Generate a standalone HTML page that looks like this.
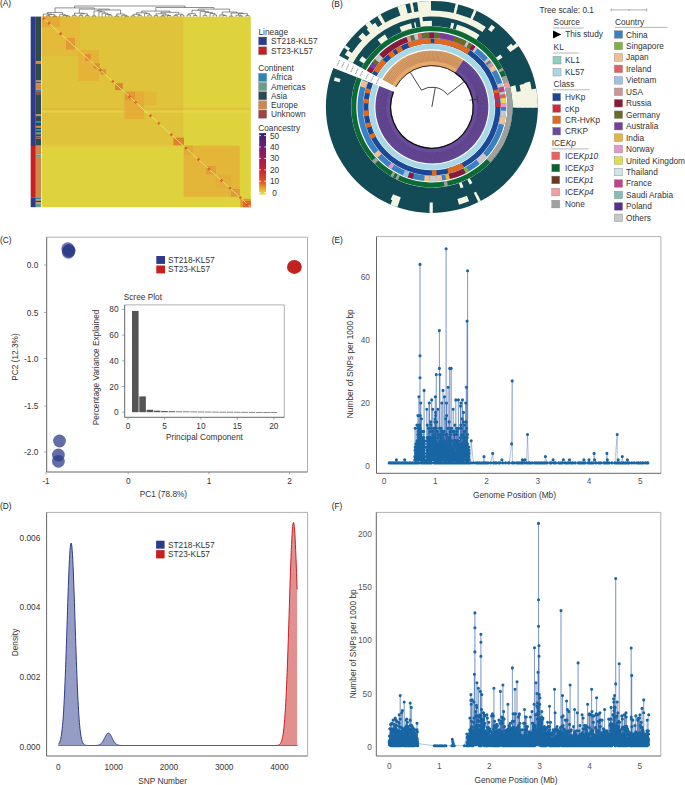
<!DOCTYPE html>
<html><head><meta charset="utf-8"><style>
html,body{margin:0;padding:0;background:#fff;width:685px;height:785px;overflow:hidden}
svg{display:block}
text{font-family:"Liberation Sans", sans-serif}
</style></head><body>
<svg width="685" height="785" viewBox="0 0 685 785" font-family="Liberation Sans, sans-serif">
<text x="0.00" y="6.20" font-size="8.3" fill="#222" text-anchor="start" >(A)</text>
<rect x="30.70" y="16.60" width="5.10" height="129.40" fill="#2e3b8a" />
<rect x="30.70" y="146.00" width="5.10" height="51.30" fill="#c82020" />
<rect x="30.70" y="197.30" width="5.10" height="9.90" fill="#2e3b8a" />
<rect x="35.80" y="16.60" width="5.20" height="44.90" fill="#2e4a50" />
<rect x="35.80" y="61.50" width="5.20" height="2.20" fill="#d0884a" />
<rect x="35.80" y="63.70" width="5.20" height="16.90" fill="#2e4a50" />
<rect x="35.80" y="80.60" width="5.20" height="1.50" fill="#d0884a" />
<rect x="35.80" y="82.10" width="5.20" height="1.10" fill="#2e4a50" />
<rect x="35.80" y="83.20" width="5.20" height="6.30" fill="#d0884a" />
<rect x="35.80" y="89.50" width="5.20" height="2.50" fill="#2b86b8" />
<rect x="35.80" y="92.00" width="5.20" height="2.20" fill="#a0443f" />
<rect x="35.80" y="94.20" width="5.20" height="20.30" fill="#2e4a50" />
<rect x="35.80" y="114.50" width="5.20" height="1.60" fill="#d0884a" />
<rect x="35.80" y="116.10" width="5.20" height="5.60" fill="#2e4a50" />
<rect x="35.80" y="121.70" width="5.20" height="1.30" fill="#2b86b8" />
<rect x="35.80" y="123.00" width="5.20" height="2.90" fill="#2e4a50" />
<rect x="35.80" y="125.90" width="5.20" height="1.70" fill="#d0884a" />
<rect x="35.80" y="127.60" width="5.20" height="2.10" fill="#2e4a50" />
<rect x="35.80" y="129.70" width="5.20" height="1.30" fill="#2b86b8" />
<rect x="35.80" y="131.00" width="5.20" height="1.70" fill="#2e4a50" />
<rect x="35.80" y="132.70" width="5.20" height="1.50" fill="#6a9e8a" />
<rect x="35.80" y="134.20" width="5.20" height="2.30" fill="#2e4a50" />
<rect x="35.80" y="136.50" width="5.20" height="2.20" fill="#a0443f" />
<rect x="35.80" y="138.70" width="5.20" height="7.00" fill="#2e4a50" />
<rect x="35.80" y="145.70" width="5.20" height="8.90" fill="#d0884a" />
<rect x="35.80" y="154.60" width="5.20" height="2.30" fill="#6a9e8a" />
<rect x="35.80" y="156.90" width="5.20" height="40.40" fill="#d0884a" />
<rect x="35.80" y="197.30" width="5.20" height="1.90" fill="#2b86b8" />
<rect x="35.80" y="199.20" width="5.20" height="1.50" fill="#d0884a" />
<rect x="35.80" y="200.70" width="5.20" height="1.70" fill="#2e4a50" />
<rect x="35.80" y="202.40" width="5.20" height="1.20" fill="#d0884a" />
<rect x="35.80" y="203.60" width="5.20" height="3.60" fill="#6a9e8a" />
<rect x="41.70" y="16.60" width="209.10" height="190.60" fill="#dfd33d" />
<rect x="41.70" y="16.60" width="141.60" height="128.90" fill="#dfc43b" fill-opacity="1.0"/>
<rect x="183.60" y="145.60" width="56.20" height="51.20" fill="#e3b63a" fill-opacity="1.0"/>
<rect x="240.30" y="198.80" width="10.50" height="8.40" fill="#e39a32" fill-opacity="1.0"/>
<rect x="41.70" y="108.30" width="209.10" height="1.30" fill="#e4ac38" fill-opacity="0.6"/>
<rect x="41.70" y="110.60" width="209.10" height="2.00" fill="#e6dc58" fill-opacity="0.5"/>
<rect x="41.70" y="145.50" width="140.90" height="1.50" fill="#e0c440" fill-opacity="0.5"/>
<rect x="41.70" y="16.60" width="38.30" height="39.40" fill="#e8b038" fill-opacity="0.45"/>
<rect x="41.70" y="16.60" width="18.30" height="10.40" fill="#e6a034" fill-opacity="0.6"/>
<rect x="66.00" y="38.00" width="9.00" height="11.50" fill="#e39436" fill-opacity="0.9"/>
<rect x="78.00" y="50.00" width="21.00" height="31.00" fill="#e6ac36" fill-opacity="0.7"/>
<rect x="85.00" y="54.00" width="5.60" height="7.00" fill="#e08a34" fill-opacity="0.9"/>
<rect x="93.60" y="63.30" width="6.20" height="5.30" fill="#e08a34" fill-opacity="0.9"/>
<rect x="100.50" y="69.40" width="5.50" height="5.40" fill="#e08a34" fill-opacity="0.9"/>
<rect x="115.00" y="83.20" width="7.80" height="6.90" fill="#e07a30" fill-opacity="0.9"/>
<rect x="124.30" y="91.60" width="19.90" height="27.60" fill="#e6a636" fill-opacity="0.8"/>
<rect x="144.20" y="91.60" width="12.30" height="13.40" fill="#e6b038" fill-opacity="0.6"/>
<rect x="125.00" y="91.60" width="10.00" height="8.40" fill="#e39036" fill-opacity="0.7"/>
<rect x="173.40" y="137.60" width="10.60" height="7.70" fill="#e07a30" fill-opacity="0.9"/>
<rect x="206.00" y="166.00" width="9.80" height="8.70" fill="#e29a36" fill-opacity="0.8"/>
<rect x="231.00" y="189.00" width="8.80" height="7.70" fill="#e0903a" fill-opacity="0.8"/>
<rect x="184.10" y="145.60" width="9.20" height="9.70" fill="#e2a036" fill-opacity="0.6"/>
<rect x="215.80" y="174.70" width="15.20" height="13.30" fill="#e2aa38" fill-opacity="0.5"/>
<rect x="243.00" y="201.00" width="7.80" height="6.20" fill="#dc5a2a" fill-opacity="0.8"/>
<line x1="41.7" y1="16.6" x2="250.8" y2="207.2" stroke="#ebe066" stroke-width="1.0"/>
<rect x="42.59" y="17.31" width="2.4" height="2.4" fill="#d8482c" fill-opacity="0.8" transform="rotate(45 43.79 18.51)"/>
<rect x="47.82" y="22.07" width="2.4" height="2.4" fill="#d8482c" fill-opacity="0.8" transform="rotate(45 49.02 23.27)"/>
<rect x="59.32" y="32.55" width="2.4" height="2.4" fill="#d8482c" fill-opacity="0.8" transform="rotate(45 60.52 33.75)"/>
<rect x="99.05" y="68.77" width="2.4" height="2.4" fill="#d8482c" fill-opacity="0.8" transform="rotate(45 100.25 69.97)"/>
<rect x="111.59" y="80.20" width="2.4" height="2.4" fill="#d8482c" fill-opacity="0.8" transform="rotate(45 112.79 81.40)"/>
<rect x="128.32" y="95.45" width="2.4" height="2.4" fill="#d8482c" fill-opacity="0.8" transform="rotate(45 129.52 96.65)"/>
<rect x="134.60" y="101.17" width="2.4" height="2.4" fill="#d8482c" fill-opacity="0.8" transform="rotate(45 135.80 102.37)"/>
<rect x="149.23" y="114.51" width="2.4" height="2.4" fill="#d8482c" fill-opacity="0.8" transform="rotate(45 150.43 115.71)"/>
<rect x="157.60" y="122.14" width="2.4" height="2.4" fill="#d8482c" fill-opacity="0.8" transform="rotate(45 158.80 123.34)"/>
<rect x="170.14" y="133.57" width="2.4" height="2.4" fill="#d8482c" fill-opacity="0.8" transform="rotate(45 171.34 134.77)"/>
<rect x="184.78" y="146.91" width="2.4" height="2.4" fill="#d8482c" fill-opacity="0.8" transform="rotate(45 185.98 148.11)"/>
<rect x="197.33" y="158.35" width="2.4" height="2.4" fill="#d8482c" fill-opacity="0.8" transform="rotate(45 198.53 159.55)"/>
<rect x="207.78" y="167.88" width="2.4" height="2.4" fill="#d8482c" fill-opacity="0.8" transform="rotate(45 208.98 169.08)"/>
<rect x="220.33" y="179.32" width="2.4" height="2.4" fill="#d8482c" fill-opacity="0.8" transform="rotate(45 221.53 180.52)"/>
<rect x="228.69" y="186.94" width="2.4" height="2.4" fill="#d8482c" fill-opacity="0.8" transform="rotate(45 229.89 188.14)"/>
<rect x="239.15" y="196.47" width="2.4" height="2.4" fill="#d8482c" fill-opacity="0.8" transform="rotate(45 240.35 197.67)"/>
<rect x="246.46" y="203.14" width="2.4" height="2.4" fill="#d8482c" fill-opacity="0.8" transform="rotate(45 247.66 204.34)"/>
<path d="M46.6 16.6L46.6 15.7M49.9 16.6L49.9 15.7M46.6 15.7L49.9 15.7M53.1 16.6L53.1 16.1M56.4 16.6L56.4 16.1M53.1 16.1L56.4 16.1M48.2 15.7L48.2 14.6M54.8 16.1L54.8 14.6M48.2 14.6L54.8 14.6M43.3 16.6L43.3 14.0M51.5 14.6L51.5 14.0M43.3 14.0L51.5 14.0M66.2 16.6L66.2 16.0M69.5 16.6L69.5 16.0M66.2 16.0L69.5 16.0M62.9 16.6L62.9 15.5M67.8 16.0L67.8 15.5M62.9 15.5L67.8 15.5M59.7 16.6L59.7 14.4M65.4 15.5L65.4 14.4M59.7 14.4L65.4 14.4M47.4 14.0L47.4 12.5M62.5 14.4L62.5 12.5M47.4 12.5L62.5 12.5M72.7 16.6L72.7 15.3M76.0 16.6L76.0 15.3M72.7 15.3L76.0 15.3M79.3 16.6L79.3 15.4M82.5 16.6L82.5 15.4M79.3 15.4L82.5 15.4M85.8 16.6L85.8 15.6M89.1 16.6L89.1 15.6M85.8 15.6L89.1 15.6M80.9 15.4L80.9 13.7M87.4 15.6L87.4 13.7M80.9 13.7L87.4 13.7M74.4 15.3L74.4 13.2M84.2 13.7L84.2 13.2M74.4 13.2L84.2 13.2M92.3 16.6L92.3 15.9M95.6 16.6L95.6 15.9M92.3 15.9L95.6 15.9M108.7 16.6L108.7 15.1M111.9 16.6L111.9 15.1M108.7 15.1L111.9 15.1M105.4 16.6L105.4 14.4M110.3 15.1L110.3 14.4M105.4 14.4L110.3 14.4M102.1 16.6L102.1 13.2M107.9 14.4L107.9 13.2M102.1 13.2L107.9 13.2M98.9 16.6L98.9 11.9M105.0 13.2L105.0 11.9M98.9 11.9L105.0 11.9M94.0 15.9L94.0 11.0M101.9 11.9L101.9 11.0M94.0 11.0L101.9 11.0M115.2 16.6L115.2 16.0M118.5 16.6L118.5 16.0M115.2 16.0L118.5 16.0M125.0 16.6L125.0 16.1M128.3 16.6L128.3 16.1M125.0 16.1L128.3 16.1M121.7 16.6L121.7 15.3M126.6 16.1L126.6 15.3M121.7 15.3L126.6 15.3M116.8 16.0L116.8 14.0M124.2 15.3L124.2 14.0M116.8 14.0L124.2 14.0M98.0 11.0L98.0 10.0M120.5 14.0L120.5 10.0M98.0 10.0L120.5 10.0M79.3 13.2L79.3 9.1M109.2 10.0L109.2 9.1M79.3 9.1L109.2 9.1M55.0 12.5L55.0 7.9M94.3 9.1L94.3 7.9M55.0 7.9L94.3 7.9M131.5 16.6L131.5 15.8M134.8 16.6L134.8 15.8M131.5 15.8L134.8 15.8M138.1 16.6L138.1 15.4M141.3 16.6L141.3 15.4M138.1 15.4L141.3 15.4M133.2 15.8L133.2 14.3M139.7 15.4L139.7 14.3M133.2 14.3L139.7 14.3M147.9 16.6L147.9 15.0M151.2 16.6L151.2 15.0M147.9 15.0L151.2 15.0M144.6 16.6L144.6 13.6M149.5 15.0L149.5 13.6M144.6 13.6L149.5 13.6M136.4 14.3L136.4 12.8M147.1 13.6L147.1 12.8M136.4 12.8L147.1 12.8M154.4 16.6L154.4 15.6M157.7 16.6L157.7 15.6M154.4 15.6L157.7 15.6M161.0 16.6L161.0 15.9M164.2 16.6L164.2 15.9M161.0 15.9L164.2 15.9M167.5 16.6L167.5 15.5M170.8 16.6L170.8 15.5M167.5 15.5L170.8 15.5M162.6 15.9L162.6 15.0M169.1 15.5L169.1 15.0M162.6 15.0L169.1 15.0M156.1 15.6L156.1 13.7M165.9 15.0L165.9 13.7M156.1 13.7L165.9 13.7M174.0 16.6L174.0 15.4M177.3 16.6L177.3 15.4M174.0 15.4L177.3 15.4M180.6 16.6L180.6 15.0M183.8 16.6L183.8 15.0M180.6 15.0L183.8 15.0M175.7 15.4L175.7 14.2M182.2 15.0L182.2 14.2M175.7 14.2L182.2 14.2M161.0 13.7L161.0 12.3M178.9 14.2L178.9 12.3M161.0 12.3L178.9 12.3M141.8 12.8L141.8 11.1M169.9 12.3L169.9 11.1M141.8 11.1L169.9 11.1M187.1 16.6L187.1 14.9M190.4 16.6L190.4 14.9M187.1 14.9L190.4 14.9M193.6 16.6L193.6 15.5M196.9 16.6L196.9 15.5M193.6 15.5L196.9 15.5M188.7 14.9L188.7 13.6M195.3 15.5L195.3 13.6M188.7 13.6L195.3 13.6M203.4 16.6L203.4 15.3M206.7 16.6L206.7 15.3M203.4 15.3L206.7 15.3M213.2 16.6L213.2 14.9M216.5 16.6L216.5 14.9M213.2 14.9L216.5 14.9M210.0 16.6L210.0 13.4M214.9 14.9L214.9 13.4M210.0 13.4L214.9 13.4M205.1 15.3L205.1 12.5M212.4 13.4L212.4 12.5M205.1 12.5L212.4 12.5M200.2 16.6L200.2 11.6M208.7 12.5L208.7 11.6M200.2 11.6L208.7 11.6M192.0 13.6L192.0 10.3M204.4 11.6L204.4 10.3M192.0 10.3L204.4 10.3M223.0 16.6L223.0 15.5M226.3 16.6L226.3 15.5M223.0 15.5L226.3 15.5M219.8 16.6L219.8 14.9M224.7 15.5L224.7 14.9M219.8 14.9L224.7 14.9M229.6 16.6L229.6 16.1M232.8 16.6L232.8 16.1M229.6 16.1L232.8 16.1M239.4 16.6L239.4 16.0M242.6 16.6L242.6 16.0M239.4 16.0L242.6 16.0M236.1 16.6L236.1 15.2M241.0 16.0L241.0 15.2M236.1 15.2L241.0 15.2M245.9 16.6L245.9 15.6M249.2 16.6L249.2 15.6M245.9 15.6L249.2 15.6M238.5 15.2L238.5 13.6M247.5 15.6L247.5 13.6M238.5 13.6L247.5 13.6M231.2 16.1L231.2 13.0M243.0 13.6L243.0 13.0M231.2 13.0L243.0 13.0M222.2 14.9L222.2 12.0M237.1 13.0L237.1 12.0M222.2 12.0L237.1 12.0M198.2 10.3L198.2 9.1M229.7 12.0L229.7 9.1M198.2 9.1L229.7 9.1M155.8 11.1L155.8 7.5M213.9 9.1L213.9 7.5M155.8 7.5L213.9 7.5M74.6 7.9L74.6 6.0M184.9 7.5L184.9 6.0M74.6 6.0L184.9 6.0" stroke="#444" stroke-width="0.6" fill="none"/>
<text x="258.50" y="34.80" font-size="8.3" fill="#333" text-anchor="start" >Lineage</text>
<rect x="258.50" y="37.00" width="8.30" height="8.00" fill="#2e3b8a" stroke="#999" stroke-width="0.4"/>
<text x="271.00" y="44.20" font-size="8.3" fill="#333" text-anchor="start" >ST218-KL57</text>
<rect x="258.50" y="46.80" width="8.30" height="8.00" fill="#c82020" stroke="#999" stroke-width="0.4"/>
<text x="271.00" y="54.00" font-size="8.3" fill="#333" text-anchor="start" >ST23-KL57</text>
<text x="258.20" y="70.80" font-size="8.3" fill="#333" text-anchor="start" >Continent</text>
<rect x="258.50" y="73.20" width="8.30" height="8.30" fill="#2b86b8" stroke="#999" stroke-width="0.4"/>
<text x="271.00" y="80.30" font-size="8.3" fill="#333" text-anchor="start" >Africa</text>
<rect x="258.50" y="82.40" width="8.30" height="8.30" fill="#6a9e8a" stroke="#999" stroke-width="0.4"/>
<text x="271.00" y="89.50" font-size="8.3" fill="#333" text-anchor="start" >Americas</text>
<rect x="258.50" y="91.60" width="8.30" height="8.30" fill="#2e4a50" stroke="#999" stroke-width="0.4"/>
<text x="271.00" y="98.70" font-size="8.3" fill="#333" text-anchor="start" >Asia</text>
<rect x="258.50" y="100.80" width="8.30" height="8.30" fill="#d0884a" stroke="#999" stroke-width="0.4"/>
<text x="271.00" y="107.90" font-size="8.3" fill="#333" text-anchor="start" >Europe</text>
<rect x="258.50" y="110.00" width="8.30" height="8.30" fill="#a0443f" stroke="#999" stroke-width="0.4"/>
<text x="271.00" y="117.10" font-size="8.3" fill="#333" text-anchor="start" >Unknown</text>
<text x="258.20" y="130.50" font-size="8.3" fill="#333" text-anchor="start" >Coancestry</text>
<defs><linearGradient id="cb" x1="0" y1="1" x2="0" y2="0"><stop offset="0" stop-color="#e6e43c"/><stop offset="0.1" stop-color="#e8a828"/><stop offset="0.2" stop-color="#e05a22"/><stop offset="0.4" stop-color="#cc2030"/><stop offset="0.6" stop-color="#a01a58"/><stop offset="0.8" stop-color="#6a1e78"/><stop offset="1" stop-color="#342070"/></linearGradient></defs>
<rect x="259.20" y="133.10" width="6.80" height="61.60" fill="url(#cb)" />
<line x1="259.2" y1="192.6" x2="261.0" y2="192.6" stroke="#fff" stroke-width="0.8"/>
<line x1="264.2" y1="192.6" x2="266" y2="192.6" stroke="#fff" stroke-width="0.8"/>
<text x="274.60" y="195.60" font-size="8.3" fill="#333" text-anchor="middle" >0</text>
<line x1="259.2" y1="181.2" x2="261.0" y2="181.2" stroke="#fff" stroke-width="0.8"/>
<line x1="264.2" y1="181.2" x2="266" y2="181.2" stroke="#fff" stroke-width="0.8"/>
<text x="274.60" y="184.20" font-size="8.3" fill="#333" text-anchor="middle" >10</text>
<line x1="259.2" y1="169.8" x2="261.0" y2="169.8" stroke="#fff" stroke-width="0.8"/>
<line x1="264.2" y1="169.8" x2="266" y2="169.8" stroke="#fff" stroke-width="0.8"/>
<text x="274.60" y="172.80" font-size="8.3" fill="#333" text-anchor="middle" >20</text>
<line x1="259.2" y1="158.4" x2="261.0" y2="158.4" stroke="#fff" stroke-width="0.8"/>
<line x1="264.2" y1="158.4" x2="266" y2="158.4" stroke="#fff" stroke-width="0.8"/>
<text x="274.60" y="161.40" font-size="8.3" fill="#333" text-anchor="middle" >30</text>
<line x1="259.2" y1="147.0" x2="261.0" y2="147.0" stroke="#fff" stroke-width="0.8"/>
<line x1="264.2" y1="147.0" x2="266" y2="147.0" stroke="#fff" stroke-width="0.8"/>
<text x="274.60" y="150.00" font-size="8.3" fill="#333" text-anchor="middle" >40</text>
<line x1="259.2" y1="135.6" x2="261.0" y2="135.6" stroke="#fff" stroke-width="0.8"/>
<line x1="264.2" y1="135.6" x2="266" y2="135.6" stroke="#fff" stroke-width="0.8"/>
<text x="274.60" y="138.60" font-size="8.3" fill="#333" text-anchor="middle" >50</text>
<text x="331.60" y="7.20" font-size="8.3" fill="#222" text-anchor="start" >(B)</text>
<path d="M339.19 55.51A106.00 106.00 0 1 1 333.34 67.88L356.87 77.19A80.70 80.70 0 1 0 361.32 67.78Z" fill="#124b56" />
<path d="M359.16 60.56A86.25 86.25 0 0 1 362.12 56.20L366.61 59.47A80.70 80.70 0 0 0 363.84 63.54Z" fill="#f3f5e2" />
<path d="M377.62 39.87A86.25 86.25 0 0 1 384.92 34.56L387.95 39.22A80.70 80.70 0 0 0 381.11 44.18Z" fill="#f3f5e2" />
<path d="M399.59 26.93A86.25 86.25 0 0 1 411.03 23.21L412.38 28.60A80.70 80.70 0 0 0 401.67 32.08Z" fill="#f3f5e2" />
<path d="M413.97 22.53A86.25 86.25 0 0 1 415.44 22.23L416.50 27.68A80.70 80.70 0 0 0 415.12 27.96Z" fill="#f3f5e2" />
<path d="M419.90 21.49A86.25 86.25 0 0 1 431.90 20.65L431.90 26.20A80.70 80.70 0 0 0 420.67 26.99Z" fill="#f3f5e2" />
<path d="M451.30 22.86A86.25 86.25 0 0 1 454.22 23.59L452.79 28.95A80.70 80.70 0 0 0 450.05 28.27Z" fill="#f3f5e2" />
<path d="M457.12 24.42A86.25 86.25 0 0 1 479.50 34.98L476.44 39.61A80.70 80.70 0 0 0 455.49 29.73Z" fill="#f3f5e2" />
<path d="M500.33 54.39A86.25 86.25 0 0 1 502.55 57.43L498.01 60.61A80.70 80.70 0 0 0 495.92 57.77Z" fill="#f3f5e2" />
<path d="M515.40 85.30A86.25 86.25 0 0 1 518.15 107.65L512.60 107.60A80.70 80.70 0 0 0 510.03 86.69Z" fill="#f3f5e2" />
<path d="M472.39 183.05A86.25 86.25 0 0 1 469.71 184.42L467.28 179.43A80.70 80.70 0 0 0 469.79 178.15Z" fill="#f3f5e2" />
<path d="M463.51 187.15A86.25 86.25 0 0 1 460.69 188.20L458.84 182.97A80.70 80.70 0 0 0 461.48 181.98Z" fill="#f3f5e2" />
<path d="M419.20 16.54A91.25 91.25 0 0 1 422.36 16.15L422.98 22.02A85.35 85.35 0 0 0 420.02 22.38Z" fill="#f3f5e2" />
<path d="M521.76 91.05A91.25 91.25 0 0 1 523.15 107.70L517.25 107.64A85.35 85.35 0 0 0 515.95 92.08Z" fill="#f3f5e2" />
<path d="M347.54 60.14A96.45 96.45 0 0 1 485.83 26.94L482.42 32.00A90.35 90.35 0 0 0 352.88 63.10Z" fill="#f3f5e2" />
<path d="M525.49 83.57A96.45 96.45 0 0 1 528.35 107.74L522.25 107.69A90.35 90.35 0 0 0 519.57 85.04Z" fill="#f3f5e2" />
<path d="M344.94 54.65A101.45 101.45 0 0 1 347.79 50.17L352.69 53.47A95.55 95.55 0 0 0 350.00 57.69Z" fill="#f3f5e2" />
<path d="M358.31 37.07A101.45 101.45 0 0 1 362.71 32.70L366.74 37.02A95.55 95.55 0 0 0 362.59 41.13Z" fill="#f3f5e2" />
<path d="M366.69 29.18A101.45 101.45 0 0 1 375.17 22.79L378.47 27.69A95.55 95.55 0 0 0 370.48 33.70Z" fill="#f3f5e2" />
<path d="M379.65 19.94A101.45 101.45 0 0 1 382.72 18.17L385.58 23.33A95.55 95.55 0 0 0 382.69 25.00Z" fill="#f3f5e2" />
<path d="M398.87 10.98A101.45 101.45 0 0 1 406.50 8.68L407.98 14.39A95.55 95.55 0 0 0 400.79 16.56Z" fill="#f3f5e2" />
<path d="M410.81 7.67A101.45 101.45 0 0 1 413.41 7.15L414.49 12.95A95.55 95.55 0 0 0 412.03 13.44Z" fill="#f3f5e2" />
<path d="M417.78 6.44A101.45 101.45 0 0 1 431.01 5.45L431.07 11.35A95.55 95.55 0 0 0 418.60 12.28Z" fill="#f3f5e2" />
<path d="M454.72 8.05A101.45 101.45 0 0 1 457.30 8.68L455.82 14.39A95.55 95.55 0 0 0 453.39 13.80Z" fill="#f3f5e2" />
<path d="M472.35 13.86A101.45 101.45 0 0 1 474.77 14.96L472.28 20.30A95.55 95.55 0 0 0 470.00 19.27Z" fill="#f3f5e2" />
<path d="M491.53 24.83A101.45 101.45 0 0 1 495.05 27.50L491.38 32.12A95.55 95.55 0 0 0 488.06 29.60Z" fill="#f3f5e2" />
<path d="M511.30 43.75A101.45 101.45 0 0 1 515.00 48.71L510.17 52.09A95.55 95.55 0 0 0 506.68 47.42Z" fill="#f3f5e2" />
<path d="M530.12 81.50A101.45 101.45 0 0 1 533.35 107.79L527.45 107.73A95.55 95.55 0 0 0 524.41 82.98Z" fill="#f3f5e2" />
<path d="M478.74 196.89A101.45 101.45 0 0 1 476.37 198.08L473.79 192.78A95.55 95.55 0 0 0 476.02 191.65Z" fill="#f3f5e2" />
<path d="M469.08 201.29A101.45 101.45 0 0 1 459.01 204.66L457.43 198.97A95.55 95.55 0 0 0 466.92 195.80Z" fill="#f3f5e2" />
<path d="M432.79 208.35A101.45 101.45 0 0 1 429.60 208.32L429.73 202.43A95.55 95.55 0 0 0 432.73 202.45Z" fill="#f3f5e2" />
<path d="M398.87 202.82A101.45 101.45 0 0 1 390.64 199.58L393.04 194.19A95.55 95.55 0 0 0 400.79 197.24Z" fill="#f3f5e2" />
<path d="M333.91 80.64A101.45 101.45 0 0 1 334.88 77.24L340.53 78.96A95.55 95.55 0 0 0 339.61 82.17Z" fill="#f3f5e2" />
<path d="M344.02 47.63A106.00 106.00 0 0 1 345.60 45.35L350.04 48.51A100.55 100.55 0 0 0 348.54 50.67Z" fill="#f3f5e2" />
<path d="M365.19 24.52A106.00 106.00 0 0 1 369.59 21.14L372.80 25.55A100.55 100.55 0 0 0 368.62 28.76Z" fill="#f3f5e2" />
<path d="M377.31 16.04A106.00 106.00 0 0 1 380.51 14.19L383.15 18.96A100.55 100.55 0 0 0 380.11 20.71Z" fill="#f3f5e2" />
<path d="M397.39 6.68A106.00 106.00 0 0 1 405.36 4.28L406.72 9.55A100.55 100.55 0 0 0 399.16 11.83Z" fill="#f3f5e2" />
<path d="M409.86 3.22A106.00 106.00 0 0 1 412.58 2.67L413.58 8.03A100.55 100.55 0 0 0 410.99 8.55Z" fill="#f3f5e2" />
<path d="M417.15 1.93A106.00 106.00 0 0 1 430.97 0.90L431.02 6.35A100.55 100.55 0 0 0 417.91 7.33Z" fill="#f3f5e2" />
<path d="M455.74 3.62A106.00 106.00 0 0 1 458.44 4.28L457.08 9.55A100.55 100.55 0 0 0 454.52 8.93Z" fill="#f3f5e2" />
<path d="M474.17 9.69A106.00 106.00 0 0 1 476.70 10.83L474.39 15.77A100.55 100.55 0 0 0 471.99 14.69Z" fill="#f3f5e2" />
<path d="M516.56 43.11A106.00 106.00 0 0 1 518.73 46.10L514.27 49.23A100.55 100.55 0 0 0 512.20 46.39Z" fill="#f3f5e2" />
<path d="M536.29 88.49A106.00 106.00 0 0 1 537.90 107.83L532.45 107.78A100.55 100.55 0 0 0 530.92 89.44Z" fill="#f3f5e2" />
<path d="M480.85 200.92A106.00 106.00 0 0 1 478.37 202.17L475.98 197.27A100.55 100.55 0 0 0 478.33 196.09Z" fill="#f3f5e2" />
<path d="M432.83 212.90A106.00 106.00 0 0 1 429.50 212.87L429.62 207.42A100.55 100.55 0 0 0 432.78 207.45Z" fill="#f3f5e2" />
<path d="M397.39 207.12A106.00 106.00 0 0 1 390.48 204.47L392.61 199.46A100.55 100.55 0 0 0 399.16 201.97Z" fill="#f3f5e2" />
<path d="M361.41 67.82A80.60 80.60 0 1 1 356.96 77.23L361.61 79.07A75.60 75.60 0 1 0 365.78 70.25Z" fill="#0c6b35" />
<path d="M502.39 67.82A80.60 80.60 0 0 1 503.72 70.31L499.26 72.58A75.60 75.60 0 0 0 498.02 70.25Z" fill="#a0a0a0" />
<path d="M506.09 75.41A80.60 80.60 0 0 1 490.37 162.38L486.74 158.94A75.60 75.60 0 0 0 501.49 77.36Z" fill="#a0a0a0" />
<path d="M508.56 81.99A80.60 80.60 0 0 1 510.11 87.40L505.25 88.61A75.60 75.60 0 0 0 503.80 83.54Z" fill="#f0a0a0" />
<path d="M447.97 185.88A80.60 80.60 0 0 1 444.51 186.51L443.73 181.57A75.60 75.60 0 0 0 446.97 180.98Z" fill="#a0a0a0" />
<path d="M397.84 179.95A80.60 80.60 0 0 1 395.31 178.72L397.58 174.26A75.60 75.60 0 0 0 399.95 175.42Z" fill="#a0a0a0" />
<path d="M392.82 177.39A80.60 80.60 0 0 1 390.39 175.99L392.96 171.70A75.60 75.60 0 0 0 395.25 173.02Z" fill="#a0a0a0" />
<path d="M374.91 163.89A80.60 80.60 0 0 1 372.00 160.83L375.72 157.49A75.60 75.60 0 0 0 378.44 160.36Z" fill="#a0a0a0" />
<path d="M366.83 70.83A74.40 74.40 0 1 1 362.72 79.51L367.75 81.50A69.00 69.00 0 1 0 371.55 73.45Z" fill="#3a80c2" />
<path d="M366.83 70.83A74.40 74.40 0 0 1 369.50 66.38L374.03 69.32A69.00 69.00 0 0 0 371.55 73.45Z" fill="#8a1a38" />
<path d="M369.50 66.38A74.40 74.40 0 0 1 372.48 62.12L376.79 65.37A69.00 69.00 0 0 0 374.03 69.32Z" fill="#7a3e9a" />
<path d="M372.48 62.12A74.40 74.40 0 0 1 374.91 59.08L379.04 62.55A69.00 69.00 0 0 0 376.79 65.37Z" fill="#6a6a2a" />
<path d="M374.91 59.08A74.40 74.40 0 0 1 379.29 54.29L383.11 58.11A69.00 69.00 0 0 0 379.04 62.55Z" fill="#c8c8c8" />
<path d="M379.29 54.29A74.40 74.40 0 0 1 406.45 36.99L408.30 42.06A69.00 69.00 0 0 0 383.11 58.11Z" fill="#8a1a38" />
<path d="M406.45 36.99A74.40 74.40 0 0 1 410.15 35.75L411.73 40.91A69.00 69.00 0 0 0 408.30 42.06Z" fill="#c89898" />
<path d="M410.15 35.75A74.40 74.40 0 0 1 413.90 34.71L415.21 39.95A69.00 69.00 0 0 0 411.73 40.91Z" fill="#6a6a2a" />
<path d="M413.90 34.71A74.40 74.40 0 0 1 417.70 33.87L418.73 39.17A69.00 69.00 0 0 0 415.21 39.95Z" fill="#c8c8c8" />
<path d="M417.70 33.87A74.40 74.40 0 0 1 421.55 33.22L422.30 38.57A69.00 69.00 0 0 0 418.73 39.17Z" fill="#e06060" />
<path d="M421.55 33.22A74.40 74.40 0 0 1 429.30 32.55L429.49 37.94A69.00 69.00 0 0 0 422.30 38.57Z" fill="#6a6a2a" />
<path d="M429.30 32.55A74.40 74.40 0 0 1 434.50 32.55L434.31 37.94A69.00 69.00 0 0 0 429.49 37.94Z" fill="#8a1a38" />
<path d="M434.50 32.55A74.40 74.40 0 0 1 439.68 32.91L439.11 38.28A69.00 69.00 0 0 0 434.31 37.94Z" fill="#6a6a2a" />
<path d="M439.68 32.91A74.40 74.40 0 0 1 454.89 36.14L453.22 41.28A69.00 69.00 0 0 0 439.11 38.28Z" fill="#7a3e9a" />
<path d="M454.89 36.14A74.40 74.40 0 0 1 466.83 41.21L464.29 45.98A69.00 69.00 0 0 0 453.22 41.28Z" fill="#6a6a2a" />
<path d="M466.83 41.21A74.40 74.40 0 0 1 469.10 42.47L466.40 47.14A69.00 69.00 0 0 0 464.29 45.98Z" fill="#c8c8c8" />
<path d="M469.10 42.47A74.40 74.40 0 0 1 472.42 44.50L469.48 49.03A69.00 69.00 0 0 0 466.40 47.14Z" fill="#6a6a2a" />
<path d="M472.42 44.50A74.40 74.40 0 0 1 475.63 46.71L472.46 51.08A69.00 69.00 0 0 0 469.48 49.03Z" fill="#8a1a38" />
<path d="M475.63 46.71A74.40 74.40 0 0 1 477.71 48.27L474.38 52.53A69.00 69.00 0 0 0 472.46 51.08Z" fill="#c8c8c8" />
<path d="M488.05 58.09A74.40 74.40 0 0 1 489.72 60.08L485.52 63.48A69.00 69.00 0 0 0 483.97 61.63Z" fill="#f2c08e" />
<path d="M491.32 62.12A74.40 74.40 0 0 1 493.58 65.30L489.10 68.32A69.00 69.00 0 0 0 487.01 65.37Z" fill="#c89898" />
<path d="M493.58 65.30A74.40 74.40 0 0 1 496.33 69.70L491.66 72.40A69.00 69.00 0 0 0 489.10 68.32Z" fill="#f2c08e" />
<path d="M502.25 82.68A74.40 74.40 0 0 1 503.42 86.39L498.23 87.88A69.00 69.00 0 0 0 497.14 84.44Z" fill="#c8c8c8" />
<path d="M503.42 86.39A74.40 74.40 0 0 1 504.67 91.43L499.39 92.55A69.00 69.00 0 0 0 498.23 87.88Z" fill="#c04488" />
<path d="M504.67 91.43A74.40 74.40 0 0 1 505.17 93.98L499.85 94.92A69.00 69.00 0 0 0 499.39 92.55Z" fill="#c8c8c8" />
<path d="M505.17 93.98A74.40 74.40 0 0 1 505.75 97.83L500.39 98.49A69.00 69.00 0 0 0 499.85 94.92Z" fill="#e06060" />
<path d="M505.75 97.83A74.40 74.40 0 0 1 506.20 103.01L500.81 103.29A69.00 69.00 0 0 0 500.39 98.49Z" fill="#e0de48" />
<path d="M506.20 103.01A74.40 74.40 0 0 1 506.30 106.90L500.90 106.90A69.00 69.00 0 0 0 500.81 103.29Z" fill="#e696c8" />
<path d="M506.20 110.79A74.40 74.40 0 0 1 505.58 117.25L500.23 116.50A69.00 69.00 0 0 0 500.81 110.51Z" fill="#c8c8c8" />
<path d="M505.58 117.25A74.40 74.40 0 0 1 504.09 124.90L498.85 123.59A69.00 69.00 0 0 0 500.23 116.50Z" fill="#f2c08e" />
<path d="M487.19 156.68A74.40 74.40 0 0 1 479.72 163.89L476.25 159.76A69.00 69.00 0 0 0 483.18 153.07Z" fill="#c8c8c8" />
<path d="M469.10 171.33A74.40 74.40 0 0 1 465.68 173.19L463.23 168.38A69.00 69.00 0 0 0 466.40 166.66Z" fill="#7cb342" />
<path d="M465.68 173.19A74.40 74.40 0 0 1 449.90 179.09L448.59 173.85A69.00 69.00 0 0 0 463.23 168.38Z" fill="#8a1a38" />
<path d="M449.90 179.09A74.40 74.40 0 0 1 446.10 179.93L445.07 174.63A69.00 69.00 0 0 0 448.59 173.85Z" fill="#e6b440" />
<path d="M442.25 180.58A74.40 74.40 0 0 1 437.09 181.12L436.71 175.73A69.00 69.00 0 0 0 441.50 175.23Z" fill="#f2c08e" />
<path d="M437.09 181.12A74.40 74.40 0 0 1 429.30 181.25L429.49 175.86A69.00 69.00 0 0 0 436.71 175.73Z" fill="#c8c8c8" />
<path d="M429.30 181.25A74.40 74.40 0 0 1 424.12 180.89L424.69 175.52A69.00 69.00 0 0 0 429.49 175.86Z" fill="#f2c08e" />
<path d="M412.64 178.76A74.40 74.40 0 0 1 407.68 177.25L409.44 172.14A69.00 69.00 0 0 0 414.04 173.55Z" fill="#8a1a38" />
<path d="M407.68 177.25A74.40 74.40 0 0 1 402.83 175.39L404.94 170.41A69.00 69.00 0 0 0 409.44 172.14Z" fill="#9cc2e8" />
<path d="M391.38 169.30A74.40 74.40 0 0 1 388.17 167.09L391.34 162.72A69.00 69.00 0 0 0 394.32 164.77Z" fill="#e696c8" />
<path d="M377.49 157.64A74.40 74.40 0 0 1 374.08 153.72L378.28 150.32A69.00 69.00 0 0 0 381.44 153.96Z" fill="#f2c08e" />
<path d="M360.38 86.39A74.40 74.40 0 0 1 362.44 80.24L367.48 82.17A69.00 69.00 0 0 0 365.57 87.88Z" fill="#f2c08e" />
<path d="M371.90 73.64A68.60 68.60 0 1 1 368.12 81.65L372.95 83.56A63.40 63.40 0 1 0 376.45 76.16Z" fill="#1a4796" />
<path d="M373.72 70.55A68.60 68.60 0 0 1 382.55 59.25L386.29 62.86A63.40 63.40 0 0 0 378.13 73.30Z" fill="#e06a20" />
<path d="M387.80 54.35A68.60 68.60 0 0 1 392.55 50.71L395.54 54.97A63.40 63.40 0 0 0 391.15 58.33Z" fill="#e06a20" />
<path d="M395.55 48.72A68.60 68.60 0 0 1 400.76 45.78L403.12 50.41A63.40 63.40 0 0 0 398.30 53.13Z" fill="#e06a20" />
<path d="M407.32 42.86A68.60 68.60 0 0 1 430.70 38.31L430.79 43.51A63.40 63.40 0 0 0 409.18 47.71Z" fill="#e06a20" />
<path d="M434.29 38.34A68.60 68.60 0 0 1 470.26 50.03L467.35 54.34A63.40 63.40 0 0 0 434.11 43.54Z" fill="#e06a20" />
<path d="M498.16 89.15A68.60 68.60 0 0 1 499.00 92.64L493.91 93.72A63.40 63.40 0 0 0 493.14 90.49Z" fill="#e06a20" />
<path d="M499.00 92.64A68.60 68.60 0 0 1 499.99 98.54L494.83 99.17A63.40 63.40 0 0 0 493.91 93.72Z" fill="#d4283a" />
<path d="M499.99 98.54A68.60 68.60 0 0 1 500.33 102.11L495.15 102.48A63.40 63.40 0 0 0 494.83 99.17Z" fill="#6a4a9a" />
<path d="M500.33 102.11A68.60 68.60 0 0 1 500.50 106.90L495.30 106.90A63.40 63.40 0 0 0 495.15 102.48Z" fill="#d4283a" />
<path d="M464.11 167.47A68.60 68.60 0 0 1 448.50 173.46L447.24 168.42A63.40 63.40 0 0 0 461.66 162.88Z" fill="#e06a20" />
<path d="M436.69 175.33A68.60 68.60 0 0 1 431.90 175.50L431.90 170.30A63.40 63.40 0 0 0 436.32 170.15Z" fill="#e06a20" />
<path d="M371.33 139.11A68.60 68.60 0 0 1 369.23 134.80L373.98 132.69A63.40 63.40 0 0 0 375.92 136.66Z" fill="#e06a20" />
<path d="M366.66 128.10A68.60 68.60 0 0 1 365.34 123.50L370.38 122.24A63.40 63.40 0 0 0 371.60 126.49Z" fill="#e06a20" />
<path d="M363.97 116.45A68.60 68.60 0 0 1 363.39 110.49L368.59 110.22A63.40 63.40 0 0 0 369.12 115.72Z" fill="#e06a20" />
<path d="M363.39 103.31A68.60 68.60 0 0 1 363.81 98.54L368.97 99.17A63.40 63.40 0 0 0 368.59 103.58Z" fill="#e06a20" />
<path d="M364.80 92.64A68.60 68.60 0 0 1 365.96 87.99L370.96 89.42A63.40 63.40 0 0 0 369.89 93.72Z" fill="#e06a20" />
<path d="M376.89 76.41A62.90 62.90 0 1 1 373.42 83.74L378.34 85.70A57.60 57.60 0 1 0 381.52 78.97Z" fill="#a8d8e6" />
<path d="M382.48 79.51A56.50 56.50 0 0 1 463.49 60.06L454.83 72.91A41.00 41.00 0 0 0 396.04 87.02Z" fill="#e9a868" />
<path d="M463.49 60.06A56.50 56.50 0 1 1 379.37 86.10L393.78 91.81A41.00 41.00 0 1 0 454.83 72.91Z" fill="#6a4c9c" />
<path d="M392.34 84.43L383.21 79.24M392.92 83.43L383.92 78.02M393.53 82.45L384.67 76.81M394.16 81.49L385.45 75.63M394.81 80.54L386.25 74.46M395.49 79.61L387.09 73.32M396.19 78.70L387.95 72.19M396.92 77.81L388.84 71.09M397.67 76.93L389.76 70.01M398.43 76.07L390.71 68.96M399.23 75.24L391.68 67.93M400.04 74.42L392.68 66.92M400.87 73.62L393.71 65.94M401.72 72.85L394.76 64.99M402.59 72.10L395.83 64.06M403.48 71.37L396.92 63.17M404.39 70.66L398.04 62.29M405.32 69.97L399.18 61.45M406.26 69.31L400.34 60.64M407.22 68.68L401.52 59.85M408.19 68.06L402.72 59.10M409.18 67.48L403.94 58.38M410.19 66.91L405.18 57.69M411.21 66.38L406.43 57.03M412.24 65.87L407.70 56.40M413.28 65.38L408.99 55.80M414.34 64.92L410.29 55.24M415.41 64.49L411.60 54.71M416.49 64.09L412.93 54.21M417.58 63.71L414.27 53.75M418.67 63.36L415.62 53.32M419.78 63.04L416.98 52.92M420.89 62.75L418.35 52.56M422.01 62.49L419.73 52.24M423.14 62.25L421.12 51.95M424.27 62.04L422.51 51.69M425.41 61.87L423.91 51.47M426.55 61.72L425.32 51.29M427.70 61.59L426.73 51.14M428.84 61.50L428.14 51.03M429.99 61.44L429.55 50.95M431.15 61.41L430.97 50.91M432.30 61.40L432.39 50.90M433.45 61.43L433.81 50.93M434.60 61.48L435.22 51.00M435.75 61.56L436.63 51.10M436.89 61.67L438.05 51.24M438.04 61.82L439.45 51.41M439.17 61.99L440.85 51.62M440.31 62.18L442.25 51.86M441.44 62.41L443.64 52.14M442.56 62.67L445.02 52.46M443.68 62.95L446.39 52.81M444.78 63.26L447.76 53.19M445.88 63.60L449.11 53.61M446.98 63.97L450.45 54.06M448.06 64.37L451.79 54.55M449.13 64.79L453.10 55.07M450.19 65.24L454.41 55.62M451.24 65.71L455.70 56.21M452.27 66.22L456.97 56.83M453.30 66.74L458.23 57.48M454.31 67.30L459.48 58.16M455.30 67.88L460.70 58.87M456.28 68.48L461.91 59.62M457.24 69.11L463.09 60.39M458.19 69.77L464.26 61.20M459.12 70.44L465.41 62.03M460.04 71.14L466.53 62.89M460.93 71.87L467.63 63.78M461.81 72.61L468.71 64.70M462.67 73.38L469.77 65.65M463.51 74.17L470.80 66.62M464.33 74.98L471.81 67.61M465.12 75.81L472.79 68.64M465.90 76.66L473.74 69.68M466.65 77.53L474.67 70.75M467.38 78.42L475.57 71.85M468.09 79.33L476.45 72.96M468.78 80.25L477.29 74.10M469.44 81.19L478.11 75.26M470.08 82.15L478.89 76.44M470.70 83.13L479.65 77.64M471.28 84.12L480.37 78.86M471.85 85.12L481.07 80.09M472.39 86.14L481.73 81.35M472.90 87.17L482.36 82.62M473.39 88.21L482.96 83.90M473.84 89.27L483.52 85.20M474.28 90.34L484.06 86.51M474.68 91.41L484.56 87.84M475.06 92.50L485.02 89.18M475.41 93.60L485.45 90.53M475.73 94.70L485.85 91.89M476.03 95.82L486.21 93.26M476.30 96.94L486.54 94.64M476.53 98.06L486.83 96.02M476.74 99.19L487.09 97.42M476.92 100.33L487.31 98.82M477.08 101.47L487.50 100.22M477.20 102.62L487.65 101.63M477.29 103.77L487.77 103.04M477.36 104.92L487.85 104.46M477.39 106.07L487.89 105.87M477.40 107.22L487.90 107.29M477.38 108.37L487.87 108.71M477.32 109.52L487.81 110.12M477.24 110.67L487.71 111.54M477.13 111.81L487.57 112.95M477.00 112.96L487.40 114.35M476.83 114.10L487.20 115.76M476.63 115.23L486.95 117.15M476.41 116.36L486.68 118.54M476.15 117.48L486.36 119.93M475.87 118.60L486.02 121.30M475.56 119.71L485.64 122.66M475.22 120.81L485.22 124.02M474.86 121.90L484.77 125.36M474.46 122.98L484.28 126.69M474.04 124.05L483.77 128.01M473.59 125.12L483.22 129.32M473.12 126.17L482.63 130.61M472.62 127.20L482.02 131.89M472.09 128.23L481.37 133.15M471.54 129.24L480.69 134.39M470.96 130.23L479.98 135.62M470.36 131.21L479.23 136.82M469.73 132.18L478.46 138.01M469.08 133.13L477.66 139.18M468.40 134.06L476.83 140.33M467.71 134.98L475.97 141.45M466.98 135.87L475.08 142.56M466.24 136.75L474.16 143.64M465.47 137.61L473.22 144.70M464.69 138.45L472.25 145.73M463.88 139.27L471.26 146.74M463.05 140.07L470.23 147.72M462.20 140.85L469.19 148.68M461.33 141.60L468.12 149.61M460.44 142.33L467.03 150.51M459.54 143.05L465.91 151.39M458.61 143.73L464.78 152.23M457.67 144.40L463.62 153.05M456.71 145.04L462.44 153.84M455.74 145.65L461.24 154.60M454.75 146.24L460.03 155.32M453.75 146.81L458.79 156.02M452.73 147.35L457.54 156.68M451.70 147.86L456.27 157.32M450.66 148.35L454.99 157.92M449.61 148.81L453.69 158.49M448.54 149.25L452.38 159.02M447.46 149.66L451.05 159.52M446.38 150.04L449.72 159.99M445.28 150.39L448.37 160.42M444.17 150.71L447.01 160.82M443.06 151.01L445.64 161.19M441.94 151.28L444.26 161.52M440.82 151.52L442.87 161.81M439.68 151.73L441.48 162.07M438.55 151.91L440.08 162.30M437.41 152.07L438.68 162.49M436.26 152.19L437.27 162.64M435.11 152.29L435.86 162.76M433.96 152.35L434.44 162.84M432.81 152.39L433.02 162.89M431.66 152.40L431.61 162.90M430.51 152.38L430.19 162.87M429.36 152.33L428.77 162.81M428.21 152.25L427.36 162.72M427.06 152.14L425.95 162.58M425.92 152.01L424.54 162.41M424.78 151.84L423.14 162.21M423.65 151.65L421.74 161.97M422.52 151.42L420.35 161.70M421.39 151.17L418.97 161.39M420.28 150.89L417.60 161.04M419.17 150.58L416.23 160.66M418.07 150.25L414.87 160.25M416.97 149.88L413.53 159.80M415.89 149.49L412.20 159.32M414.82 149.07L410.88 158.80M413.76 148.63L409.57 158.26M412.71 148.15L408.28 157.67M411.67 147.65L407.00 157.06M410.64 147.13L405.74 156.41M409.63 146.58L404.49 155.74M408.64 146.00L403.27 155.03M407.65 145.40L402.06 154.29M406.69 144.78L400.87 153.52M405.74 144.13L399.70 152.72M404.80 143.45L398.55 151.89M403.89 142.75L397.42 151.03M402.99 142.03L396.32 150.14M402.11 141.29L395.23 149.23M401.25 140.53L394.18 148.29M400.41 139.74L393.14 147.32M399.59 138.93L392.13 146.32M398.79 138.10L391.14 145.31M398.01 137.26L390.19 144.26M397.25 136.39L389.25 143.19M396.51 135.50L388.35 142.10M395.80 134.60L387.47 140.99M395.11 133.68L386.62 139.86M394.45 132.74L385.80 138.70M393.81 131.78L385.01 137.52M393.19 130.81L384.25 136.33M392.60 129.82L383.53 135.11M392.03 128.82L382.83 133.88M391.49 127.80L382.16 132.63M390.97 126.77L381.52 131.36M390.48 125.73L380.92 130.08M390.02 124.68L380.35 128.78M389.58 123.61L379.81 127.47M389.17 122.54L379.31 126.14M388.79 121.45L378.84 124.81M388.43 120.35L378.40 123.46M388.11 119.25L378.00 122.10M387.81 118.14L377.64 120.73M387.54 117.02L377.30 119.35M387.30 115.89L377.00 117.97M387.08 114.76L376.74 116.58M386.90 113.63L376.52 115.18M386.74 112.48L376.32 113.77M386.62 111.34L376.17 112.36M386.52 110.19L376.05 110.95M386.45 109.04L375.96 109.54M386.41 107.89L375.91 108.12M386.40 106.74L375.90 106.70M386.42 105.59L375.92 105.29M386.47 104.44L375.98 103.87M386.54 103.29L376.08 102.46M386.65 102.14L376.21 101.05M386.78 101.00L376.37 99.64M386.95 99.86L376.57 98.24M387.14 98.73L376.81 96.84M387.36 97.60L377.08 95.45M387.61 96.47L377.39 94.06M387.89 95.35L377.73 92.69M388.20 94.24L378.11 91.32M388.53 93.14L378.52 89.97M388.89 92.05L378.97 88.62M389.28 90.97L379.45 87.29" stroke="#1a1030" stroke-opacity="0.45" stroke-width="0.4" fill="none"/>
<path d="M395.78 86.88A41.3 41.3 0 0 1 454.99 72.66" stroke="#111" stroke-width="0.9" fill="none"/>
<path d="M454.99 72.66A41.3 41.3 0 1 1 393.50 91.70" stroke="#111" stroke-width="1.3" fill="none"/>
<line x1="431.90" y1="106.90" x2="435.34" y2="87.40" stroke="#222" stroke-width="0.85"/>
<path d="M421.41 90.11A19.8 19.8 0 0 1 447.50 94.71" stroke="#222" stroke-width="0.85" fill="none"/>
<line x1="421.41" y1="90.11" x2="410.44" y2="72.55" stroke="#222" stroke-width="0.85"/>
<line x1="447.50" y1="94.71" x2="463.81" y2="81.97" stroke="#222" stroke-width="0.85"/>
<line x1="469.32" y1="100.30" x2="477.20" y2="98.91" stroke="#222" stroke-width="0.6"/>
<path d="M476.53 95.77A46 46 0 0 1 477.65 102.09" stroke="#333" stroke-width="0.6" fill="none"/>
<path d="M376.26 83.92L378.82 78.49M371.01 81.43L373.57 76.01M365.85 79.00L368.42 73.57M360.06 76.26L362.62 70.84M355.45 74.08L358.01 68.66M350.83 71.90L353.40 66.47M346.22 69.72L348.78 64.29M341.61 67.54L344.17 62.11M337.08 65.40L339.65 59.98" stroke="#9a9a9a" stroke-width="1.1" stroke-dasharray="1.1 0.5" fill="none"/>
<text x="539.40" y="12.90" font-size="8.3" fill="#333" text-anchor="start" >Tree scale: 0.1</text>
<path d="M611.2 9.9H646.7M611.2 8.4V11.4M646.7 8.4V11.4M629 9V10.8" stroke="#777" stroke-width="0.6" fill="none"/>
<text x="553.60" y="24.90" font-size="8.3" fill="#333" text-anchor="start" >Source</text>
<line x1="553" y1="28" x2="583.6" y2="28" stroke="#999" stroke-width="0.7"/>
<path d="M553 30.4L561.3 34.4L553 38.4Z" fill="#000"/>
<text x="565.20" y="37.40" font-size="8.3" fill="#333" text-anchor="start" >This study</text>
<text x="553.60" y="50.00" font-size="8.3" fill="#333" text-anchor="start" >KL</text>
<line x1="553" y1="53" x2="578.8" y2="53" stroke="#999" stroke-width="0.7"/>
<rect x="553.00" y="56.30" width="8.00" height="7.70" fill="#8ecfc0" stroke="#888" stroke-width="0.4"/>
<text x="565.00" y="62.80" font-size="8.3" fill="#333" text-anchor="start" >KL1</text>
<rect x="553.00" y="68.30" width="8.00" height="7.70" fill="#a8d8e6" stroke="#888" stroke-width="0.4"/>
<text x="565.00" y="74.80" font-size="8.3" fill="#333" text-anchor="start" >KL57</text>
<text x="553.60" y="87.30" font-size="8.3" fill="#333" text-anchor="start" >Class</text>
<line x1="553" y1="89.8" x2="589.6" y2="89.8" stroke="#999" stroke-width="0.7"/>
<rect x="552.80" y="93.30" width="7.80" height="7.60" fill="#1a4796" stroke="#888" stroke-width="0.4"/>
<text x="565.00" y="100.10" font-size="8.3" fill="#333" text-anchor="start" >HvKp</text>
<rect x="552.80" y="104.70" width="7.80" height="7.60" fill="#d4283a" stroke="#888" stroke-width="0.4"/>
<text x="565.00" y="111.50" font-size="8.3" fill="#333" text-anchor="start" >cKp</text>
<rect x="552.80" y="116.00" width="7.80" height="7.60" fill="#e06a20" stroke="#888" stroke-width="0.4"/>
<text x="565.00" y="122.80" font-size="8.3" fill="#333" text-anchor="start" >CR-HvKp</text>
<rect x="552.80" y="127.40" width="7.80" height="7.60" fill="#6a4a9a" stroke="#888" stroke-width="0.4"/>
<text x="565.00" y="134.20" font-size="8.3" fill="#333" text-anchor="start" >CRKP</text>
<text x="551.80" y="145.70" font-size="8.3" fill="#333" text-anchor="start" >ICE<tspan font-style="italic">Kp</tspan></text>
<line x1="551.4" y1="148.9" x2="588.7" y2="148.9" stroke="#999" stroke-width="0.7"/>
<rect x="551.80" y="152.00" width="7.90" height="7.70" fill="#e46464" stroke="#888" stroke-width="0.4"/>
<text x="565.00" y="158.80" font-size="8.3" fill="#333" text-anchor="start" >ICE<tspan font-style="italic">Kp10</tspan></text>
<rect x="551.80" y="164.10" width="7.90" height="7.70" fill="#0a6030" stroke="#888" stroke-width="0.4"/>
<text x="565.00" y="170.90" font-size="8.3" fill="#333" text-anchor="start" >ICE<tspan font-style="italic">Kp3</tspan></text>
<rect x="551.80" y="176.10" width="7.90" height="7.70" fill="#6b3a1e" stroke="#888" stroke-width="0.4"/>
<text x="565.00" y="182.90" font-size="8.3" fill="#333" text-anchor="start" >ICE<tspan font-style="italic">Kp1</tspan></text>
<rect x="551.80" y="188.20" width="7.90" height="7.70" fill="#f0a0a0" stroke="#888" stroke-width="0.4"/>
<text x="565.00" y="195.00" font-size="8.3" fill="#333" text-anchor="start" >ICE<tspan font-style="italic">Kp4</tspan></text>
<rect x="551.80" y="200.20" width="7.90" height="7.70" fill="#a0a0a0" stroke="#888" stroke-width="0.4"/>
<text x="565.00" y="207.00" font-size="8.3" fill="#333" text-anchor="start" >None</text>
<text x="615.00" y="24.90" font-size="8.3" fill="#333" text-anchor="start" >Country</text>
<line x1="615" y1="27.4" x2="667.5" y2="27.4" stroke="#999" stroke-width="0.7"/>
<rect x="614.30" y="30.70" width="8.30" height="7.60" fill="#3a80c2" stroke="#888" stroke-width="0.4"/>
<text x="626.00" y="37.50" font-size="8.3" fill="#333" text-anchor="start" >China</text>
<rect x="614.30" y="42.16" width="8.30" height="7.60" fill="#7cb342" stroke="#888" stroke-width="0.4"/>
<text x="626.00" y="48.96" font-size="8.3" fill="#333" text-anchor="start" >Singapore</text>
<rect x="614.30" y="53.62" width="8.30" height="7.60" fill="#f2c08e" stroke="#888" stroke-width="0.4"/>
<text x="626.00" y="60.42" font-size="8.3" fill="#333" text-anchor="start" >Japan</text>
<rect x="614.30" y="65.08" width="8.30" height="7.60" fill="#e06060" stroke="#888" stroke-width="0.4"/>
<text x="626.00" y="71.88" font-size="8.3" fill="#333" text-anchor="start" >Ireland</text>
<rect x="614.30" y="76.54" width="8.30" height="7.60" fill="#9cc2e8" stroke="#888" stroke-width="0.4"/>
<text x="626.00" y="83.34" font-size="8.3" fill="#333" text-anchor="start" >Vietnam</text>
<rect x="614.30" y="88.00" width="8.30" height="7.60" fill="#c89898" stroke="#888" stroke-width="0.4"/>
<text x="626.00" y="94.80" font-size="8.3" fill="#333" text-anchor="start" >USA</text>
<rect x="614.30" y="99.46" width="8.30" height="7.60" fill="#8a1a38" stroke="#888" stroke-width="0.4"/>
<text x="626.00" y="106.26" font-size="8.3" fill="#333" text-anchor="start" >Russia</text>
<rect x="614.30" y="110.92" width="8.30" height="7.60" fill="#6a6a2a" stroke="#888" stroke-width="0.4"/>
<text x="626.00" y="117.72" font-size="8.3" fill="#333" text-anchor="start" >Germany</text>
<rect x="614.30" y="122.38" width="8.30" height="7.60" fill="#7a3e9a" stroke="#888" stroke-width="0.4"/>
<text x="626.00" y="129.18" font-size="8.3" fill="#333" text-anchor="start" >Australia</text>
<rect x="614.30" y="133.84" width="8.30" height="7.60" fill="#e6b440" stroke="#888" stroke-width="0.4"/>
<text x="626.00" y="140.64" font-size="8.3" fill="#333" text-anchor="start" >India</text>
<rect x="614.30" y="145.30" width="8.30" height="7.60" fill="#e696c8" stroke="#888" stroke-width="0.4"/>
<text x="626.00" y="152.10" font-size="8.3" fill="#333" text-anchor="start" >Norway</text>
<rect x="614.30" y="156.76" width="8.30" height="7.60" fill="#e0de48" stroke="#888" stroke-width="0.4"/>
<text x="626.00" y="163.56" font-size="8.3" fill="#333" text-anchor="start" >United Kingdom</text>
<rect x="614.30" y="168.22" width="8.30" height="7.60" fill="#cfe4ea" stroke="#888" stroke-width="0.4"/>
<text x="626.00" y="175.02" font-size="8.3" fill="#333" text-anchor="start" >Thailand</text>
<rect x="614.30" y="179.68" width="8.30" height="7.60" fill="#c04488" stroke="#888" stroke-width="0.4"/>
<text x="626.00" y="186.48" font-size="8.3" fill="#333" text-anchor="start" >France</text>
<rect x="614.30" y="191.14" width="8.30" height="7.60" fill="#88bcbc" stroke="#888" stroke-width="0.4"/>
<text x="626.00" y="197.94" font-size="8.3" fill="#333" text-anchor="start" >Saudi Arabia</text>
<rect x="614.30" y="202.60" width="8.30" height="7.60" fill="#5a2c94" stroke="#888" stroke-width="0.4"/>
<text x="626.00" y="209.40" font-size="8.3" fill="#333" text-anchor="start" >Poland</text>
<rect x="614.30" y="214.06" width="8.30" height="7.60" fill="#c8c8c8" stroke="#888" stroke-width="0.4"/>
<text x="626.00" y="220.86" font-size="8.3" fill="#333" text-anchor="start" >Others</text>
<text x="0.00" y="242.90" font-size="8.3" fill="#222" text-anchor="start" >(C)</text>
<path d="M46.7 237.2H307.5V472.0" stroke="#a8a8a8" stroke-width="0.9" fill="none"/><path d="M46.7 237.2V472.0H307.5" stroke="#555" stroke-width="0.9" fill="none"/>
<line x1="44.1" y1="265.0" x2="46.7" y2="265.0" stroke="#777" stroke-width="0.6"/>
<text x="38.30" y="268.00" font-size="8.3" fill="#333" text-anchor="end" >0.0</text>
<line x1="44.1" y1="312.5" x2="46.7" y2="312.5" stroke="#777" stroke-width="0.6"/>
<text x="38.30" y="315.50" font-size="8.3" fill="#333" text-anchor="end" >0.5</text>
<line x1="44.1" y1="358.5" x2="46.7" y2="358.5" stroke="#777" stroke-width="0.6"/>
<text x="38.30" y="361.50" font-size="8.3" fill="#333" text-anchor="end" >-1.0</text>
<line x1="44.1" y1="406.0" x2="46.7" y2="406.0" stroke="#777" stroke-width="0.6"/>
<text x="38.30" y="409.00" font-size="8.3" fill="#333" text-anchor="end" >-1.5</text>
<line x1="44.1" y1="452.0" x2="46.7" y2="452.0" stroke="#777" stroke-width="0.6"/>
<text x="38.30" y="455.00" font-size="8.3" fill="#333" text-anchor="end" >-2.0</text>
<line x1="46.0" y1="472.0" x2="46.0" y2="474.4" stroke="#777" stroke-width="0.6"/>
<text x="46.00" y="484.20" font-size="8.3" fill="#333" text-anchor="middle" >-1</text>
<line x1="128.2" y1="472.0" x2="128.2" y2="474.4" stroke="#777" stroke-width="0.6"/>
<text x="128.20" y="484.20" font-size="8.3" fill="#333" text-anchor="middle" >0</text>
<line x1="209.0" y1="472.0" x2="209.0" y2="474.4" stroke="#777" stroke-width="0.6"/>
<text x="209.00" y="484.20" font-size="8.3" fill="#333" text-anchor="middle" >1</text>
<line x1="289.5" y1="472.0" x2="289.5" y2="474.4" stroke="#777" stroke-width="0.6"/>
<text x="289.50" y="484.20" font-size="8.3" fill="#333" text-anchor="middle" >2</text>
<text x="163.40" y="496.90" font-size="8.3" fill="#333" text-anchor="middle" >PC1 (78.8%)</text>
<text x="18.19" y="357.00" font-size="8.3" fill="#333" text-anchor="middle" transform="rotate(-90 18.19 357.00)">PC2 (12.3%)</text>
<circle cx="67.8" cy="248.8" r="6.5" fill="#2e3b8a" fill-opacity="0.7"/>
<circle cx="69.0" cy="250.4" r="6.5" fill="#2e3b8a" fill-opacity="0.7"/>
<circle cx="68.4" cy="252.2" r="6.5" fill="#2e3b8a" fill-opacity="0.7"/>
<circle cx="68.8" cy="251.0" r="6.5" fill="#2e3b8a" fill-opacity="0.7"/>
<circle cx="59.5" cy="441.0" r="6.4" fill="#2e3b8a" fill-opacity="0.75"/>
<circle cx="58.4" cy="455.0" r="6.4" fill="#2e3b8a" fill-opacity="0.75"/>
<circle cx="58.4" cy="461.3" r="6.4" fill="#2e3b8a" fill-opacity="0.75"/>
<ellipse cx="294.4" cy="266.9" rx="7.4" ry="7.0" fill="#c42220"/>
<rect x="156.30" y="256.00" width="8.70" height="7.90" fill="#2e3b8a" />
<rect x="156.30" y="265.50" width="8.70" height="7.90" fill="#c82020" />
<text x="168.10" y="263.00" font-size="8.3" fill="#333" text-anchor="start" >ST218-KL57</text>
<text x="168.10" y="272.20" font-size="8.3" fill="#333" text-anchor="start" >ST23-KL57</text>
<text x="123.70" y="299.70" font-size="8.3" fill="#333" text-anchor="start" >Scree Plot</text>
<path d="M124.7 304.9H284.3V417.3" stroke="#a8a8a8" stroke-width="0.9" fill="none"/><path d="M124.7 304.9V417.3H284.3" stroke="#555" stroke-width="0.9" fill="none"/>
<line x1="121.8" y1="412.2" x2="124.7" y2="412.2" stroke="#777" stroke-width="0.6"/>
<text x="118.60" y="415.20" font-size="8.3" fill="#333" text-anchor="end" >0</text>
<line x1="121.8" y1="386.5" x2="124.7" y2="386.5" stroke="#777" stroke-width="0.6"/>
<text x="118.60" y="389.50" font-size="8.3" fill="#333" text-anchor="end" >20</text>
<line x1="121.8" y1="360.8" x2="124.7" y2="360.8" stroke="#777" stroke-width="0.6"/>
<text x="118.60" y="363.80" font-size="8.3" fill="#333" text-anchor="end" >40</text>
<line x1="121.8" y1="335.1" x2="124.7" y2="335.1" stroke="#777" stroke-width="0.6"/>
<text x="118.60" y="338.10" font-size="8.3" fill="#333" text-anchor="end" >60</text>
<line x1="121.8" y1="309.4" x2="124.7" y2="309.4" stroke="#777" stroke-width="0.6"/>
<text x="118.60" y="312.40" font-size="8.3" fill="#333" text-anchor="end" >80</text>
<line x1="128.0" y1="417.3" x2="128.0" y2="419.7" stroke="#777" stroke-width="0.6"/>
<text x="128.00" y="428.50" font-size="8.3" fill="#333" text-anchor="middle" >0</text>
<line x1="164.4" y1="417.3" x2="164.4" y2="419.7" stroke="#777" stroke-width="0.6"/>
<text x="164.45" y="428.50" font-size="8.3" fill="#333" text-anchor="middle" >5</text>
<line x1="200.9" y1="417.3" x2="200.9" y2="419.7" stroke="#777" stroke-width="0.6"/>
<text x="200.90" y="428.50" font-size="8.3" fill="#333" text-anchor="middle" >10</text>
<line x1="237.3" y1="417.3" x2="237.3" y2="419.7" stroke="#777" stroke-width="0.6"/>
<text x="237.35" y="428.50" font-size="8.3" fill="#333" text-anchor="middle" >15</text>
<line x1="273.8" y1="417.3" x2="273.8" y2="419.7" stroke="#777" stroke-width="0.6"/>
<text x="273.80" y="428.50" font-size="8.3" fill="#333" text-anchor="middle" >20</text>
<text x="204.40" y="440.10" font-size="8.3" fill="#333" text-anchor="middle" >Principal Component</text>
<text x="99.19" y="367.40" font-size="8.3" fill="#333" text-anchor="middle" transform="rotate(-90 99.19 367.40)">Percentage Variance Explained</text>
<rect x="131.99" y="310.94" width="6.60" height="101.26" fill="#555" />
<rect x="139.28" y="396.39" width="6.60" height="15.81" fill="#555" />
<rect x="146.57" y="409.76" width="6.60" height="2.44" fill="#555" />
<rect x="153.86" y="410.66" width="6.60" height="1.54" fill="#555" />
<rect x="161.15" y="411.04" width="6.60" height="1.16" fill="#555" />
<rect x="168.44" y="411.24" width="6.60" height="0.96" fill="#555" />
<rect x="175.73" y="411.43" width="6.60" height="0.77" fill="#555" />
<rect x="183.02" y="411.49" width="6.60" height="0.71" fill="#555" />
<rect x="190.31" y="411.56" width="6.60" height="0.70" fill="#555" />
<rect x="197.60" y="411.62" width="6.60" height="0.70" fill="#555" />
<rect x="204.89" y="411.69" width="6.60" height="0.70" fill="#555" />
<rect x="212.18" y="411.74" width="6.60" height="0.70" fill="#555" />
<rect x="219.47" y="411.78" width="6.60" height="0.70" fill="#555" />
<rect x="226.76" y="411.81" width="6.60" height="0.70" fill="#555" />
<rect x="234.05" y="411.85" width="6.60" height="0.70" fill="#555" />
<rect x="241.34" y="411.89" width="6.60" height="0.70" fill="#555" />
<rect x="248.63" y="411.94" width="6.60" height="0.70" fill="#555" />
<rect x="255.92" y="411.98" width="6.60" height="0.70" fill="#555" />
<rect x="263.21" y="412.02" width="6.60" height="0.70" fill="#555" />
<rect x="270.50" y="412.07" width="6.60" height="0.70" fill="#555" />
<text x="0.00" y="508.80" font-size="8.3" fill="#222" text-anchor="start" >(D)</text>
<path d="M46.6 512.4H307.6V756.0" stroke="#a8a8a8" stroke-width="0.9" fill="none"/><path d="M46.6 512.4V756.0H307.6" stroke="#555" stroke-width="0.9" fill="none"/>
<text x="40.30" y="749.50" font-size="8.3" fill="#333" text-anchor="end" >0.000</text>
<text x="40.30" y="679.90" font-size="8.3" fill="#333" text-anchor="end" >0.002</text>
<text x="40.30" y="610.30" font-size="8.3" fill="#333" text-anchor="end" >0.004</text>
<text x="40.30" y="540.70" font-size="8.3" fill="#333" text-anchor="end" >0.006</text>
<text x="58.40" y="769.90" font-size="8.3" fill="#333" text-anchor="middle" >0</text>
<text x="113.65" y="769.90" font-size="8.3" fill="#333" text-anchor="middle" >1000</text>
<text x="168.90" y="769.90" font-size="8.3" fill="#333" text-anchor="middle" >2000</text>
<text x="224.15" y="769.90" font-size="8.3" fill="#333" text-anchor="middle" >3000</text>
<text x="279.40" y="769.90" font-size="8.3" fill="#333" text-anchor="middle" >4000</text>
<text x="162.60" y="783.90" font-size="8.3" fill="#333" text-anchor="middle" >SNP Number</text>
<text x="18.39" y="642.50" font-size="8.3" fill="#333" text-anchor="middle" transform="rotate(-90 18.39 642.50)">Density</text>
<path d="M58.40,745.5 L58.40,744.27 58.68,743.97 58.95,743.60 59.23,743.15 59.50,742.62 59.78,741.98 60.06,741.22 60.33,740.33 60.61,739.27 60.89,738.04 61.16,736.60 61.44,734.94 61.71,733.03 61.99,730.84 62.27,728.35 62.54,725.54 62.82,722.38 63.10,718.84 63.37,714.92 63.65,710.58 63.92,705.82 64.20,700.63 64.48,695.00 64.75,688.94 65.03,682.45 65.31,675.57 65.58,668.30 65.86,660.69 66.14,652.77 66.41,644.61 66.69,636.25 66.96,627.77 67.24,619.24 67.52,610.75 67.79,602.38 68.07,594.22 68.34,586.36 68.62,578.90 68.90,571.93 69.17,565.53 69.45,559.80 69.73,554.81 70.00,550.63 70.28,547.31 70.55,544.91 70.83,543.45 71.11,542.96 71.38,543.45 71.66,544.91 71.94,547.31 72.21,550.63 72.49,554.81 72.77,559.80 73.04,565.53 73.32,571.93 73.59,578.90 73.87,586.36 74.15,594.22 74.42,602.38 74.70,610.75 74.97,619.24 75.25,627.77 75.53,636.25 75.80,644.61 76.08,652.77 76.36,660.69 76.63,668.30 76.91,675.57 77.19,682.45 77.46,688.94 77.74,695.00 78.01,700.63 78.29,705.82 78.57,710.58 78.84,714.92 79.12,718.84 79.39,722.38 79.67,725.54 79.95,728.35 80.22,730.84 80.50,733.03 80.78,734.94 81.05,736.60 81.33,738.04 81.61,739.27 81.88,740.33 82.16,741.22 82.43,741.98 82.71,742.62 82.99,743.15 83.26,743.60 83.54,743.97 83.81,744.27 84.09,744.52 84.37,744.72 84.64,744.88 84.92,745.01 85.20,745.12 85.47,745.20 85.75,745.27 86.03,745.32 86.30,745.36 86.58,745.39 86.85,745.42 87.13,745.44 87.41,745.45 87.68,745.47 87.96,745.47 88.23,745.48 88.51,745.49 88.79,745.49 89.06,745.49 89.34,745.49 89.62,745.50 89.89,745.50 90.17,745.50 90.44,745.50 90.72,745.50 91.00,745.50 91.27,745.50 91.55,745.50 91.83,745.50 92.10,745.50 92.38,745.50 92.66,745.50 92.93,745.50 93.21,745.50 93.48,745.50 93.76,745.49 94.04,745.49 94.31,745.49 94.59,745.49 94.87,745.48 95.14,745.48 95.42,745.47 95.69,745.46 95.97,745.45 96.25,745.43 96.52,745.42 96.80,745.40 97.07,745.37 97.35,745.34 97.63,745.30 97.90,745.25 98.18,745.19 98.46,745.13 98.73,745.05 99.01,744.96 99.28,744.85 99.56,744.72 99.84,744.58 100.11,744.42 100.39,744.23 100.67,744.02 100.94,743.78 101.22,743.51 101.50,743.22 101.77,742.90 102.05,742.54 102.32,742.16 102.60,741.75 102.88,741.31 103.15,740.84 103.43,740.35 103.70,739.84 103.98,739.32 104.26,738.78 104.53,738.23 104.81,737.68 105.09,737.13 105.36,736.59 105.64,736.07 105.91,735.58 106.19,735.11 106.47,734.68 106.74,734.29 107.02,733.95 107.30,733.67 107.57,733.44 107.85,733.28 108.12,733.18 108.40,733.15 108.68,733.18 108.95,733.28 109.23,733.44 109.51,733.67 109.78,733.95 110.06,734.29 110.34,734.68 110.61,735.11 110.89,735.58 111.16,736.07 111.44,736.59 111.72,737.13 111.99,737.68 112.27,738.23 112.55,738.78 112.82,739.32 113.10,739.84 113.37,740.35 113.65,740.84 113.93,741.31 114.20,741.75 114.48,742.16 114.75,742.54 115.03,742.90 115.31,743.22 115.58,743.51 115.86,743.78 116.14,744.02 116.41,744.23 116.69,744.42 116.97,744.58 117.24,744.72 117.52,744.85 117.79,744.96 118.07,745.05 118.35,745.13 118.62,745.19 118.90,745.25 119.17,745.30 119.45,745.34 119.73,745.37 120.00,745.40 120.28,745.42 120.56,745.43 120.83,745.45 121.11,745.46 121.38,745.47 121.66,745.48 121.94,745.48 122.21,745.49 122.49,745.49 122.77,745.49 123.04,745.49 123.32,745.50 123.59,745.50 123.87,745.50 124.15,745.50 124.42,745.50 124.70,745.50 124.98,745.50 125.25,745.50 125.53,745.50 125.81,745.50 126.08,745.50 126.36,745.50 126.63,745.50 126.91,745.50 127.19,745.50 127.46,745.50 127.74,745.50 128.01,745.50 128.29,745.50 128.57,745.50 128.84,745.50 129.12,745.50 129.40,745.50 129.67,745.50 129.95,745.50 130.22,745.50 130.50,745.50 130.78,745.50 131.05,745.50 131.33,745.50 131.61,745.50 131.88,745.50 132.16,745.50 132.44,745.50 132.71,745.50 132.99,745.50 133.26,745.50 133.54,745.50 133.82,745.50 134.09,745.50 134.37,745.50 134.65,745.50 134.92,745.50 135.20,745.50 135.47,745.50 135.75,745.50 136.03,745.50 136.30,745.50 136.58,745.50 136.85,745.50 137.13,745.50 137.41,745.50 137.68,745.50 137.96,745.50 138.24,745.50 138.51,745.50 138.79,745.50 139.06,745.50 139.34,745.50 139.62,745.50 139.89,745.50 140.17,745.50 140.45,745.50 140.72,745.50 141.00,745.50 141.28,745.50 141.55,745.50 141.83,745.50 142.10,745.50 142.38,745.50 142.66,745.50 142.93,745.50 143.21,745.50 143.48,745.50 143.76,745.50 144.04,745.50 144.31,745.50 144.59,745.50 144.87,745.50 145.14,745.50 145.42,745.50 145.69,745.50 145.97,745.50 146.25,745.50 146.52,745.50 146.80,745.50 147.08,745.50 147.35,745.50 147.63,745.50 147.91,745.50 148.18,745.50 148.46,745.50 148.73,745.50 149.01,745.50 149.29,745.50 149.56,745.50 149.84,745.50 150.12,745.50 150.39,745.50 150.67,745.50 150.94,745.50 151.22,745.50 151.50,745.50 151.77,745.50 152.05,745.50 152.32,745.50 152.60,745.50 152.88,745.50 153.15,745.50 153.43,745.50 153.71,745.50 153.98,745.50 154.26,745.50 154.53,745.50 154.81,745.50 155.09,745.50 155.36,745.50 155.64,745.50 155.92,745.50 156.19,745.50 156.47,745.50 156.75,745.50 157.02,745.50 157.30,745.50 157.57,745.50 157.85,745.50 158.13,745.50 158.40,745.50 158.68,745.50 158.96,745.50 159.23,745.50 159.51,745.50 159.78,745.50 160.06,745.50 160.34,745.50 160.61,745.50 160.89,745.50 161.16,745.50 161.44,745.50 161.72,745.50 161.99,745.50 162.27,745.50 162.55,745.50 162.82,745.50 163.10,745.50 163.38,745.50 163.65,745.50 163.93,745.50 164.20,745.50 164.48,745.50 164.76,745.50 165.03,745.50 165.31,745.50 165.59,745.50 165.86,745.50 166.14,745.50 166.41,745.50 166.69,745.50 166.97,745.50 167.24,745.50 167.52,745.50 167.79,745.50 168.07,745.50 168.35,745.50 168.62,745.50 168.90,745.50 169.18,745.50 169.45,745.50 169.73,745.50 170.00,745.50 170.28,745.50 170.56,745.50 170.83,745.50 171.11,745.50 171.39,745.50 171.66,745.50 171.94,745.50 172.22,745.50 172.49,745.50 172.77,745.50 173.04,745.50 173.32,745.50 173.60,745.50 173.87,745.50 174.15,745.50 174.43,745.50 174.70,745.50 174.98,745.50 175.25,745.50 175.53,745.50 175.81,745.50 176.08,745.50 176.36,745.50 176.63,745.50 176.91,745.50 177.19,745.50 177.46,745.50 177.74,745.50 178.02,745.50 178.29,745.50 178.57,745.50 178.84,745.50 179.12,745.50 179.40,745.50 179.67,745.50 179.95,745.50 180.23,745.50 180.50,745.50 180.78,745.50 181.06,745.50 181.33,745.50 181.61,745.50 181.88,745.50 182.16,745.50 182.44,745.50 182.71,745.50 182.99,745.50 183.26,745.50 183.54,745.50 183.82,745.50 184.09,745.50 184.37,745.50 184.65,745.50 184.92,745.50 185.20,745.50 185.47,745.50 185.75,745.50 186.03,745.50 186.30,745.50 186.58,745.50 186.86,745.50 187.13,745.50 187.41,745.50 187.69,745.50 187.96,745.50 188.24,745.50 188.51,745.50 188.79,745.50 189.07,745.50 189.34,745.50 189.62,745.50 189.90,745.50 190.17,745.50 190.45,745.50 190.72,745.50 191.00,745.50 191.28,745.50 191.55,745.50 191.83,745.50 192.11,745.50 192.38,745.50 192.66,745.50 192.93,745.50 193.21,745.50 193.49,745.50 193.76,745.50 194.04,745.50 194.31,745.50 194.59,745.50 194.87,745.50 195.14,745.50 195.42,745.50 195.70,745.50 195.97,745.50 196.25,745.50 196.53,745.50 196.80,745.50 197.08,745.50 197.35,745.50 197.63,745.50 197.91,745.50 198.18,745.50 198.46,745.50 198.74,745.50 199.01,745.50 199.29,745.50 199.56,745.50 199.84,745.50 200.12,745.50 200.39,745.50 200.67,745.50 200.94,745.50 201.22,745.50 201.50,745.50 201.77,745.50 202.05,745.50 202.33,745.50 202.60,745.50 202.88,745.50 203.16,745.50 203.43,745.50 203.71,745.50 203.98,745.50 204.26,745.50 204.54,745.50 204.81,745.50 205.09,745.50 205.37,745.50 205.64,745.50 205.92,745.50 206.19,745.50 206.47,745.50 206.75,745.50 207.02,745.50 207.30,745.50 207.58,745.50 207.85,745.50 208.13,745.50 208.40,745.50 208.68,745.50 208.96,745.50 209.23,745.50 209.51,745.50 209.78,745.50 210.06,745.50 210.34,745.50 210.61,745.50 210.89,745.50 211.17,745.50 211.44,745.50 211.72,745.50 212.00,745.50 212.27,745.50 212.55,745.50 212.82,745.50 213.10,745.50 213.38,745.50 213.65,745.50 213.93,745.50 214.21,745.50 214.48,745.50 214.76,745.50 215.03,745.50 215.31,745.50 215.59,745.50 215.86,745.50 216.14,745.50 216.42,745.50 216.69,745.50 216.97,745.50 217.24,745.50 217.52,745.50 217.80,745.50 218.07,745.50 218.35,745.50 218.62,745.50 218.90,745.50 219.18,745.50 219.45,745.50 219.73,745.50 220.01,745.50 220.28,745.50 220.56,745.50 220.84,745.50 221.11,745.50 221.39,745.50 221.66,745.50 221.94,745.50 222.22,745.50 222.49,745.50 222.77,745.50 223.05,745.50 223.32,745.50 223.60,745.50 223.87,745.50 224.15,745.50 224.43,745.50 224.70,745.50 224.98,745.50 225.25,745.50 225.53,745.50 225.81,745.50 226.08,745.50 226.36,745.50 226.64,745.50 226.91,745.50 227.19,745.50 227.47,745.50 227.74,745.50 228.02,745.50 228.29,745.50 228.57,745.50 228.85,745.50 229.12,745.50 229.40,745.50 229.68,745.50 229.95,745.50 230.23,745.50 230.50,745.50 230.78,745.50 231.06,745.50 231.33,745.50 231.61,745.50 231.89,745.50 232.16,745.50 232.44,745.50 232.71,745.50 232.99,745.50 233.27,745.50 233.54,745.50 233.82,745.50 234.09,745.50 234.37,745.50 234.65,745.50 234.92,745.50 235.20,745.50 235.48,745.50 235.75,745.50 236.03,745.50 236.31,745.50 236.58,745.50 236.86,745.50 237.13,745.50 237.41,745.50 237.69,745.50 237.96,745.50 238.24,745.50 238.52,745.50 238.79,745.50 239.07,745.50 239.34,745.50 239.62,745.50 239.90,745.50 240.17,745.50 240.45,745.50 240.72,745.50 241.00,745.50 241.28,745.50 241.55,745.50 241.83,745.50 242.11,745.50 242.38,745.50 242.66,745.50 242.94,745.50 243.21,745.50 243.49,745.50 243.76,745.50 244.04,745.50 244.32,745.50 244.59,745.50 244.87,745.50 245.15,745.50 245.42,745.50 245.70,745.50 245.97,745.50 246.25,745.50 246.53,745.50 246.80,745.50 247.08,745.50 247.36,745.50 247.63,745.50 247.91,745.50 248.18,745.50 248.46,745.50 248.74,745.50 249.01,745.50 249.29,745.50 249.56,745.50 249.84,745.50 250.12,745.50 250.39,745.50 250.67,745.50 250.95,745.50 251.22,745.50 251.50,745.50 251.78,745.50 252.05,745.50 252.33,745.50 252.60,745.50 252.88,745.50 253.16,745.50 253.43,745.50 253.71,745.50 253.99,745.50 254.26,745.50 254.54,745.50 254.81,745.50 255.09,745.50 255.37,745.50 255.64,745.50 255.92,745.50 256.19,745.50 256.47,745.50 256.75,745.50 257.02,745.50 257.30,745.50 257.58,745.50 257.85,745.50 258.13,745.50 258.40,745.50 258.68,745.50 258.96,745.50 259.23,745.50 259.51,745.50 259.79,745.50 260.06,745.50 260.34,745.50 260.62,745.50 260.89,745.50 261.17,745.50 261.44,745.50 261.72,745.50 262.00,745.50 262.27,745.50 262.55,745.50 262.82,745.50 263.10,745.50 263.38,745.50 263.65,745.50 263.93,745.50 264.21,745.50 264.48,745.50 264.76,745.50 265.03,745.50 265.31,745.50 265.59,745.50 265.86,745.50 266.14,745.50 266.42,745.50 266.69,745.50 266.97,745.50 267.25,745.50 267.52,745.50 267.80,745.50 268.07,745.50 268.35,745.50 268.63,745.50 268.90,745.50 269.18,745.50 269.45,745.50 269.73,745.50 270.01,745.50 270.28,745.50 270.56,745.50 270.84,745.50 271.11,745.50 271.39,745.50 271.67,745.50 271.94,745.50 272.22,745.50 272.49,745.50 272.77,745.50 273.05,745.50 273.32,745.50 273.60,745.50 273.88,745.50 274.15,745.50 274.43,745.50 274.70,745.50 274.98,745.50 275.26,745.50 275.53,745.50 275.81,745.50 276.08,745.50 276.36,745.50 276.64,745.50 276.91,745.50 277.19,745.50 277.47,745.50 277.74,745.50 278.02,745.50 278.30,745.50 278.57,745.50 278.85,745.50 279.12,745.50 279.40,745.50 279.68,745.50 279.95,745.50 280.23,745.50 280.50,745.50 280.78,745.50 281.06,745.50 281.33,745.50 281.61,745.50 281.89,745.50 282.16,745.50 282.44,745.50 282.71,745.50 282.99,745.50 283.27,745.50 283.54,745.50 283.82,745.50 284.10,745.50 284.37,745.50 284.65,745.50 284.93,745.50 285.20,745.50 285.48,745.50 285.75,745.50 286.03,745.50 286.31,745.50 286.58,745.50 286.86,745.50 287.13,745.50 287.41,745.50 287.69,745.50 287.96,745.50 288.24,745.50 288.52,745.50 288.79,745.50 289.07,745.50 289.34,745.50 289.62,745.50 289.90,745.50 290.17,745.50 290.45,745.50 290.73,745.50 291.00,745.50 291.28,745.50 291.56,745.50 291.83,745.50 292.11,745.50 292.38,745.50 292.66,745.50 292.94,745.50 293.21,745.50 293.49,745.50 293.76,745.50 294.04,745.50 294.32,745.50 294.59,745.50 294.87,745.50 295.15,745.50 295.42,745.50 295.70,745.50 295.97,745.50 296.25,745.50 296.53,745.50 296.80,745.50 297.08,745.50 297.36,745.50 297.63,745.50 L297.63,745.5Z" fill="#2e3b8a" fill-opacity="0.5"/>
<polyline points="58.40,744.27 58.68,743.97 58.95,743.60 59.23,743.15 59.50,742.62 59.78,741.98 60.06,741.22 60.33,740.33 60.61,739.27 60.89,738.04 61.16,736.60 61.44,734.94 61.71,733.03 61.99,730.84 62.27,728.35 62.54,725.54 62.82,722.38 63.10,718.84 63.37,714.92 63.65,710.58 63.92,705.82 64.20,700.63 64.48,695.00 64.75,688.94 65.03,682.45 65.31,675.57 65.58,668.30 65.86,660.69 66.14,652.77 66.41,644.61 66.69,636.25 66.96,627.77 67.24,619.24 67.52,610.75 67.79,602.38 68.07,594.22 68.34,586.36 68.62,578.90 68.90,571.93 69.17,565.53 69.45,559.80 69.73,554.81 70.00,550.63 70.28,547.31 70.55,544.91 70.83,543.45 71.11,542.96 71.38,543.45 71.66,544.91 71.94,547.31 72.21,550.63 72.49,554.81 72.77,559.80 73.04,565.53 73.32,571.93 73.59,578.90 73.87,586.36 74.15,594.22 74.42,602.38 74.70,610.75 74.97,619.24 75.25,627.77 75.53,636.25 75.80,644.61 76.08,652.77 76.36,660.69 76.63,668.30 76.91,675.57 77.19,682.45 77.46,688.94 77.74,695.00 78.01,700.63 78.29,705.82 78.57,710.58 78.84,714.92 79.12,718.84 79.39,722.38 79.67,725.54 79.95,728.35 80.22,730.84 80.50,733.03 80.78,734.94 81.05,736.60 81.33,738.04 81.61,739.27 81.88,740.33 82.16,741.22 82.43,741.98 82.71,742.62 82.99,743.15 83.26,743.60 83.54,743.97 83.81,744.27 84.09,744.52 84.37,744.72 84.64,744.88 84.92,745.01 85.20,745.12 85.47,745.20 85.75,745.27 86.03,745.32 86.30,745.36 86.58,745.39 86.85,745.42 87.13,745.44 87.41,745.45 87.68,745.47 87.96,745.47 88.23,745.48 88.51,745.49 88.79,745.49 89.06,745.49 89.34,745.49 89.62,745.50 89.89,745.50 90.17,745.50 90.44,745.50 90.72,745.50 91.00,745.50 91.27,745.50 91.55,745.50 91.83,745.50 92.10,745.50 92.38,745.50 92.66,745.50 92.93,745.50 93.21,745.50 93.48,745.50 93.76,745.49 94.04,745.49 94.31,745.49 94.59,745.49 94.87,745.48 95.14,745.48 95.42,745.47 95.69,745.46 95.97,745.45 96.25,745.43 96.52,745.42 96.80,745.40 97.07,745.37 97.35,745.34 97.63,745.30 97.90,745.25 98.18,745.19 98.46,745.13 98.73,745.05 99.01,744.96 99.28,744.85 99.56,744.72 99.84,744.58 100.11,744.42 100.39,744.23 100.67,744.02 100.94,743.78 101.22,743.51 101.50,743.22 101.77,742.90 102.05,742.54 102.32,742.16 102.60,741.75 102.88,741.31 103.15,740.84 103.43,740.35 103.70,739.84 103.98,739.32 104.26,738.78 104.53,738.23 104.81,737.68 105.09,737.13 105.36,736.59 105.64,736.07 105.91,735.58 106.19,735.11 106.47,734.68 106.74,734.29 107.02,733.95 107.30,733.67 107.57,733.44 107.85,733.28 108.12,733.18 108.40,733.15 108.68,733.18 108.95,733.28 109.23,733.44 109.51,733.67 109.78,733.95 110.06,734.29 110.34,734.68 110.61,735.11 110.89,735.58 111.16,736.07 111.44,736.59 111.72,737.13 111.99,737.68 112.27,738.23 112.55,738.78 112.82,739.32 113.10,739.84 113.37,740.35 113.65,740.84 113.93,741.31 114.20,741.75 114.48,742.16 114.75,742.54 115.03,742.90 115.31,743.22 115.58,743.51 115.86,743.78 116.14,744.02 116.41,744.23 116.69,744.42 116.97,744.58 117.24,744.72 117.52,744.85 117.79,744.96 118.07,745.05 118.35,745.13 118.62,745.19 118.90,745.25 119.17,745.30 119.45,745.34 119.73,745.37 120.00,745.40 120.28,745.42 120.56,745.43 120.83,745.45 121.11,745.46 121.38,745.47 121.66,745.48 121.94,745.48 122.21,745.49 122.49,745.49 122.77,745.49 123.04,745.49 123.32,745.50 123.59,745.50 123.87,745.50 124.15,745.50 124.42,745.50 124.70,745.50 124.98,745.50 125.25,745.50 125.53,745.50 125.81,745.50 126.08,745.50 126.36,745.50 126.63,745.50 126.91,745.50 127.19,745.50 127.46,745.50 127.74,745.50 128.01,745.50 128.29,745.50 128.57,745.50 128.84,745.50 129.12,745.50 129.40,745.50 129.67,745.50 129.95,745.50 130.22,745.50 130.50,745.50 130.78,745.50 131.05,745.50 131.33,745.50 131.61,745.50 131.88,745.50 132.16,745.50 132.44,745.50 132.71,745.50 132.99,745.50 133.26,745.50 133.54,745.50 133.82,745.50 134.09,745.50 134.37,745.50 134.65,745.50 134.92,745.50 135.20,745.50 135.47,745.50 135.75,745.50 136.03,745.50 136.30,745.50 136.58,745.50 136.85,745.50 137.13,745.50 137.41,745.50 137.68,745.50 137.96,745.50 138.24,745.50 138.51,745.50 138.79,745.50 139.06,745.50 139.34,745.50 139.62,745.50 139.89,745.50 140.17,745.50 140.45,745.50 140.72,745.50 141.00,745.50 141.28,745.50 141.55,745.50 141.83,745.50 142.10,745.50 142.38,745.50 142.66,745.50 142.93,745.50 143.21,745.50 143.48,745.50 143.76,745.50 144.04,745.50 144.31,745.50 144.59,745.50 144.87,745.50 145.14,745.50 145.42,745.50 145.69,745.50 145.97,745.50 146.25,745.50 146.52,745.50 146.80,745.50 147.08,745.50 147.35,745.50 147.63,745.50 147.91,745.50 148.18,745.50 148.46,745.50 148.73,745.50 149.01,745.50 149.29,745.50 149.56,745.50 149.84,745.50 150.12,745.50 150.39,745.50 150.67,745.50 150.94,745.50 151.22,745.50 151.50,745.50 151.77,745.50 152.05,745.50 152.32,745.50 152.60,745.50 152.88,745.50 153.15,745.50 153.43,745.50 153.71,745.50 153.98,745.50 154.26,745.50 154.53,745.50 154.81,745.50 155.09,745.50 155.36,745.50 155.64,745.50 155.92,745.50 156.19,745.50 156.47,745.50 156.75,745.50 157.02,745.50 157.30,745.50 157.57,745.50 157.85,745.50 158.13,745.50 158.40,745.50 158.68,745.50 158.96,745.50 159.23,745.50 159.51,745.50 159.78,745.50 160.06,745.50 160.34,745.50 160.61,745.50 160.89,745.50 161.16,745.50 161.44,745.50 161.72,745.50 161.99,745.50 162.27,745.50 162.55,745.50 162.82,745.50 163.10,745.50 163.38,745.50 163.65,745.50 163.93,745.50 164.20,745.50 164.48,745.50 164.76,745.50 165.03,745.50 165.31,745.50 165.59,745.50 165.86,745.50 166.14,745.50 166.41,745.50 166.69,745.50 166.97,745.50 167.24,745.50 167.52,745.50 167.79,745.50 168.07,745.50 168.35,745.50 168.62,745.50 168.90,745.50 169.18,745.50 169.45,745.50 169.73,745.50 170.00,745.50 170.28,745.50 170.56,745.50 170.83,745.50 171.11,745.50 171.39,745.50 171.66,745.50 171.94,745.50 172.22,745.50 172.49,745.50 172.77,745.50 173.04,745.50 173.32,745.50 173.60,745.50 173.87,745.50 174.15,745.50 174.43,745.50 174.70,745.50 174.98,745.50 175.25,745.50 175.53,745.50 175.81,745.50 176.08,745.50 176.36,745.50 176.63,745.50 176.91,745.50 177.19,745.50 177.46,745.50 177.74,745.50 178.02,745.50 178.29,745.50 178.57,745.50 178.84,745.50 179.12,745.50 179.40,745.50 179.67,745.50 179.95,745.50 180.23,745.50 180.50,745.50 180.78,745.50 181.06,745.50 181.33,745.50 181.61,745.50 181.88,745.50 182.16,745.50 182.44,745.50 182.71,745.50 182.99,745.50 183.26,745.50 183.54,745.50 183.82,745.50 184.09,745.50 184.37,745.50 184.65,745.50 184.92,745.50 185.20,745.50 185.47,745.50 185.75,745.50 186.03,745.50 186.30,745.50 186.58,745.50 186.86,745.50 187.13,745.50 187.41,745.50 187.69,745.50 187.96,745.50 188.24,745.50 188.51,745.50 188.79,745.50 189.07,745.50 189.34,745.50 189.62,745.50 189.90,745.50 190.17,745.50 190.45,745.50 190.72,745.50 191.00,745.50 191.28,745.50 191.55,745.50 191.83,745.50 192.11,745.50 192.38,745.50 192.66,745.50 192.93,745.50 193.21,745.50 193.49,745.50 193.76,745.50 194.04,745.50 194.31,745.50 194.59,745.50 194.87,745.50 195.14,745.50 195.42,745.50 195.70,745.50 195.97,745.50 196.25,745.50 196.53,745.50 196.80,745.50 197.08,745.50 197.35,745.50 197.63,745.50 197.91,745.50 198.18,745.50 198.46,745.50 198.74,745.50 199.01,745.50 199.29,745.50 199.56,745.50 199.84,745.50 200.12,745.50 200.39,745.50 200.67,745.50 200.94,745.50 201.22,745.50 201.50,745.50 201.77,745.50 202.05,745.50 202.33,745.50 202.60,745.50 202.88,745.50 203.16,745.50 203.43,745.50 203.71,745.50 203.98,745.50 204.26,745.50 204.54,745.50 204.81,745.50 205.09,745.50 205.37,745.50 205.64,745.50 205.92,745.50 206.19,745.50 206.47,745.50 206.75,745.50 207.02,745.50 207.30,745.50 207.58,745.50 207.85,745.50 208.13,745.50 208.40,745.50 208.68,745.50 208.96,745.50 209.23,745.50 209.51,745.50 209.78,745.50 210.06,745.50 210.34,745.50 210.61,745.50 210.89,745.50 211.17,745.50 211.44,745.50 211.72,745.50 212.00,745.50 212.27,745.50 212.55,745.50 212.82,745.50 213.10,745.50 213.38,745.50 213.65,745.50 213.93,745.50 214.21,745.50 214.48,745.50 214.76,745.50 215.03,745.50 215.31,745.50 215.59,745.50 215.86,745.50 216.14,745.50 216.42,745.50 216.69,745.50 216.97,745.50 217.24,745.50 217.52,745.50 217.80,745.50 218.07,745.50 218.35,745.50 218.62,745.50 218.90,745.50 219.18,745.50 219.45,745.50 219.73,745.50 220.01,745.50 220.28,745.50 220.56,745.50 220.84,745.50 221.11,745.50 221.39,745.50 221.66,745.50 221.94,745.50 222.22,745.50 222.49,745.50 222.77,745.50 223.05,745.50 223.32,745.50 223.60,745.50 223.87,745.50 224.15,745.50 224.43,745.50 224.70,745.50 224.98,745.50 225.25,745.50 225.53,745.50 225.81,745.50 226.08,745.50 226.36,745.50 226.64,745.50 226.91,745.50 227.19,745.50 227.47,745.50 227.74,745.50 228.02,745.50 228.29,745.50 228.57,745.50 228.85,745.50 229.12,745.50 229.40,745.50 229.68,745.50 229.95,745.50 230.23,745.50 230.50,745.50 230.78,745.50 231.06,745.50 231.33,745.50 231.61,745.50 231.89,745.50 232.16,745.50 232.44,745.50 232.71,745.50 232.99,745.50 233.27,745.50 233.54,745.50 233.82,745.50 234.09,745.50 234.37,745.50 234.65,745.50 234.92,745.50 235.20,745.50 235.48,745.50 235.75,745.50 236.03,745.50 236.31,745.50 236.58,745.50 236.86,745.50 237.13,745.50 237.41,745.50 237.69,745.50 237.96,745.50 238.24,745.50 238.52,745.50 238.79,745.50 239.07,745.50 239.34,745.50 239.62,745.50 239.90,745.50 240.17,745.50 240.45,745.50 240.72,745.50 241.00,745.50 241.28,745.50 241.55,745.50 241.83,745.50 242.11,745.50 242.38,745.50 242.66,745.50 242.94,745.50 243.21,745.50 243.49,745.50 243.76,745.50 244.04,745.50 244.32,745.50 244.59,745.50 244.87,745.50 245.15,745.50 245.42,745.50 245.70,745.50 245.97,745.50 246.25,745.50 246.53,745.50 246.80,745.50 247.08,745.50 247.36,745.50 247.63,745.50 247.91,745.50 248.18,745.50 248.46,745.50 248.74,745.50 249.01,745.50 249.29,745.50 249.56,745.50 249.84,745.50 250.12,745.50 250.39,745.50 250.67,745.50 250.95,745.50 251.22,745.50 251.50,745.50 251.78,745.50 252.05,745.50 252.33,745.50 252.60,745.50 252.88,745.50 253.16,745.50 253.43,745.50 253.71,745.50 253.99,745.50 254.26,745.50 254.54,745.50 254.81,745.50 255.09,745.50 255.37,745.50 255.64,745.50 255.92,745.50 256.19,745.50 256.47,745.50 256.75,745.50 257.02,745.50 257.30,745.50 257.58,745.50 257.85,745.50 258.13,745.50 258.40,745.50 258.68,745.50 258.96,745.50 259.23,745.50 259.51,745.50 259.79,745.50 260.06,745.50 260.34,745.50 260.62,745.50 260.89,745.50 261.17,745.50 261.44,745.50 261.72,745.50 262.00,745.50 262.27,745.50 262.55,745.50 262.82,745.50 263.10,745.50 263.38,745.50 263.65,745.50 263.93,745.50 264.21,745.50 264.48,745.50 264.76,745.50 265.03,745.50 265.31,745.50 265.59,745.50 265.86,745.50 266.14,745.50 266.42,745.50 266.69,745.50 266.97,745.50 267.25,745.50 267.52,745.50 267.80,745.50 268.07,745.50 268.35,745.50 268.63,745.50 268.90,745.50 269.18,745.50 269.45,745.50 269.73,745.50 270.01,745.50 270.28,745.50 270.56,745.50 270.84,745.50 271.11,745.50 271.39,745.50 271.67,745.50 271.94,745.50 272.22,745.50 272.49,745.50 272.77,745.50 273.05,745.50 273.32,745.50 273.60,745.50 273.88,745.50 274.15,745.50 274.43,745.50 274.70,745.50 274.98,745.50 275.26,745.50 275.53,745.50 275.81,745.50 276.08,745.50 276.36,745.50 276.64,745.50 276.91,745.50 277.19,745.50 277.47,745.50 277.74,745.50 278.02,745.50 278.30,745.50 278.57,745.50 278.85,745.50 279.12,745.50 279.40,745.50 279.68,745.50 279.95,745.50 280.23,745.50 280.50,745.50 280.78,745.50 281.06,745.50 281.33,745.50 281.61,745.50 281.89,745.50 282.16,745.50 282.44,745.50 282.71,745.50 282.99,745.50 283.27,745.50 283.54,745.50 283.82,745.50 284.10,745.50 284.37,745.50 284.65,745.50 284.93,745.50 285.20,745.50 285.48,745.50 285.75,745.50 286.03,745.50 286.31,745.50 286.58,745.50 286.86,745.50 287.13,745.50 287.41,745.50 287.69,745.50 287.96,745.50 288.24,745.50 288.52,745.50 288.79,745.50 289.07,745.50 289.34,745.50 289.62,745.50 289.90,745.50 290.17,745.50 290.45,745.50 290.73,745.50 291.00,745.50 291.28,745.50 291.56,745.50 291.83,745.50 292.11,745.50 292.38,745.50 292.66,745.50 292.94,745.50 293.21,745.50 293.49,745.50 293.76,745.50 294.04,745.50 294.32,745.50 294.59,745.50 294.87,745.50 295.15,745.50 295.42,745.50 295.70,745.50 295.97,745.50 296.25,745.50 296.53,745.50 296.80,745.50 297.08,745.50 297.36,745.50 297.63,745.50" fill="none" stroke="#2e3b8a" stroke-width="1"/>
<path d="M58.40,745.5 L58.40,745.50 58.68,745.50 58.95,745.50 59.23,745.50 59.50,745.50 59.78,745.50 60.06,745.50 60.33,745.50 60.61,745.50 60.89,745.50 61.16,745.50 61.44,745.50 61.71,745.50 61.99,745.50 62.27,745.50 62.54,745.50 62.82,745.50 63.10,745.50 63.37,745.50 63.65,745.50 63.92,745.50 64.20,745.50 64.48,745.50 64.75,745.50 65.03,745.50 65.31,745.50 65.58,745.50 65.86,745.50 66.14,745.50 66.41,745.50 66.69,745.50 66.96,745.50 67.24,745.50 67.52,745.50 67.79,745.50 68.07,745.50 68.34,745.50 68.62,745.50 68.90,745.50 69.17,745.50 69.45,745.50 69.73,745.50 70.00,745.50 70.28,745.50 70.55,745.50 70.83,745.50 71.11,745.50 71.38,745.50 71.66,745.50 71.94,745.50 72.21,745.50 72.49,745.50 72.77,745.50 73.04,745.50 73.32,745.50 73.59,745.50 73.87,745.50 74.15,745.50 74.42,745.50 74.70,745.50 74.97,745.50 75.25,745.50 75.53,745.50 75.80,745.50 76.08,745.50 76.36,745.50 76.63,745.50 76.91,745.50 77.19,745.50 77.46,745.50 77.74,745.50 78.01,745.50 78.29,745.50 78.57,745.50 78.84,745.50 79.12,745.50 79.39,745.50 79.67,745.50 79.95,745.50 80.22,745.50 80.50,745.50 80.78,745.50 81.05,745.50 81.33,745.50 81.61,745.50 81.88,745.50 82.16,745.50 82.43,745.50 82.71,745.50 82.99,745.50 83.26,745.50 83.54,745.50 83.81,745.50 84.09,745.50 84.37,745.50 84.64,745.50 84.92,745.50 85.20,745.50 85.47,745.50 85.75,745.50 86.03,745.50 86.30,745.50 86.58,745.50 86.85,745.50 87.13,745.50 87.41,745.50 87.68,745.50 87.96,745.50 88.23,745.50 88.51,745.50 88.79,745.50 89.06,745.50 89.34,745.50 89.62,745.50 89.89,745.50 90.17,745.50 90.44,745.50 90.72,745.50 91.00,745.50 91.27,745.50 91.55,745.50 91.83,745.50 92.10,745.50 92.38,745.50 92.66,745.50 92.93,745.50 93.21,745.50 93.48,745.50 93.76,745.50 94.04,745.50 94.31,745.50 94.59,745.50 94.87,745.50 95.14,745.50 95.42,745.50 95.69,745.50 95.97,745.50 96.25,745.50 96.52,745.50 96.80,745.50 97.07,745.50 97.35,745.50 97.63,745.50 97.90,745.50 98.18,745.50 98.46,745.50 98.73,745.50 99.01,745.50 99.28,745.50 99.56,745.50 99.84,745.50 100.11,745.50 100.39,745.50 100.67,745.50 100.94,745.50 101.22,745.50 101.50,745.50 101.77,745.50 102.05,745.50 102.32,745.50 102.60,745.50 102.88,745.50 103.15,745.50 103.43,745.50 103.70,745.50 103.98,745.50 104.26,745.50 104.53,745.50 104.81,745.50 105.09,745.50 105.36,745.50 105.64,745.50 105.91,745.50 106.19,745.50 106.47,745.50 106.74,745.50 107.02,745.50 107.30,745.50 107.57,745.50 107.85,745.50 108.12,745.50 108.40,745.50 108.68,745.50 108.95,745.50 109.23,745.50 109.51,745.50 109.78,745.50 110.06,745.50 110.34,745.50 110.61,745.50 110.89,745.50 111.16,745.50 111.44,745.50 111.72,745.50 111.99,745.50 112.27,745.50 112.55,745.50 112.82,745.50 113.10,745.50 113.37,745.50 113.65,745.50 113.93,745.50 114.20,745.50 114.48,745.50 114.75,745.50 115.03,745.50 115.31,745.50 115.58,745.50 115.86,745.50 116.14,745.50 116.41,745.50 116.69,745.50 116.97,745.50 117.24,745.50 117.52,745.50 117.79,745.50 118.07,745.50 118.35,745.50 118.62,745.50 118.90,745.50 119.17,745.50 119.45,745.50 119.73,745.50 120.00,745.50 120.28,745.50 120.56,745.50 120.83,745.50 121.11,745.50 121.38,745.50 121.66,745.50 121.94,745.50 122.21,745.50 122.49,745.50 122.77,745.50 123.04,745.50 123.32,745.50 123.59,745.50 123.87,745.50 124.15,745.50 124.42,745.50 124.70,745.50 124.98,745.50 125.25,745.50 125.53,745.50 125.81,745.50 126.08,745.50 126.36,745.50 126.63,745.50 126.91,745.50 127.19,745.50 127.46,745.50 127.74,745.50 128.01,745.50 128.29,745.50 128.57,745.50 128.84,745.50 129.12,745.50 129.40,745.50 129.67,745.50 129.95,745.50 130.22,745.50 130.50,745.50 130.78,745.50 131.05,745.50 131.33,745.50 131.61,745.50 131.88,745.50 132.16,745.50 132.44,745.50 132.71,745.50 132.99,745.50 133.26,745.50 133.54,745.50 133.82,745.50 134.09,745.50 134.37,745.50 134.65,745.50 134.92,745.50 135.20,745.50 135.47,745.50 135.75,745.50 136.03,745.50 136.30,745.50 136.58,745.50 136.85,745.50 137.13,745.50 137.41,745.50 137.68,745.50 137.96,745.50 138.24,745.50 138.51,745.50 138.79,745.50 139.06,745.50 139.34,745.50 139.62,745.50 139.89,745.50 140.17,745.50 140.45,745.50 140.72,745.50 141.00,745.50 141.28,745.50 141.55,745.50 141.83,745.50 142.10,745.50 142.38,745.50 142.66,745.50 142.93,745.50 143.21,745.50 143.48,745.50 143.76,745.50 144.04,745.50 144.31,745.50 144.59,745.50 144.87,745.50 145.14,745.50 145.42,745.50 145.69,745.50 145.97,745.50 146.25,745.50 146.52,745.50 146.80,745.50 147.08,745.50 147.35,745.50 147.63,745.50 147.91,745.50 148.18,745.50 148.46,745.50 148.73,745.50 149.01,745.50 149.29,745.50 149.56,745.50 149.84,745.50 150.12,745.50 150.39,745.50 150.67,745.50 150.94,745.50 151.22,745.50 151.50,745.50 151.77,745.50 152.05,745.50 152.32,745.50 152.60,745.50 152.88,745.50 153.15,745.50 153.43,745.50 153.71,745.50 153.98,745.50 154.26,745.50 154.53,745.50 154.81,745.50 155.09,745.50 155.36,745.50 155.64,745.50 155.92,745.50 156.19,745.50 156.47,745.50 156.75,745.50 157.02,745.50 157.30,745.50 157.57,745.50 157.85,745.50 158.13,745.50 158.40,745.50 158.68,745.50 158.96,745.50 159.23,745.50 159.51,745.50 159.78,745.50 160.06,745.50 160.34,745.50 160.61,745.50 160.89,745.50 161.16,745.50 161.44,745.50 161.72,745.50 161.99,745.50 162.27,745.50 162.55,745.50 162.82,745.50 163.10,745.50 163.38,745.50 163.65,745.50 163.93,745.50 164.20,745.50 164.48,745.50 164.76,745.50 165.03,745.50 165.31,745.50 165.59,745.50 165.86,745.50 166.14,745.50 166.41,745.50 166.69,745.50 166.97,745.50 167.24,745.50 167.52,745.50 167.79,745.50 168.07,745.50 168.35,745.50 168.62,745.50 168.90,745.50 169.18,745.50 169.45,745.50 169.73,745.50 170.00,745.50 170.28,745.50 170.56,745.50 170.83,745.50 171.11,745.50 171.39,745.50 171.66,745.50 171.94,745.50 172.22,745.50 172.49,745.50 172.77,745.50 173.04,745.50 173.32,745.50 173.60,745.50 173.87,745.50 174.15,745.50 174.43,745.50 174.70,745.50 174.98,745.50 175.25,745.50 175.53,745.50 175.81,745.50 176.08,745.50 176.36,745.50 176.63,745.50 176.91,745.50 177.19,745.50 177.46,745.50 177.74,745.50 178.02,745.50 178.29,745.50 178.57,745.50 178.84,745.50 179.12,745.50 179.40,745.50 179.67,745.50 179.95,745.50 180.23,745.50 180.50,745.50 180.78,745.50 181.06,745.50 181.33,745.50 181.61,745.50 181.88,745.50 182.16,745.50 182.44,745.50 182.71,745.50 182.99,745.50 183.26,745.50 183.54,745.50 183.82,745.50 184.09,745.50 184.37,745.50 184.65,745.50 184.92,745.50 185.20,745.50 185.47,745.50 185.75,745.50 186.03,745.50 186.30,745.50 186.58,745.50 186.86,745.50 187.13,745.50 187.41,745.50 187.69,745.50 187.96,745.50 188.24,745.50 188.51,745.50 188.79,745.50 189.07,745.50 189.34,745.50 189.62,745.50 189.90,745.50 190.17,745.50 190.45,745.50 190.72,745.50 191.00,745.50 191.28,745.50 191.55,745.50 191.83,745.50 192.11,745.50 192.38,745.50 192.66,745.50 192.93,745.50 193.21,745.50 193.49,745.50 193.76,745.50 194.04,745.50 194.31,745.50 194.59,745.50 194.87,745.50 195.14,745.50 195.42,745.50 195.70,745.50 195.97,745.50 196.25,745.50 196.53,745.50 196.80,745.50 197.08,745.50 197.35,745.50 197.63,745.50 197.91,745.50 198.18,745.50 198.46,745.50 198.74,745.50 199.01,745.50 199.29,745.50 199.56,745.50 199.84,745.50 200.12,745.50 200.39,745.50 200.67,745.50 200.94,745.50 201.22,745.50 201.50,745.50 201.77,745.50 202.05,745.50 202.33,745.50 202.60,745.50 202.88,745.50 203.16,745.50 203.43,745.50 203.71,745.50 203.98,745.50 204.26,745.50 204.54,745.50 204.81,745.50 205.09,745.50 205.37,745.50 205.64,745.50 205.92,745.50 206.19,745.50 206.47,745.50 206.75,745.50 207.02,745.50 207.30,745.50 207.58,745.50 207.85,745.50 208.13,745.50 208.40,745.50 208.68,745.50 208.96,745.50 209.23,745.50 209.51,745.50 209.78,745.50 210.06,745.50 210.34,745.50 210.61,745.50 210.89,745.50 211.17,745.50 211.44,745.50 211.72,745.50 212.00,745.50 212.27,745.50 212.55,745.50 212.82,745.50 213.10,745.50 213.38,745.50 213.65,745.50 213.93,745.50 214.21,745.50 214.48,745.50 214.76,745.50 215.03,745.50 215.31,745.50 215.59,745.50 215.86,745.50 216.14,745.50 216.42,745.50 216.69,745.50 216.97,745.50 217.24,745.50 217.52,745.50 217.80,745.50 218.07,745.50 218.35,745.50 218.62,745.50 218.90,745.50 219.18,745.50 219.45,745.50 219.73,745.50 220.01,745.50 220.28,745.50 220.56,745.50 220.84,745.50 221.11,745.50 221.39,745.50 221.66,745.50 221.94,745.50 222.22,745.50 222.49,745.50 222.77,745.50 223.05,745.50 223.32,745.50 223.60,745.50 223.87,745.50 224.15,745.50 224.43,745.50 224.70,745.50 224.98,745.50 225.25,745.50 225.53,745.50 225.81,745.50 226.08,745.50 226.36,745.50 226.64,745.50 226.91,745.50 227.19,745.50 227.47,745.50 227.74,745.50 228.02,745.50 228.29,745.50 228.57,745.50 228.85,745.50 229.12,745.50 229.40,745.50 229.68,745.50 229.95,745.50 230.23,745.50 230.50,745.50 230.78,745.50 231.06,745.50 231.33,745.50 231.61,745.50 231.89,745.50 232.16,745.50 232.44,745.50 232.71,745.50 232.99,745.50 233.27,745.50 233.54,745.50 233.82,745.50 234.09,745.50 234.37,745.50 234.65,745.50 234.92,745.50 235.20,745.50 235.48,745.50 235.75,745.50 236.03,745.50 236.31,745.50 236.58,745.50 236.86,745.50 237.13,745.50 237.41,745.50 237.69,745.50 237.96,745.50 238.24,745.50 238.52,745.50 238.79,745.50 239.07,745.50 239.34,745.50 239.62,745.50 239.90,745.50 240.17,745.50 240.45,745.50 240.72,745.50 241.00,745.50 241.28,745.50 241.55,745.50 241.83,745.50 242.11,745.50 242.38,745.50 242.66,745.50 242.94,745.50 243.21,745.50 243.49,745.50 243.76,745.50 244.04,745.50 244.32,745.50 244.59,745.50 244.87,745.50 245.15,745.50 245.42,745.50 245.70,745.50 245.97,745.50 246.25,745.50 246.53,745.50 246.80,745.50 247.08,745.50 247.36,745.50 247.63,745.50 247.91,745.50 248.18,745.50 248.46,745.50 248.74,745.50 249.01,745.50 249.29,745.50 249.56,745.50 249.84,745.50 250.12,745.50 250.39,745.50 250.67,745.50 250.95,745.50 251.22,745.50 251.50,745.50 251.78,745.50 252.05,745.50 252.33,745.50 252.60,745.50 252.88,745.50 253.16,745.50 253.43,745.50 253.71,745.50 253.99,745.50 254.26,745.50 254.54,745.50 254.81,745.50 255.09,745.50 255.37,745.50 255.64,745.50 255.92,745.50 256.19,745.50 256.47,745.50 256.75,745.50 257.02,745.50 257.30,745.50 257.58,745.50 257.85,745.50 258.13,745.50 258.40,745.50 258.68,745.50 258.96,745.50 259.23,745.50 259.51,745.50 259.79,745.50 260.06,745.50 260.34,745.50 260.62,745.50 260.89,745.50 261.17,745.50 261.44,745.50 261.72,745.50 262.00,745.50 262.27,745.50 262.55,745.50 262.82,745.50 263.10,745.50 263.38,745.50 263.65,745.50 263.93,745.50 264.21,745.50 264.48,745.50 264.76,745.50 265.03,745.50 265.31,745.50 265.59,745.50 265.86,745.50 266.14,745.50 266.42,745.50 266.69,745.50 266.97,745.50 267.25,745.50 267.52,745.50 267.80,745.50 268.07,745.50 268.35,745.50 268.63,745.50 268.90,745.50 269.18,745.50 269.45,745.50 269.73,745.50 270.01,745.50 270.28,745.50 270.56,745.50 270.84,745.50 271.11,745.50 271.39,745.50 271.67,745.50 271.94,745.50 272.22,745.50 272.49,745.50 272.77,745.50 273.05,745.50 273.32,745.50 273.60,745.50 273.88,745.49 274.15,745.49 274.43,745.49 274.70,745.49 274.98,745.48 275.26,745.48 275.53,745.47 275.81,745.46 276.08,745.45 276.36,745.43 276.64,745.41 276.91,745.39 277.19,745.36 277.47,745.31 277.74,745.26 278.02,745.20 278.30,745.12 278.57,745.02 278.85,744.90 279.12,744.75 279.40,744.57 279.68,744.35 279.95,744.09 280.23,743.77 280.50,743.38 280.78,742.92 281.06,742.38 281.33,741.73 281.61,740.98 281.89,740.09 282.16,739.05 282.44,737.85 282.71,736.47 282.99,734.88 283.27,733.06 283.54,730.99 283.82,728.64 284.10,726.00 284.37,723.04 284.65,719.75 284.93,716.09 285.20,712.05 285.48,707.62 285.75,702.78 286.03,697.53 286.31,691.86 286.58,685.77 286.86,679.27 287.13,672.37 287.41,665.10 287.69,657.47 287.96,649.52 288.24,641.29 288.52,632.84 288.79,624.21 289.07,615.47 289.34,606.69 289.62,597.94 289.90,589.29 290.17,580.84 290.45,572.66 290.73,564.83 291.00,557.45 291.28,550.59 291.56,544.33 291.83,538.74 292.11,533.88 292.38,529.83 292.66,526.62 292.94,524.31 293.21,522.90 293.49,522.43 293.76,522.90 294.04,524.31 294.32,526.62 294.59,529.83 294.87,533.88 295.15,538.74 295.42,544.33 295.70,550.59 295.97,557.45 296.25,564.83 296.53,572.66 296.80,580.84 297.08,589.29 L297.08,745.5Z" fill="#c82020" fill-opacity="0.5"/>
<polyline points="58.40,745.50 58.68,745.50 58.95,745.50 59.23,745.50 59.50,745.50 59.78,745.50 60.06,745.50 60.33,745.50 60.61,745.50 60.89,745.50 61.16,745.50 61.44,745.50 61.71,745.50 61.99,745.50 62.27,745.50 62.54,745.50 62.82,745.50 63.10,745.50 63.37,745.50 63.65,745.50 63.92,745.50 64.20,745.50 64.48,745.50 64.75,745.50 65.03,745.50 65.31,745.50 65.58,745.50 65.86,745.50 66.14,745.50 66.41,745.50 66.69,745.50 66.96,745.50 67.24,745.50 67.52,745.50 67.79,745.50 68.07,745.50 68.34,745.50 68.62,745.50 68.90,745.50 69.17,745.50 69.45,745.50 69.73,745.50 70.00,745.50 70.28,745.50 70.55,745.50 70.83,745.50 71.11,745.50 71.38,745.50 71.66,745.50 71.94,745.50 72.21,745.50 72.49,745.50 72.77,745.50 73.04,745.50 73.32,745.50 73.59,745.50 73.87,745.50 74.15,745.50 74.42,745.50 74.70,745.50 74.97,745.50 75.25,745.50 75.53,745.50 75.80,745.50 76.08,745.50 76.36,745.50 76.63,745.50 76.91,745.50 77.19,745.50 77.46,745.50 77.74,745.50 78.01,745.50 78.29,745.50 78.57,745.50 78.84,745.50 79.12,745.50 79.39,745.50 79.67,745.50 79.95,745.50 80.22,745.50 80.50,745.50 80.78,745.50 81.05,745.50 81.33,745.50 81.61,745.50 81.88,745.50 82.16,745.50 82.43,745.50 82.71,745.50 82.99,745.50 83.26,745.50 83.54,745.50 83.81,745.50 84.09,745.50 84.37,745.50 84.64,745.50 84.92,745.50 85.20,745.50 85.47,745.50 85.75,745.50 86.03,745.50 86.30,745.50 86.58,745.50 86.85,745.50 87.13,745.50 87.41,745.50 87.68,745.50 87.96,745.50 88.23,745.50 88.51,745.50 88.79,745.50 89.06,745.50 89.34,745.50 89.62,745.50 89.89,745.50 90.17,745.50 90.44,745.50 90.72,745.50 91.00,745.50 91.27,745.50 91.55,745.50 91.83,745.50 92.10,745.50 92.38,745.50 92.66,745.50 92.93,745.50 93.21,745.50 93.48,745.50 93.76,745.50 94.04,745.50 94.31,745.50 94.59,745.50 94.87,745.50 95.14,745.50 95.42,745.50 95.69,745.50 95.97,745.50 96.25,745.50 96.52,745.50 96.80,745.50 97.07,745.50 97.35,745.50 97.63,745.50 97.90,745.50 98.18,745.50 98.46,745.50 98.73,745.50 99.01,745.50 99.28,745.50 99.56,745.50 99.84,745.50 100.11,745.50 100.39,745.50 100.67,745.50 100.94,745.50 101.22,745.50 101.50,745.50 101.77,745.50 102.05,745.50 102.32,745.50 102.60,745.50 102.88,745.50 103.15,745.50 103.43,745.50 103.70,745.50 103.98,745.50 104.26,745.50 104.53,745.50 104.81,745.50 105.09,745.50 105.36,745.50 105.64,745.50 105.91,745.50 106.19,745.50 106.47,745.50 106.74,745.50 107.02,745.50 107.30,745.50 107.57,745.50 107.85,745.50 108.12,745.50 108.40,745.50 108.68,745.50 108.95,745.50 109.23,745.50 109.51,745.50 109.78,745.50 110.06,745.50 110.34,745.50 110.61,745.50 110.89,745.50 111.16,745.50 111.44,745.50 111.72,745.50 111.99,745.50 112.27,745.50 112.55,745.50 112.82,745.50 113.10,745.50 113.37,745.50 113.65,745.50 113.93,745.50 114.20,745.50 114.48,745.50 114.75,745.50 115.03,745.50 115.31,745.50 115.58,745.50 115.86,745.50 116.14,745.50 116.41,745.50 116.69,745.50 116.97,745.50 117.24,745.50 117.52,745.50 117.79,745.50 118.07,745.50 118.35,745.50 118.62,745.50 118.90,745.50 119.17,745.50 119.45,745.50 119.73,745.50 120.00,745.50 120.28,745.50 120.56,745.50 120.83,745.50 121.11,745.50 121.38,745.50 121.66,745.50 121.94,745.50 122.21,745.50 122.49,745.50 122.77,745.50 123.04,745.50 123.32,745.50 123.59,745.50 123.87,745.50 124.15,745.50 124.42,745.50 124.70,745.50 124.98,745.50 125.25,745.50 125.53,745.50 125.81,745.50 126.08,745.50 126.36,745.50 126.63,745.50 126.91,745.50 127.19,745.50 127.46,745.50 127.74,745.50 128.01,745.50 128.29,745.50 128.57,745.50 128.84,745.50 129.12,745.50 129.40,745.50 129.67,745.50 129.95,745.50 130.22,745.50 130.50,745.50 130.78,745.50 131.05,745.50 131.33,745.50 131.61,745.50 131.88,745.50 132.16,745.50 132.44,745.50 132.71,745.50 132.99,745.50 133.26,745.50 133.54,745.50 133.82,745.50 134.09,745.50 134.37,745.50 134.65,745.50 134.92,745.50 135.20,745.50 135.47,745.50 135.75,745.50 136.03,745.50 136.30,745.50 136.58,745.50 136.85,745.50 137.13,745.50 137.41,745.50 137.68,745.50 137.96,745.50 138.24,745.50 138.51,745.50 138.79,745.50 139.06,745.50 139.34,745.50 139.62,745.50 139.89,745.50 140.17,745.50 140.45,745.50 140.72,745.50 141.00,745.50 141.28,745.50 141.55,745.50 141.83,745.50 142.10,745.50 142.38,745.50 142.66,745.50 142.93,745.50 143.21,745.50 143.48,745.50 143.76,745.50 144.04,745.50 144.31,745.50 144.59,745.50 144.87,745.50 145.14,745.50 145.42,745.50 145.69,745.50 145.97,745.50 146.25,745.50 146.52,745.50 146.80,745.50 147.08,745.50 147.35,745.50 147.63,745.50 147.91,745.50 148.18,745.50 148.46,745.50 148.73,745.50 149.01,745.50 149.29,745.50 149.56,745.50 149.84,745.50 150.12,745.50 150.39,745.50 150.67,745.50 150.94,745.50 151.22,745.50 151.50,745.50 151.77,745.50 152.05,745.50 152.32,745.50 152.60,745.50 152.88,745.50 153.15,745.50 153.43,745.50 153.71,745.50 153.98,745.50 154.26,745.50 154.53,745.50 154.81,745.50 155.09,745.50 155.36,745.50 155.64,745.50 155.92,745.50 156.19,745.50 156.47,745.50 156.75,745.50 157.02,745.50 157.30,745.50 157.57,745.50 157.85,745.50 158.13,745.50 158.40,745.50 158.68,745.50 158.96,745.50 159.23,745.50 159.51,745.50 159.78,745.50 160.06,745.50 160.34,745.50 160.61,745.50 160.89,745.50 161.16,745.50 161.44,745.50 161.72,745.50 161.99,745.50 162.27,745.50 162.55,745.50 162.82,745.50 163.10,745.50 163.38,745.50 163.65,745.50 163.93,745.50 164.20,745.50 164.48,745.50 164.76,745.50 165.03,745.50 165.31,745.50 165.59,745.50 165.86,745.50 166.14,745.50 166.41,745.50 166.69,745.50 166.97,745.50 167.24,745.50 167.52,745.50 167.79,745.50 168.07,745.50 168.35,745.50 168.62,745.50 168.90,745.50 169.18,745.50 169.45,745.50 169.73,745.50 170.00,745.50 170.28,745.50 170.56,745.50 170.83,745.50 171.11,745.50 171.39,745.50 171.66,745.50 171.94,745.50 172.22,745.50 172.49,745.50 172.77,745.50 173.04,745.50 173.32,745.50 173.60,745.50 173.87,745.50 174.15,745.50 174.43,745.50 174.70,745.50 174.98,745.50 175.25,745.50 175.53,745.50 175.81,745.50 176.08,745.50 176.36,745.50 176.63,745.50 176.91,745.50 177.19,745.50 177.46,745.50 177.74,745.50 178.02,745.50 178.29,745.50 178.57,745.50 178.84,745.50 179.12,745.50 179.40,745.50 179.67,745.50 179.95,745.50 180.23,745.50 180.50,745.50 180.78,745.50 181.06,745.50 181.33,745.50 181.61,745.50 181.88,745.50 182.16,745.50 182.44,745.50 182.71,745.50 182.99,745.50 183.26,745.50 183.54,745.50 183.82,745.50 184.09,745.50 184.37,745.50 184.65,745.50 184.92,745.50 185.20,745.50 185.47,745.50 185.75,745.50 186.03,745.50 186.30,745.50 186.58,745.50 186.86,745.50 187.13,745.50 187.41,745.50 187.69,745.50 187.96,745.50 188.24,745.50 188.51,745.50 188.79,745.50 189.07,745.50 189.34,745.50 189.62,745.50 189.90,745.50 190.17,745.50 190.45,745.50 190.72,745.50 191.00,745.50 191.28,745.50 191.55,745.50 191.83,745.50 192.11,745.50 192.38,745.50 192.66,745.50 192.93,745.50 193.21,745.50 193.49,745.50 193.76,745.50 194.04,745.50 194.31,745.50 194.59,745.50 194.87,745.50 195.14,745.50 195.42,745.50 195.70,745.50 195.97,745.50 196.25,745.50 196.53,745.50 196.80,745.50 197.08,745.50 197.35,745.50 197.63,745.50 197.91,745.50 198.18,745.50 198.46,745.50 198.74,745.50 199.01,745.50 199.29,745.50 199.56,745.50 199.84,745.50 200.12,745.50 200.39,745.50 200.67,745.50 200.94,745.50 201.22,745.50 201.50,745.50 201.77,745.50 202.05,745.50 202.33,745.50 202.60,745.50 202.88,745.50 203.16,745.50 203.43,745.50 203.71,745.50 203.98,745.50 204.26,745.50 204.54,745.50 204.81,745.50 205.09,745.50 205.37,745.50 205.64,745.50 205.92,745.50 206.19,745.50 206.47,745.50 206.75,745.50 207.02,745.50 207.30,745.50 207.58,745.50 207.85,745.50 208.13,745.50 208.40,745.50 208.68,745.50 208.96,745.50 209.23,745.50 209.51,745.50 209.78,745.50 210.06,745.50 210.34,745.50 210.61,745.50 210.89,745.50 211.17,745.50 211.44,745.50 211.72,745.50 212.00,745.50 212.27,745.50 212.55,745.50 212.82,745.50 213.10,745.50 213.38,745.50 213.65,745.50 213.93,745.50 214.21,745.50 214.48,745.50 214.76,745.50 215.03,745.50 215.31,745.50 215.59,745.50 215.86,745.50 216.14,745.50 216.42,745.50 216.69,745.50 216.97,745.50 217.24,745.50 217.52,745.50 217.80,745.50 218.07,745.50 218.35,745.50 218.62,745.50 218.90,745.50 219.18,745.50 219.45,745.50 219.73,745.50 220.01,745.50 220.28,745.50 220.56,745.50 220.84,745.50 221.11,745.50 221.39,745.50 221.66,745.50 221.94,745.50 222.22,745.50 222.49,745.50 222.77,745.50 223.05,745.50 223.32,745.50 223.60,745.50 223.87,745.50 224.15,745.50 224.43,745.50 224.70,745.50 224.98,745.50 225.25,745.50 225.53,745.50 225.81,745.50 226.08,745.50 226.36,745.50 226.64,745.50 226.91,745.50 227.19,745.50 227.47,745.50 227.74,745.50 228.02,745.50 228.29,745.50 228.57,745.50 228.85,745.50 229.12,745.50 229.40,745.50 229.68,745.50 229.95,745.50 230.23,745.50 230.50,745.50 230.78,745.50 231.06,745.50 231.33,745.50 231.61,745.50 231.89,745.50 232.16,745.50 232.44,745.50 232.71,745.50 232.99,745.50 233.27,745.50 233.54,745.50 233.82,745.50 234.09,745.50 234.37,745.50 234.65,745.50 234.92,745.50 235.20,745.50 235.48,745.50 235.75,745.50 236.03,745.50 236.31,745.50 236.58,745.50 236.86,745.50 237.13,745.50 237.41,745.50 237.69,745.50 237.96,745.50 238.24,745.50 238.52,745.50 238.79,745.50 239.07,745.50 239.34,745.50 239.62,745.50 239.90,745.50 240.17,745.50 240.45,745.50 240.72,745.50 241.00,745.50 241.28,745.50 241.55,745.50 241.83,745.50 242.11,745.50 242.38,745.50 242.66,745.50 242.94,745.50 243.21,745.50 243.49,745.50 243.76,745.50 244.04,745.50 244.32,745.50 244.59,745.50 244.87,745.50 245.15,745.50 245.42,745.50 245.70,745.50 245.97,745.50 246.25,745.50 246.53,745.50 246.80,745.50 247.08,745.50 247.36,745.50 247.63,745.50 247.91,745.50 248.18,745.50 248.46,745.50 248.74,745.50 249.01,745.50 249.29,745.50 249.56,745.50 249.84,745.50 250.12,745.50 250.39,745.50 250.67,745.50 250.95,745.50 251.22,745.50 251.50,745.50 251.78,745.50 252.05,745.50 252.33,745.50 252.60,745.50 252.88,745.50 253.16,745.50 253.43,745.50 253.71,745.50 253.99,745.50 254.26,745.50 254.54,745.50 254.81,745.50 255.09,745.50 255.37,745.50 255.64,745.50 255.92,745.50 256.19,745.50 256.47,745.50 256.75,745.50 257.02,745.50 257.30,745.50 257.58,745.50 257.85,745.50 258.13,745.50 258.40,745.50 258.68,745.50 258.96,745.50 259.23,745.50 259.51,745.50 259.79,745.50 260.06,745.50 260.34,745.50 260.62,745.50 260.89,745.50 261.17,745.50 261.44,745.50 261.72,745.50 262.00,745.50 262.27,745.50 262.55,745.50 262.82,745.50 263.10,745.50 263.38,745.50 263.65,745.50 263.93,745.50 264.21,745.50 264.48,745.50 264.76,745.50 265.03,745.50 265.31,745.50 265.59,745.50 265.86,745.50 266.14,745.50 266.42,745.50 266.69,745.50 266.97,745.50 267.25,745.50 267.52,745.50 267.80,745.50 268.07,745.50 268.35,745.50 268.63,745.50 268.90,745.50 269.18,745.50 269.45,745.50 269.73,745.50 270.01,745.50 270.28,745.50 270.56,745.50 270.84,745.50 271.11,745.50 271.39,745.50 271.67,745.50 271.94,745.50 272.22,745.50 272.49,745.50 272.77,745.50 273.05,745.50 273.32,745.50 273.60,745.50 273.88,745.49 274.15,745.49 274.43,745.49 274.70,745.49 274.98,745.48 275.26,745.48 275.53,745.47 275.81,745.46 276.08,745.45 276.36,745.43 276.64,745.41 276.91,745.39 277.19,745.36 277.47,745.31 277.74,745.26 278.02,745.20 278.30,745.12 278.57,745.02 278.85,744.90 279.12,744.75 279.40,744.57 279.68,744.35 279.95,744.09 280.23,743.77 280.50,743.38 280.78,742.92 281.06,742.38 281.33,741.73 281.61,740.98 281.89,740.09 282.16,739.05 282.44,737.85 282.71,736.47 282.99,734.88 283.27,733.06 283.54,730.99 283.82,728.64 284.10,726.00 284.37,723.04 284.65,719.75 284.93,716.09 285.20,712.05 285.48,707.62 285.75,702.78 286.03,697.53 286.31,691.86 286.58,685.77 286.86,679.27 287.13,672.37 287.41,665.10 287.69,657.47 287.96,649.52 288.24,641.29 288.52,632.84 288.79,624.21 289.07,615.47 289.34,606.69 289.62,597.94 289.90,589.29 290.17,580.84 290.45,572.66 290.73,564.83 291.00,557.45 291.28,550.59 291.56,544.33 291.83,538.74 292.11,533.88 292.38,529.83 292.66,526.62 292.94,524.31 293.21,522.90 293.49,522.43 293.76,522.90 294.04,524.31 294.32,526.62 294.59,529.83 294.87,533.88 295.15,538.74 295.42,544.33 295.70,550.59 295.97,557.45 296.25,564.83 296.53,572.66 296.80,580.84 297.08,589.29" fill="none" stroke="#c82020" stroke-width="1"/>
<rect x="156.10" y="540.70" width="8.50" height="8.00" fill="#2e3b8a" />
<rect x="156.10" y="550.10" width="8.50" height="8.30" fill="#c82020" />
<text x="168.00" y="547.60" font-size="8.3" fill="#333" text-anchor="start" >ST218-KL57</text>
<text x="168.00" y="557.10" font-size="8.3" fill="#333" text-anchor="start" >ST23-KL57</text>
<text x="331.70" y="242.80" font-size="8.3" fill="#222" text-anchor="start" >(E)</text>
<path d="M376.5 236.6H660.9V473.3" stroke="#a8a8a8" stroke-width="0.9" fill="none"/><path d="M376.5 236.6V473.3H660.9" stroke="#555" stroke-width="0.9" fill="none"/>
<text x="369.90" y="469.00" font-size="8.3" fill="#555" text-anchor="end" >0</text>
<text x="369.90" y="406.00" font-size="8.3" fill="#555" text-anchor="end" >20</text>
<text x="369.90" y="343.00" font-size="8.3" fill="#555" text-anchor="end" >40</text>
<text x="369.90" y="280.00" font-size="8.3" fill="#555" text-anchor="end" >60</text>
<text x="384.10" y="484.00" font-size="8.3" fill="#555" text-anchor="middle" >0</text>
<text x="435.32" y="484.00" font-size="8.3" fill="#555" text-anchor="middle" >1</text>
<text x="486.54" y="484.00" font-size="8.3" fill="#555" text-anchor="middle" >2</text>
<text x="537.76" y="484.00" font-size="8.3" fill="#555" text-anchor="middle" >3</text>
<text x="588.98" y="484.00" font-size="8.3" fill="#555" text-anchor="middle" >4</text>
<text x="640.20" y="484.00" font-size="8.3" fill="#555" text-anchor="middle" >5</text>
<text x="514.50" y="497.80" font-size="8.3" fill="#333" text-anchor="middle" >Genome Position (Mb)</text>
<text x="352.59" y="363.70" font-size="8.3" fill="#333" text-anchor="middle" transform="rotate(-90 352.59 363.70)">Number of SNPs per 1000 bp</text>
<path d="M389.2 462.9L389.7 462.9L390.8 462.9L392.3 462.9L393.8 462.9L395.4 462.9L396.4 459.7L396.9 462.9L398.4 462.9L400.0 462.9L402.0 462.9L403.6 462.9L404.6 459.7L405.6 462.9L407.1 462.9L409.2 462.9L410.7 462.9L412.8 462.9L414.8 456.6L414.9 456.6L414.9 459.7L415.0 459.7L415.0 450.2L415.1 462.9L415.1 428.2L415.2 459.7L415.2 447.1L415.3 456.6L415.3 450.2L415.4 459.7L415.4 456.6L415.5 462.9L415.5 459.7L415.6 462.9L415.7 462.9L415.7 453.4L415.8 453.4L415.8 459.7L415.9 456.6L415.9 443.9L415.9 462.9L416.0 459.7L416.0 459.7L416.1 453.4L416.1 456.6L416.2 456.6L416.2 459.7L416.3 459.7L416.3 459.7L416.4 453.4L416.4 462.9L416.5 450.2L416.5 453.4L416.6 459.7L416.6 453.4L416.7 459.7L416.7 459.7L416.8 462.9L416.8 450.2L416.9 447.1L416.9 425.1L416.9 456.6L417.0 450.2L417.0 440.8L417.1 443.9L417.1 453.4L417.2 450.2L417.2 447.1L417.3 447.1L417.3 440.8L417.4 447.1L417.4 447.1L417.5 450.2L417.5 450.2L417.6 456.6L417.6 459.7L417.7 453.4L417.8 443.9L417.8 434.5L417.9 453.4L417.9 459.7L417.9 415.6L418.0 428.2L418.0 456.6L418.1 456.6L418.1 447.1L418.2 431.4L418.2 440.8L418.3 437.6L418.3 443.9L418.4 453.4L418.4 434.5L418.5 459.7L418.5 462.9L418.6 459.7L418.6 443.9L418.7 437.6L418.7 459.7L418.8 450.2L418.8 443.9L418.9 431.4L418.9 459.7L418.9 396.7L419.0 434.5L419.0 459.7L419.1 425.1L419.1 453.4L419.2 443.9L419.2 450.2L419.3 443.9L419.3 450.2L419.4 459.7L419.4 456.6L419.5 456.6L419.5 456.6L419.6 425.1L419.6 450.2L419.7 459.7L419.7 453.4L419.8 453.4L419.9 456.6L419.9 437.6L420.0 377.8L420.0 355.8L420.0 264.4L420.0 440.8L420.0 456.6L420.1 450.2L420.1 428.2L420.2 415.6L420.2 431.4L420.3 456.6L420.3 447.1L420.4 447.1L420.4 447.1L420.5 459.7L420.5 459.7L420.6 443.9L420.6 450.2L420.7 453.4L420.7 456.6L420.8 403.0L420.8 459.7L420.9 431.4L420.9 437.6L421.0 450.2L421.0 462.9L421.1 459.7L421.1 453.4L421.2 450.2L421.2 434.5L421.3 447.1L421.3 450.2L421.4 456.6L421.4 437.6L421.5 418.8L421.5 437.6L421.6 431.4L421.6 462.9L421.7 456.6L421.7 459.7L421.8 450.2L421.8 453.4L421.9 459.7L422.0 450.2L422.0 462.9L422.1 456.6L422.1 450.2L422.2 453.4L422.2 443.9L422.3 450.2L422.3 450.2L422.4 456.6L422.4 456.6L422.5 437.6L422.5 453.4L422.6 456.6L422.6 440.8L422.7 456.6L422.7 459.7L422.8 459.7L422.8 453.4L422.9 456.6L422.9 459.7L423.0 447.1L423.0 440.8L423.1 456.6L423.1 450.2L423.2 447.1L423.2 459.7L423.3 443.9L423.3 462.9L423.4 437.6L423.4 456.6L423.5 456.6L423.5 459.7L423.6 453.4L423.6 437.6L423.7 453.4L423.7 431.4L423.8 437.6L423.8 443.9L423.9 456.6L423.9 450.2L424.0 456.6L424.1 390.4L424.1 443.9L424.1 456.6L424.2 443.9L424.2 456.6L424.3 456.6L424.3 453.4L424.4 440.8L424.4 443.9L424.5 440.8L424.5 459.7L424.6 459.7L424.6 462.9L424.7 462.9L424.7 447.1L424.8 456.6L424.9 462.9L425.0 462.9L425.5 462.9L425.7 462.9L425.8 462.9L426.0 462.9L426.1 462.9L426.3 462.9L426.4 462.9L426.4 462.9L426.6 462.9L426.6 459.7L426.7 456.6L426.7 456.6L426.8 440.8L426.8 409.3L426.9 462.9L426.9 456.6L427.0 447.1L427.0 450.2L427.1 453.4L427.1 447.1L427.2 453.4L427.2 456.6L427.3 437.6L427.3 425.1L427.4 456.6L427.4 453.4L427.5 459.7L427.5 450.2L427.6 459.7L427.6 459.7L427.7 447.1L427.7 440.8L427.8 462.9L427.8 443.9L427.9 462.9L427.9 456.6L428.0 459.7L428.0 440.8L428.1 453.4L428.1 453.4L428.2 437.6L428.3 440.8L428.3 447.1L428.4 450.2L428.4 453.4L428.5 456.6L428.5 453.4L428.6 447.1L428.6 428.2L428.7 447.1L428.7 459.7L428.8 462.9L428.8 450.2L428.9 428.2L428.9 447.1L429.0 456.6L429.0 456.6L429.1 453.4L429.1 456.6L429.2 403.0L429.2 440.8L429.2 456.6L429.3 450.2L429.3 403.0L429.4 462.9L429.4 459.7L429.5 456.6L429.5 456.6L429.6 440.8L429.6 450.2L429.7 459.7L429.7 456.6L429.8 462.9L429.8 437.6L429.9 447.1L429.9 453.4L430.0 437.6L430.0 447.1L430.1 431.4L430.1 459.7L430.2 459.7L430.2 462.9L430.3 437.6L430.4 459.7L430.4 453.4L430.5 453.4L430.5 459.7L430.6 440.8L430.6 456.6L430.7 453.4L430.7 421.9L430.8 425.1L430.8 459.7L430.9 443.9L430.9 450.2L431.0 447.1L431.0 462.9L431.1 453.4L431.1 462.9L431.2 453.4L431.2 443.9L431.3 453.4L431.3 459.7L431.4 428.2L431.4 456.6L431.5 462.9L431.5 450.2L431.6 443.9L431.6 453.4L431.7 453.4L431.7 399.9L431.7 459.7L431.8 440.8L431.8 456.6L431.9 459.7L431.9 456.6L432.0 453.4L432.0 440.8L432.1 450.2L432.1 459.7L432.2 443.9L432.2 453.4L432.3 459.7L432.3 453.4L432.4 450.2L432.5 443.9L432.5 459.7L432.6 447.1L432.6 437.6L432.7 456.6L432.7 437.6L432.8 409.3L432.8 450.2L432.8 450.2L432.9 456.6L432.9 450.2L433.0 434.5L433.0 431.4L433.1 437.6L433.1 450.2L433.2 450.2L433.2 453.4L433.3 443.9L433.3 459.7L433.4 459.7L433.4 453.4L433.5 450.2L433.5 440.8L433.6 456.6L433.6 453.4L433.7 456.6L433.7 456.6L433.8 450.2L433.8 428.2L433.9 453.4L433.9 456.6L434.0 450.2L434.0 437.6L434.1 447.1L434.1 428.2L434.2 437.6L434.2 440.8L434.3 447.1L434.3 462.9L434.4 459.7L434.4 459.7L434.5 453.4L434.6 456.6L434.6 456.6L434.7 459.7L434.7 459.7L434.8 443.9L434.8 456.6L434.9 421.9L434.9 453.4L435.0 456.6L435.0 447.1L435.1 418.8L435.1 443.9L435.2 450.2L435.2 437.6L435.3 456.6L435.3 396.7L435.3 450.2L435.4 456.6L435.4 437.6L435.5 450.2L435.5 434.5L435.6 412.4L435.6 415.6L435.7 453.4L435.7 440.8L435.8 462.9L435.8 456.6L435.9 447.1L435.9 443.9L436.0 462.9L436.0 453.4L436.1 453.4L436.1 456.6L436.2 462.9L436.2 456.6L436.3 374.6L436.3 428.2L436.4 431.4L436.4 453.4L436.5 459.7L436.5 453.4L436.6 450.2L436.7 443.9L436.7 421.9L436.8 447.1L436.8 456.6L436.9 443.9L436.9 453.4L437.0 450.2L437.0 447.1L437.1 456.6L437.1 447.1L437.2 443.9L437.2 456.6L437.3 443.9L437.3 459.7L437.4 456.6L437.4 453.4L437.5 462.9L437.5 447.1L437.6 453.4L437.6 443.9L437.7 431.4L437.7 459.7L437.8 450.2L437.8 456.6L437.9 450.2L437.9 409.3L437.9 462.9L438.0 462.9L438.0 437.6L438.1 462.9L438.1 450.2L438.2 459.7L438.2 434.5L438.3 462.9L438.3 450.2L438.4 462.9L438.4 453.4L438.5 453.4L438.5 456.6L438.6 456.6L438.6 434.5L438.7 450.2L438.8 456.6L438.8 456.6L438.9 453.4L438.9 443.9L439.0 443.9L439.0 450.2L439.1 459.7L439.1 453.4L439.2 453.4L439.2 453.4L439.3 456.6L439.3 456.6L439.4 447.1L439.4 459.7L439.4 368.4L439.4 330.6L439.5 428.2L439.5 450.2L439.6 443.9L439.6 453.4L439.7 447.1L439.7 462.9L439.8 447.1L439.8 459.7L439.9 440.8L439.9 456.6L439.9 374.6L440.0 434.5L440.0 462.9L440.1 456.6L440.1 450.2L440.2 456.6L440.2 450.2L440.3 456.6L440.3 437.6L440.4 428.2L440.4 456.6L440.5 462.9L440.5 450.2L440.6 450.2L440.6 434.5L440.7 459.7L440.7 437.6L440.8 459.7L440.9 456.6L440.9 443.9L441.0 456.6L441.0 447.1L441.1 453.4L441.1 443.9L441.2 456.6L441.2 428.2L441.3 440.8L441.3 462.9L441.4 453.4L441.4 443.9L441.5 453.4L441.5 456.6L441.6 431.4L441.6 450.2L441.7 459.7L441.7 440.8L441.8 403.0L441.8 453.4L441.9 456.6L441.9 431.4L442.0 453.4L442.0 456.6L442.1 453.4L442.1 459.7L442.2 440.8L442.2 440.8L442.3 453.4L442.3 462.9L442.4 450.2L442.4 456.6L442.5 450.2L442.5 450.2L442.6 456.6L442.6 456.6L442.7 453.4L442.7 453.4L442.8 431.4L442.8 447.1L442.9 450.2L443.0 437.6L443.0 456.6L443.0 390.4L443.1 443.9L443.1 459.7L443.2 459.7L443.2 459.7L443.3 447.1L443.3 434.5L443.4 456.6L443.4 450.2L443.5 456.6L443.5 453.4L443.6 450.2L443.6 447.1L443.7 456.6L443.7 443.9L443.8 459.7L443.8 456.6L443.9 447.1L443.9 447.1L444.0 450.2L444.0 440.8L444.1 431.4L444.1 450.2L444.2 450.2L444.2 462.9L444.3 440.8L444.3 462.9L444.4 440.8L444.4 453.4L444.5 459.7L444.5 450.2L444.5 396.7L444.6 456.6L444.6 453.4L444.7 459.7L444.7 462.9L444.8 443.9L444.8 443.9L444.9 459.7L444.9 447.1L445.0 459.7L445.1 450.2L445.1 447.1L445.2 456.6L445.2 456.6L445.3 456.6L445.3 453.4L445.4 447.1L445.4 450.2L445.5 459.7L445.5 462.9L445.6 450.2L445.6 459.7L445.7 459.7L445.7 418.8L445.8 453.4L445.8 456.6L445.9 434.5L445.9 443.9L446.0 434.5L446.0 453.4L446.1 459.7L446.1 248.7L446.1 459.7L446.2 447.1L446.2 453.4L446.3 450.2L446.3 456.6L446.4 456.6L446.4 462.9L446.5 403.0L446.5 453.4L446.6 459.7L446.6 415.6L446.7 453.4L446.7 443.9L446.8 459.7L446.8 462.9L446.9 459.7L446.9 456.6L447.0 450.2L447.0 453.4L447.1 434.5L447.2 459.7L447.2 456.6L447.3 453.4L447.3 447.1L447.4 443.9L447.4 453.4L447.5 456.6L447.5 456.6L447.6 440.8L447.6 443.9L447.7 459.7L447.7 456.6L447.8 443.9L447.8 428.2L447.9 456.6L447.9 440.8L448.0 450.2L448.0 456.6L448.1 456.6L448.1 453.4L448.1 387.2L448.2 437.6L448.2 453.4L448.3 440.8L448.3 462.9L448.4 462.9L448.4 459.7L448.5 440.8L448.5 459.7L448.6 440.8L448.6 453.4L448.7 437.6L448.7 456.6L448.8 450.2L448.8 437.6L448.9 443.9L448.9 447.1L449.0 456.6L449.0 462.9L449.1 443.9L449.1 421.9L449.2 421.9L449.3 453.4L449.3 456.6L449.4 456.6L449.4 443.9L449.5 459.7L449.5 447.1L449.6 456.6L449.6 443.9L449.7 443.9L449.7 368.4L449.7 450.2L449.8 456.6L449.8 462.9L449.9 440.8L449.9 443.9L450.0 450.2L450.0 462.9L450.1 431.4L450.1 462.9L450.2 428.2L450.2 453.4L450.3 450.2L450.3 431.4L450.4 459.7L450.4 434.5L450.5 443.9L450.5 434.5L450.6 431.4L450.6 453.4L450.7 453.4L450.7 456.6L450.8 456.6L450.8 456.6L450.9 440.8L450.9 453.4L451.0 450.2L451.0 447.1L451.1 453.4L451.1 462.9L451.2 459.7L451.2 368.4L451.2 462.9L451.3 456.6L451.4 459.7L451.4 462.9L451.5 462.9L451.5 456.6L451.6 453.4L451.6 428.2L451.7 459.7L451.7 453.4L451.8 447.1L451.8 450.2L451.9 453.4L451.9 459.7L452.0 459.7L452.0 447.1L452.1 459.7L452.1 453.4L452.2 459.7L452.2 450.2L452.3 440.8L452.3 459.7L452.4 431.4L452.4 440.8L452.5 456.6L452.5 459.7L452.6 462.9L452.6 459.7L452.7 450.2L452.7 450.2L452.8 456.6L452.8 447.1L452.9 459.7L452.9 459.7L453.0 450.2L453.0 456.6L453.1 453.4L453.1 453.4L453.2 459.7L453.2 456.6L453.2 409.3L453.3 456.6L453.3 440.8L453.4 450.2L453.5 456.6L453.5 450.2L453.6 453.4L453.6 462.9L453.7 450.2L453.7 459.7L453.8 447.1L453.8 453.4L453.9 447.1L453.9 453.4L454.0 431.4L454.0 443.9L454.1 453.4L454.1 434.5L454.2 456.6L454.2 453.4L454.3 459.7L454.3 459.7L454.4 456.6L454.4 431.4L454.5 456.6L454.5 443.9L454.6 443.9L454.6 453.4L454.7 456.6L454.7 434.5L454.8 453.4L454.8 459.7L454.9 459.7L454.9 425.1L455.0 440.8L455.0 453.4L455.1 447.1L455.1 456.6L455.2 462.9L455.2 453.4L455.3 453.4L455.3 459.7L455.4 447.1L455.4 459.7L455.5 456.6L455.6 462.9L455.6 459.7L455.7 440.8L455.7 447.1L455.8 440.8L455.8 434.5L455.8 399.9L455.9 440.8L455.9 456.6L456.0 459.7L456.0 459.7L456.1 440.8L456.1 440.8L456.2 447.1L456.2 453.4L456.3 447.1L456.3 459.7L456.4 453.4L456.4 459.7L456.5 443.9L456.5 462.9L456.6 459.7L456.6 453.4L456.7 453.4L456.7 428.2L456.8 443.9L456.8 459.7L456.9 453.4L456.9 453.4L457.0 462.9L457.0 447.1L457.1 459.7L457.1 434.5L457.2 459.7L457.2 462.9L457.3 431.4L457.3 453.4L457.4 462.9L457.4 462.9L457.5 453.4L457.5 456.6L457.6 459.7L457.7 443.9L457.7 456.6L457.8 440.8L457.8 456.6L457.9 453.4L457.9 443.9L458.0 456.6L458.0 450.2L458.1 459.7L458.1 453.4L458.2 456.6L458.2 462.9L458.3 447.1L458.3 453.4L458.4 459.7L458.4 399.9L458.4 447.1L458.5 462.9L458.5 453.4L458.6 456.6L458.6 440.8L458.7 447.1L458.7 447.1L458.8 428.2L458.8 443.9L458.9 453.4L458.9 443.9L459.0 453.4L459.0 462.9L459.1 459.7L459.1 459.7L459.2 443.9L459.2 453.4L459.3 453.4L459.3 462.9L459.4 453.4L459.4 459.7L459.5 450.2L459.5 456.6L459.6 453.4L459.6 447.1L459.7 459.7L459.8 453.4L459.8 456.6L459.9 456.6L459.9 459.7L460.0 459.7L460.0 450.2L460.1 459.7L460.1 462.9L460.2 462.9L460.2 456.6L460.3 437.6L460.3 459.7L460.4 453.4L460.4 453.4L460.5 459.7L460.5 406.1L460.6 456.6L460.6 450.2L460.7 450.2L460.7 456.6L460.8 425.1L460.8 462.9L460.9 456.6L460.9 450.2L460.9 403.0L461.0 456.6L461.0 459.7L461.1 434.5L461.1 456.6L461.2 456.6L461.2 456.6L461.3 428.2L461.3 456.6L461.4 453.4L461.4 447.1L461.5 456.6L461.5 453.4L461.6 453.4L461.6 462.9L461.7 456.6L461.7 459.7L461.8 462.9L461.9 456.6L461.9 456.6L462.0 450.2L462.0 459.7L462.1 459.7L462.1 418.8L462.2 447.1L462.2 443.9L462.3 453.4L462.3 443.9L462.4 459.7L462.4 453.4L462.5 456.6L462.5 399.9L462.6 459.7L462.6 456.6L462.7 443.9L462.7 459.7L462.8 443.9L462.8 459.7L462.9 462.9L462.9 453.4L463.0 437.6L463.0 459.7L463.1 456.6L463.1 453.4L463.2 456.6L463.2 437.6L463.3 453.4L463.3 443.9L463.4 421.9L463.4 450.2L463.5 456.6L463.5 412.4L463.5 456.6L463.6 462.9L463.6 456.6L463.7 453.4L463.7 434.5L463.8 453.4L463.8 450.2L463.9 462.9L464.0 450.2L464.0 456.6L464.1 453.4L464.1 447.1L464.2 431.4L464.2 456.6L464.3 456.6L464.3 456.6L464.4 453.4L464.4 440.8L464.5 456.6L464.5 456.6L464.6 425.1L464.6 437.6L464.7 440.8L464.7 453.4L464.8 459.7L464.8 453.4L464.9 456.6L464.9 431.4L465.0 431.4L465.0 447.1L465.1 459.7L465.1 453.4L465.2 453.4L465.2 453.4L465.3 453.4L465.3 447.1L465.4 450.2L465.4 453.4L465.5 440.8L465.5 443.9L465.6 450.2L465.6 456.6L465.7 403.0L465.7 459.7L465.8 453.4L465.8 447.1L465.9 443.9L465.9 456.6L466.0 462.9L466.1 443.9L466.1 421.9L466.2 462.9L466.2 447.1L466.3 459.7L466.3 462.9L466.3 387.2L466.4 453.4L466.4 453.4L466.5 459.7L466.5 447.1L466.6 443.9L466.6 456.6L466.7 447.1L466.7 428.2L466.8 453.4L466.8 453.4L466.9 447.1L466.9 453.4L467.0 456.6L467.0 447.1L467.1 447.1L467.1 321.1L467.1 453.4L467.2 447.1L467.2 437.6L467.3 453.4L467.3 456.6L467.4 459.7L467.4 450.2L467.5 434.5L467.5 443.9L467.6 459.7L467.6 270.7L467.6 459.7L467.7 453.4L467.7 462.9L467.8 456.6L467.8 462.9L467.9 462.9L467.9 456.6L468.0 453.4L468.0 450.2L468.1 453.4L468.2 456.6L468.2 450.2L468.3 462.9L468.3 447.1L468.4 456.6L468.4 462.9L468.5 459.7L468.5 450.2L468.6 456.6L468.6 450.2L468.7 456.6L468.7 462.9L468.8 447.1L468.8 459.7L468.9 450.2L468.9 459.7L469.0 453.4L469.0 459.7L469.1 459.7L469.1 459.7L470.7 462.9L471.2 440.8L473.4 462.9L476.1 462.9L477.5 462.9L479.2 462.9L481.2 462.9L483.3 462.9L484.0 456.6L484.5 462.9L486.0 462.9L488.0 462.9L490.7 462.9L492.7 453.4L493.5 462.9L495.0 462.9L496.3 462.9L498.8 462.9L499.8 462.9L501.9 459.7L502.7 462.9L505.5 462.9L508.3 462.9L509.4 462.9L511.6 443.9L512.2 380.9L512.4 462.9L513.9 462.9L516.7 462.9L518.1 462.9L519.9 462.9L521.5 462.9L522.4 459.7L522.8 462.9L524.1 462.9L525.0 459.7L526.6 462.9L527.5 434.5L528.5 462.9L529.8 462.9L532.0 462.9L534.7 462.9L536.3 462.9L538.4 462.9L540.2 462.9L541.7 462.9L543.7 462.9L545.0 462.9L545.4 456.6L547.0 462.9L550.0 462.9L551.3 462.9L553.1 459.7L554.1 462.9L555.6 462.9L558.6 462.9L560.7 462.9L562.4 462.9L563.4 459.7L565.2 462.9L567.3 462.9L568.4 462.9L569.5 459.7L570.8 462.9L572.7 462.9L575.2 462.9L578.3 462.9L579.8 462.9L580.9 462.9L582.9 462.9L583.9 459.7L585.1 462.9L588.1 462.9L589.0 459.7L589.6 462.9L591.6 462.9L593.4 462.9L594.1 453.4L594.6 459.7L596.1 462.9L598.9 462.9L600.7 462.9L603.7 462.9L604.8 462.9L606.4 462.9L606.9 453.4L607.4 459.7L607.4 462.9L609.0 462.9L611.9 462.9L614.9 462.9L617.2 434.5L617.2 462.9L618.2 459.7L619.4 462.9L621.4 462.9L622.3 456.6L623.2 462.9L625.3 462.9L627.4 459.7L627.6 462.9L629.0 462.9L631.8 462.9L634.2 462.9L637.0 462.9L638.5 462.9L640.5 462.9L642.8 462.9L643.0 462.9L645.7 462.9L647.4 462.9L647.9 462.9" stroke="#2f5da8" stroke-opacity="0.75" stroke-width="0.5" fill="none"/>
<path d="M389.2 462.9h0M389.7 462.9h0M390.8 462.9h0M392.3 462.9h0M393.8 462.9h0M395.4 462.9h0M396.4 459.7h0M396.9 462.9h0M398.4 462.9h0M400.0 462.9h0M402.0 462.9h0M403.6 462.9h0M404.6 459.7h0M405.6 462.9h0M407.1 462.9h0M409.2 462.9h0M410.7 462.9h0M412.8 462.9h0M414.8 456.6h0M414.9 456.6h0M414.9 459.7h0M415.0 459.7h0M415.0 450.2h0M415.1 462.9h0M415.1 428.2h0M415.2 459.7h0M415.2 447.1h0M415.3 456.6h0M415.3 450.2h0M415.4 459.7h0M415.4 456.6h0M415.5 462.9h0M415.5 459.7h0M415.6 462.9h0M415.7 462.9h0M415.7 453.4h0M415.8 453.4h0M415.8 459.7h0M415.9 456.6h0M415.9 443.9h0M415.9 462.9h0M416.0 459.7h0M416.0 459.7h0M416.1 453.4h0M416.1 456.6h0M416.2 456.6h0M416.2 459.7h0M416.3 459.7h0M416.3 459.7h0M416.4 453.4h0M416.4 462.9h0M416.5 450.2h0M416.5 453.4h0M416.6 459.7h0M416.6 453.4h0M416.7 459.7h0M416.7 459.7h0M416.8 462.9h0M416.8 450.2h0M416.9 447.1h0M416.9 425.1h0M416.9 456.6h0M417.0 450.2h0M417.0 440.8h0M417.1 443.9h0M417.1 453.4h0M417.2 450.2h0M417.2 447.1h0M417.3 447.1h0M417.3 440.8h0M417.4 447.1h0M417.4 447.1h0M417.5 450.2h0M417.5 450.2h0M417.6 456.6h0M417.6 459.7h0M417.7 453.4h0M417.8 443.9h0M417.8 434.5h0M417.9 453.4h0M417.9 459.7h0M417.9 415.6h0M418.0 428.2h0M418.0 456.6h0M418.1 456.6h0M418.1 447.1h0M418.2 431.4h0M418.2 440.8h0M418.3 437.6h0M418.3 443.9h0M418.4 453.4h0M418.4 434.5h0M418.5 459.7h0M418.5 462.9h0M418.6 459.7h0M418.6 443.9h0M418.7 437.6h0M418.7 459.7h0M418.8 450.2h0M418.8 443.9h0M418.9 431.4h0M418.9 459.7h0M418.9 396.7h0M419.0 434.5h0M419.0 459.7h0M419.1 425.1h0M419.1 453.4h0M419.2 443.9h0M419.2 450.2h0M419.3 443.9h0M419.3 450.2h0M419.4 459.7h0M419.4 456.6h0M419.5 456.6h0M419.5 456.6h0M419.6 425.1h0M419.6 450.2h0M419.7 459.7h0M419.7 453.4h0M419.8 453.4h0M419.9 456.6h0M419.9 437.6h0M420.0 377.8h0M420.0 355.8h0M420.0 264.4h0M420.0 440.8h0M420.0 456.6h0M420.1 450.2h0M420.1 428.2h0M420.2 415.6h0M420.2 431.4h0M420.3 456.6h0M420.3 447.1h0M420.4 447.1h0M420.4 447.1h0M420.5 459.7h0M420.5 459.7h0M420.6 443.9h0M420.6 450.2h0M420.7 453.4h0M420.7 456.6h0M420.8 403.0h0M420.8 459.7h0M420.9 431.4h0M420.9 437.6h0M421.0 450.2h0M421.0 462.9h0M421.1 459.7h0M421.1 453.4h0M421.2 450.2h0M421.2 434.5h0M421.3 447.1h0M421.3 450.2h0M421.4 456.6h0M421.4 437.6h0M421.5 418.8h0M421.5 437.6h0M421.6 431.4h0M421.6 462.9h0M421.7 456.6h0M421.7 459.7h0M421.8 450.2h0M421.8 453.4h0M421.9 459.7h0M422.0 450.2h0M422.0 462.9h0M422.1 456.6h0M422.1 450.2h0M422.2 453.4h0M422.2 443.9h0M422.3 450.2h0M422.3 450.2h0M422.4 456.6h0M422.4 456.6h0M422.5 437.6h0M422.5 453.4h0M422.6 456.6h0M422.6 440.8h0M422.7 456.6h0M422.7 459.7h0M422.8 459.7h0M422.8 453.4h0M422.9 456.6h0M422.9 459.7h0M423.0 447.1h0M423.0 440.8h0M423.1 456.6h0M423.1 450.2h0M423.2 447.1h0M423.2 459.7h0M423.3 443.9h0M423.3 462.9h0M423.4 437.6h0M423.4 456.6h0M423.5 456.6h0M423.5 459.7h0M423.6 453.4h0M423.6 437.6h0M423.7 453.4h0M423.7 431.4h0M423.8 437.6h0M423.8 443.9h0M423.9 456.6h0M423.9 450.2h0M424.0 456.6h0M424.1 390.4h0M424.1 443.9h0M424.1 456.6h0M424.2 443.9h0M424.2 456.6h0M424.3 456.6h0M424.3 453.4h0M424.4 440.8h0M424.4 443.9h0M424.5 440.8h0M424.5 459.7h0M424.6 459.7h0M424.6 462.9h0M424.7 462.9h0M424.7 447.1h0M424.8 456.6h0M424.9 462.9h0M425.0 462.9h0M425.5 462.9h0M425.7 462.9h0M425.8 462.9h0M426.0 462.9h0M426.1 462.9h0M426.3 462.9h0M426.4 462.9h0M426.4 462.9h0M426.6 462.9h0M426.6 459.7h0M426.7 456.6h0M426.7 456.6h0M426.8 440.8h0M426.8 409.3h0M426.9 462.9h0M426.9 456.6h0M427.0 447.1h0M427.0 450.2h0M427.1 453.4h0M427.1 447.1h0M427.2 453.4h0M427.2 456.6h0M427.3 437.6h0M427.3 425.1h0M427.4 456.6h0M427.4 453.4h0M427.5 459.7h0M427.5 450.2h0M427.6 459.7h0M427.6 459.7h0M427.7 447.1h0M427.7 440.8h0M427.8 462.9h0M427.8 443.9h0M427.9 462.9h0M427.9 456.6h0M428.0 459.7h0M428.0 440.8h0M428.1 453.4h0M428.1 453.4h0M428.2 437.6h0M428.3 440.8h0M428.3 447.1h0M428.4 450.2h0M428.4 453.4h0M428.5 456.6h0M428.5 453.4h0M428.6 447.1h0M428.6 428.2h0M428.7 447.1h0M428.7 459.7h0M428.8 462.9h0M428.8 450.2h0M428.9 428.2h0M428.9 447.1h0M429.0 456.6h0M429.0 456.6h0M429.1 453.4h0M429.1 456.6h0M429.2 403.0h0M429.2 440.8h0M429.2 456.6h0M429.3 450.2h0M429.3 403.0h0M429.4 462.9h0M429.4 459.7h0M429.5 456.6h0M429.5 456.6h0M429.6 440.8h0M429.6 450.2h0M429.7 459.7h0M429.7 456.6h0M429.8 462.9h0M429.8 437.6h0M429.9 447.1h0M429.9 453.4h0M430.0 437.6h0M430.0 447.1h0M430.1 431.4h0M430.1 459.7h0M430.2 459.7h0M430.2 462.9h0M430.3 437.6h0M430.4 459.7h0M430.4 453.4h0M430.5 453.4h0M430.5 459.7h0M430.6 440.8h0M430.6 456.6h0M430.7 453.4h0M430.7 421.9h0M430.8 425.1h0M430.8 459.7h0M430.9 443.9h0M430.9 450.2h0M431.0 447.1h0M431.0 462.9h0M431.1 453.4h0M431.1 462.9h0M431.2 453.4h0M431.2 443.9h0M431.3 453.4h0M431.3 459.7h0M431.4 428.2h0M431.4 456.6h0M431.5 462.9h0M431.5 450.2h0M431.6 443.9h0M431.6 453.4h0M431.7 453.4h0M431.7 399.9h0M431.7 459.7h0M431.8 440.8h0M431.8 456.6h0M431.9 459.7h0M431.9 456.6h0M432.0 453.4h0M432.0 440.8h0M432.1 450.2h0M432.1 459.7h0M432.2 443.9h0M432.2 453.4h0M432.3 459.7h0M432.3 453.4h0M432.4 450.2h0M432.5 443.9h0M432.5 459.7h0M432.6 447.1h0M432.6 437.6h0M432.7 456.6h0M432.7 437.6h0M432.8 409.3h0M432.8 450.2h0M432.8 450.2h0M432.9 456.6h0M432.9 450.2h0M433.0 434.5h0M433.0 431.4h0M433.1 437.6h0M433.1 450.2h0M433.2 450.2h0M433.2 453.4h0M433.3 443.9h0M433.3 459.7h0M433.4 459.7h0M433.4 453.4h0M433.5 450.2h0M433.5 440.8h0M433.6 456.6h0M433.6 453.4h0M433.7 456.6h0M433.7 456.6h0M433.8 450.2h0M433.8 428.2h0M433.9 453.4h0M433.9 456.6h0M434.0 450.2h0M434.0 437.6h0M434.1 447.1h0M434.1 428.2h0M434.2 437.6h0M434.2 440.8h0M434.3 447.1h0M434.3 462.9h0M434.4 459.7h0M434.4 459.7h0M434.5 453.4h0M434.6 456.6h0M434.6 456.6h0M434.7 459.7h0M434.7 459.7h0M434.8 443.9h0M434.8 456.6h0M434.9 421.9h0M434.9 453.4h0M435.0 456.6h0M435.0 447.1h0M435.1 418.8h0M435.1 443.9h0M435.2 450.2h0M435.2 437.6h0M435.3 456.6h0M435.3 396.7h0M435.3 450.2h0M435.4 456.6h0M435.4 437.6h0M435.5 450.2h0M435.5 434.5h0M435.6 412.4h0M435.6 415.6h0M435.7 453.4h0M435.7 440.8h0M435.8 462.9h0M435.8 456.6h0M435.9 447.1h0M435.9 443.9h0M436.0 462.9h0M436.0 453.4h0M436.1 453.4h0M436.1 456.6h0M436.2 462.9h0M436.2 456.6h0M436.3 374.6h0M436.3 428.2h0M436.4 431.4h0M436.4 453.4h0M436.5 459.7h0M436.5 453.4h0M436.6 450.2h0M436.7 443.9h0M436.7 421.9h0M436.8 447.1h0M436.8 456.6h0M436.9 443.9h0M436.9 453.4h0M437.0 450.2h0M437.0 447.1h0M437.1 456.6h0M437.1 447.1h0M437.2 443.9h0M437.2 456.6h0M437.3 443.9h0M437.3 459.7h0M437.4 456.6h0M437.4 453.4h0M437.5 462.9h0M437.5 447.1h0M437.6 453.4h0M437.6 443.9h0M437.7 431.4h0M437.7 459.7h0M437.8 450.2h0M437.8 456.6h0M437.9 450.2h0M437.9 409.3h0M437.9 462.9h0M438.0 462.9h0M438.0 437.6h0M438.1 462.9h0M438.1 450.2h0M438.2 459.7h0M438.2 434.5h0M438.3 462.9h0M438.3 450.2h0M438.4 462.9h0M438.4 453.4h0M438.5 453.4h0M438.5 456.6h0M438.6 456.6h0M438.6 434.5h0M438.7 450.2h0M438.8 456.6h0M438.8 456.6h0M438.9 453.4h0M438.9 443.9h0M439.0 443.9h0M439.0 450.2h0M439.1 459.7h0M439.1 453.4h0M439.2 453.4h0M439.2 453.4h0M439.3 456.6h0M439.3 456.6h0M439.4 447.1h0M439.4 459.7h0M439.4 368.4h0M439.4 330.6h0M439.5 428.2h0M439.5 450.2h0M439.6 443.9h0M439.6 453.4h0M439.7 447.1h0M439.7 462.9h0M439.8 447.1h0M439.8 459.7h0M439.9 440.8h0M439.9 456.6h0M439.9 374.6h0M440.0 434.5h0M440.0 462.9h0M440.1 456.6h0M440.1 450.2h0M440.2 456.6h0M440.2 450.2h0M440.3 456.6h0M440.3 437.6h0M440.4 428.2h0M440.4 456.6h0M440.5 462.9h0M440.5 450.2h0M440.6 450.2h0M440.6 434.5h0M440.7 459.7h0M440.7 437.6h0M440.8 459.7h0M440.9 456.6h0M440.9 443.9h0M441.0 456.6h0M441.0 447.1h0M441.1 453.4h0M441.1 443.9h0M441.2 456.6h0M441.2 428.2h0M441.3 440.8h0M441.3 462.9h0M441.4 453.4h0M441.4 443.9h0M441.5 453.4h0M441.5 456.6h0M441.6 431.4h0M441.6 450.2h0M441.7 459.7h0M441.7 440.8h0M441.8 403.0h0M441.8 453.4h0M441.9 456.6h0M441.9 431.4h0M442.0 453.4h0M442.0 456.6h0M442.1 453.4h0M442.1 459.7h0M442.2 440.8h0M442.2 440.8h0M442.3 453.4h0M442.3 462.9h0M442.4 450.2h0M442.4 456.6h0M442.5 450.2h0M442.5 450.2h0M442.6 456.6h0M442.6 456.6h0M442.7 453.4h0M442.7 453.4h0M442.8 431.4h0M442.8 447.1h0M442.9 450.2h0M443.0 437.6h0M443.0 456.6h0M443.0 390.4h0M443.1 443.9h0M443.1 459.7h0M443.2 459.7h0M443.2 459.7h0M443.3 447.1h0M443.3 434.5h0M443.4 456.6h0M443.4 450.2h0M443.5 456.6h0M443.5 453.4h0M443.6 450.2h0M443.6 447.1h0M443.7 456.6h0M443.7 443.9h0M443.8 459.7h0M443.8 456.6h0M443.9 447.1h0M443.9 447.1h0M444.0 450.2h0M444.0 440.8h0M444.1 431.4h0M444.1 450.2h0M444.2 450.2h0M444.2 462.9h0M444.3 440.8h0M444.3 462.9h0M444.4 440.8h0M444.4 453.4h0M444.5 459.7h0M444.5 450.2h0M444.5 396.7h0M444.6 456.6h0M444.6 453.4h0M444.7 459.7h0M444.7 462.9h0M444.8 443.9h0M444.8 443.9h0M444.9 459.7h0M444.9 447.1h0M445.0 459.7h0M445.1 450.2h0M445.1 447.1h0M445.2 456.6h0M445.2 456.6h0M445.3 456.6h0M445.3 453.4h0M445.4 447.1h0M445.4 450.2h0M445.5 459.7h0M445.5 462.9h0M445.6 450.2h0M445.6 459.7h0M445.7 459.7h0M445.7 418.8h0M445.8 453.4h0M445.8 456.6h0M445.9 434.5h0M445.9 443.9h0M446.0 434.5h0M446.0 453.4h0M446.1 459.7h0M446.1 248.7h0M446.1 459.7h0M446.2 447.1h0M446.2 453.4h0M446.3 450.2h0M446.3 456.6h0M446.4 456.6h0M446.4 462.9h0M446.5 403.0h0M446.5 453.4h0M446.6 459.7h0M446.6 415.6h0M446.7 453.4h0M446.7 443.9h0M446.8 459.7h0M446.8 462.9h0M446.9 459.7h0M446.9 456.6h0M447.0 450.2h0M447.0 453.4h0M447.1 434.5h0M447.2 459.7h0M447.2 456.6h0M447.3 453.4h0M447.3 447.1h0M447.4 443.9h0M447.4 453.4h0M447.5 456.6h0M447.5 456.6h0M447.6 440.8h0M447.6 443.9h0M447.7 459.7h0M447.7 456.6h0M447.8 443.9h0M447.8 428.2h0M447.9 456.6h0M447.9 440.8h0M448.0 450.2h0M448.0 456.6h0M448.1 456.6h0M448.1 453.4h0M448.1 387.2h0M448.2 437.6h0M448.2 453.4h0M448.3 440.8h0M448.3 462.9h0M448.4 462.9h0M448.4 459.7h0M448.5 440.8h0M448.5 459.7h0M448.6 440.8h0M448.6 453.4h0M448.7 437.6h0M448.7 456.6h0M448.8 450.2h0M448.8 437.6h0M448.9 443.9h0M448.9 447.1h0M449.0 456.6h0M449.0 462.9h0M449.1 443.9h0M449.1 421.9h0M449.2 421.9h0M449.3 453.4h0M449.3 456.6h0M449.4 456.6h0M449.4 443.9h0M449.5 459.7h0M449.5 447.1h0M449.6 456.6h0M449.6 443.9h0M449.7 443.9h0M449.7 368.4h0M449.7 450.2h0M449.8 456.6h0M449.8 462.9h0M449.9 440.8h0M449.9 443.9h0M450.0 450.2h0M450.0 462.9h0M450.1 431.4h0M450.1 462.9h0M450.2 428.2h0M450.2 453.4h0M450.3 450.2h0M450.3 431.4h0M450.4 459.7h0M450.4 434.5h0M450.5 443.9h0M450.5 434.5h0M450.6 431.4h0M450.6 453.4h0M450.7 453.4h0M450.7 456.6h0M450.8 456.6h0M450.8 456.6h0M450.9 440.8h0M450.9 453.4h0M451.0 450.2h0M451.0 447.1h0M451.1 453.4h0M451.1 462.9h0M451.2 459.7h0M451.2 368.4h0M451.2 462.9h0M451.3 456.6h0M451.4 459.7h0M451.4 462.9h0M451.5 462.9h0M451.5 456.6h0M451.6 453.4h0M451.6 428.2h0M451.7 459.7h0M451.7 453.4h0M451.8 447.1h0M451.8 450.2h0M451.9 453.4h0M451.9 459.7h0M452.0 459.7h0M452.0 447.1h0M452.1 459.7h0M452.1 453.4h0M452.2 459.7h0M452.2 450.2h0M452.3 440.8h0M452.3 459.7h0M452.4 431.4h0M452.4 440.8h0M452.5 456.6h0M452.5 459.7h0M452.6 462.9h0M452.6 459.7h0M452.7 450.2h0M452.7 450.2h0M452.8 456.6h0M452.8 447.1h0M452.9 459.7h0M452.9 459.7h0M453.0 450.2h0M453.0 456.6h0M453.1 453.4h0M453.1 453.4h0M453.2 459.7h0M453.2 456.6h0M453.2 409.3h0M453.3 456.6h0M453.3 440.8h0M453.4 450.2h0M453.5 456.6h0M453.5 450.2h0M453.6 453.4h0M453.6 462.9h0M453.7 450.2h0M453.7 459.7h0M453.8 447.1h0M453.8 453.4h0M453.9 447.1h0M453.9 453.4h0M454.0 431.4h0M454.0 443.9h0M454.1 453.4h0M454.1 434.5h0M454.2 456.6h0M454.2 453.4h0M454.3 459.7h0M454.3 459.7h0M454.4 456.6h0M454.4 431.4h0M454.5 456.6h0M454.5 443.9h0M454.6 443.9h0M454.6 453.4h0M454.7 456.6h0M454.7 434.5h0M454.8 453.4h0M454.8 459.7h0M454.9 459.7h0M454.9 425.1h0M455.0 440.8h0M455.0 453.4h0M455.1 447.1h0M455.1 456.6h0M455.2 462.9h0M455.2 453.4h0M455.3 453.4h0M455.3 459.7h0M455.4 447.1h0M455.4 459.7h0M455.5 456.6h0M455.6 462.9h0M455.6 459.7h0M455.7 440.8h0M455.7 447.1h0M455.8 440.8h0M455.8 434.5h0M455.8 399.9h0M455.9 440.8h0M455.9 456.6h0M456.0 459.7h0M456.0 459.7h0M456.1 440.8h0M456.1 440.8h0M456.2 447.1h0M456.2 453.4h0M456.3 447.1h0M456.3 459.7h0M456.4 453.4h0M456.4 459.7h0M456.5 443.9h0M456.5 462.9h0M456.6 459.7h0M456.6 453.4h0M456.7 453.4h0M456.7 428.2h0M456.8 443.9h0M456.8 459.7h0M456.9 453.4h0M456.9 453.4h0M457.0 462.9h0M457.0 447.1h0M457.1 459.7h0M457.1 434.5h0M457.2 459.7h0M457.2 462.9h0M457.3 431.4h0M457.3 453.4h0M457.4 462.9h0M457.4 462.9h0M457.5 453.4h0M457.5 456.6h0M457.6 459.7h0M457.7 443.9h0M457.7 456.6h0M457.8 440.8h0M457.8 456.6h0M457.9 453.4h0M457.9 443.9h0M458.0 456.6h0M458.0 450.2h0M458.1 459.7h0M458.1 453.4h0M458.2 456.6h0M458.2 462.9h0M458.3 447.1h0M458.3 453.4h0M458.4 459.7h0M458.4 399.9h0M458.4 447.1h0M458.5 462.9h0M458.5 453.4h0M458.6 456.6h0M458.6 440.8h0M458.7 447.1h0M458.7 447.1h0M458.8 428.2h0M458.8 443.9h0M458.9 453.4h0M458.9 443.9h0M459.0 453.4h0M459.0 462.9h0M459.1 459.7h0M459.1 459.7h0M459.2 443.9h0M459.2 453.4h0M459.3 453.4h0M459.3 462.9h0M459.4 453.4h0M459.4 459.7h0M459.5 450.2h0M459.5 456.6h0M459.6 453.4h0M459.6 447.1h0M459.7 459.7h0M459.8 453.4h0M459.8 456.6h0M459.9 456.6h0M459.9 459.7h0M460.0 459.7h0M460.0 450.2h0M460.1 459.7h0M460.1 462.9h0M460.2 462.9h0M460.2 456.6h0M460.3 437.6h0M460.3 459.7h0M460.4 453.4h0M460.4 453.4h0M460.5 459.7h0M460.5 406.1h0M460.6 456.6h0M460.6 450.2h0M460.7 450.2h0M460.7 456.6h0M460.8 425.1h0M460.8 462.9h0M460.9 456.6h0M460.9 450.2h0M460.9 403.0h0M461.0 456.6h0M461.0 459.7h0M461.1 434.5h0M461.1 456.6h0M461.2 456.6h0M461.2 456.6h0M461.3 428.2h0M461.3 456.6h0M461.4 453.4h0M461.4 447.1h0M461.5 456.6h0M461.5 453.4h0M461.6 453.4h0M461.6 462.9h0M461.7 456.6h0M461.7 459.7h0M461.8 462.9h0M461.9 456.6h0M461.9 456.6h0M462.0 450.2h0M462.0 459.7h0M462.1 459.7h0M462.1 418.8h0M462.2 447.1h0M462.2 443.9h0M462.3 453.4h0M462.3 443.9h0M462.4 459.7h0M462.4 453.4h0M462.5 456.6h0M462.5 399.9h0M462.6 459.7h0M462.6 456.6h0M462.7 443.9h0M462.7 459.7h0M462.8 443.9h0M462.8 459.7h0M462.9 462.9h0M462.9 453.4h0M463.0 437.6h0M463.0 459.7h0M463.1 456.6h0M463.1 453.4h0M463.2 456.6h0M463.2 437.6h0M463.3 453.4h0M463.3 443.9h0M463.4 421.9h0M463.4 450.2h0M463.5 456.6h0M463.5 412.4h0M463.5 456.6h0M463.6 462.9h0M463.6 456.6h0M463.7 453.4h0M463.7 434.5h0M463.8 453.4h0M463.8 450.2h0M463.9 462.9h0M464.0 450.2h0M464.0 456.6h0M464.1 453.4h0M464.1 447.1h0M464.2 431.4h0M464.2 456.6h0M464.3 456.6h0M464.3 456.6h0M464.4 453.4h0M464.4 440.8h0M464.5 456.6h0M464.5 456.6h0M464.6 425.1h0M464.6 437.6h0M464.7 440.8h0M464.7 453.4h0M464.8 459.7h0M464.8 453.4h0M464.9 456.6h0M464.9 431.4h0M465.0 431.4h0M465.0 447.1h0M465.1 459.7h0M465.1 453.4h0M465.2 453.4h0M465.2 453.4h0M465.3 453.4h0M465.3 447.1h0M465.4 450.2h0M465.4 453.4h0M465.5 440.8h0M465.5 443.9h0M465.6 450.2h0M465.6 456.6h0M465.7 403.0h0M465.7 459.7h0M465.8 453.4h0M465.8 447.1h0M465.9 443.9h0M465.9 456.6h0M466.0 462.9h0M466.1 443.9h0M466.1 421.9h0M466.2 462.9h0M466.2 447.1h0M466.3 459.7h0M466.3 462.9h0M466.3 387.2h0M466.4 453.4h0M466.4 453.4h0M466.5 459.7h0M466.5 447.1h0M466.6 443.9h0M466.6 456.6h0M466.7 447.1h0M466.7 428.2h0M466.8 453.4h0M466.8 453.4h0M466.9 447.1h0M466.9 453.4h0M467.0 456.6h0M467.0 447.1h0M467.1 447.1h0M467.1 321.1h0M467.1 453.4h0M467.2 447.1h0M467.2 437.6h0M467.3 453.4h0M467.3 456.6h0M467.4 459.7h0M467.4 450.2h0M467.5 434.5h0M467.5 443.9h0M467.6 459.7h0M467.6 270.7h0M467.6 459.7h0M467.7 453.4h0M467.7 462.9h0M467.8 456.6h0M467.8 462.9h0M467.9 462.9h0M467.9 456.6h0M468.0 453.4h0M468.0 450.2h0M468.1 453.4h0M468.2 456.6h0M468.2 450.2h0M468.3 462.9h0M468.3 447.1h0M468.4 456.6h0M468.4 462.9h0M468.5 459.7h0M468.5 450.2h0M468.6 456.6h0M468.6 450.2h0M468.7 456.6h0M468.7 462.9h0M468.8 447.1h0M468.8 459.7h0M468.9 450.2h0M468.9 459.7h0M469.0 453.4h0M469.0 459.7h0M469.1 459.7h0M469.1 459.7h0M470.7 462.9h0M471.2 440.8h0M473.4 462.9h0M476.1 462.9h0M477.5 462.9h0M479.2 462.9h0M481.2 462.9h0M483.3 462.9h0M484.0 456.6h0M484.5 462.9h0M486.0 462.9h0M488.0 462.9h0M490.7 462.9h0M492.7 453.4h0M493.5 462.9h0M495.0 462.9h0M496.3 462.9h0M498.8 462.9h0M499.8 462.9h0M501.9 459.7h0M502.7 462.9h0M505.5 462.9h0M508.3 462.9h0M509.4 462.9h0M511.6 443.9h0M512.2 380.9h0M512.4 462.9h0M513.9 462.9h0M516.7 462.9h0M518.1 462.9h0M519.9 462.9h0M521.5 462.9h0M522.4 459.7h0M522.8 462.9h0M524.1 462.9h0M525.0 459.7h0M526.6 462.9h0M527.5 434.5h0M528.5 462.9h0M529.8 462.9h0M532.0 462.9h0M534.7 462.9h0M536.3 462.9h0M538.4 462.9h0M540.2 462.9h0M541.7 462.9h0M543.7 462.9h0M545.0 462.9h0M545.4 456.6h0M547.0 462.9h0M550.0 462.9h0M551.3 462.9h0M553.1 459.7h0M554.1 462.9h0M555.6 462.9h0M558.6 462.9h0M560.7 462.9h0M562.4 462.9h0M563.4 459.7h0M565.2 462.9h0M567.3 462.9h0M568.4 462.9h0M569.5 459.7h0M570.8 462.9h0M572.7 462.9h0M575.2 462.9h0M578.3 462.9h0M579.8 462.9h0M580.9 462.9h0M582.9 462.9h0M583.9 459.7h0M585.1 462.9h0M588.1 462.9h0M589.0 459.7h0M589.6 462.9h0M591.6 462.9h0M593.4 462.9h0M594.1 453.4h0M594.6 459.7h0M596.1 462.9h0M598.9 462.9h0M600.7 462.9h0M603.7 462.9h0M604.8 462.9h0M606.4 462.9h0M606.9 453.4h0M607.4 459.7h0M607.4 462.9h0M609.0 462.9h0M611.9 462.9h0M614.9 462.9h0M617.2 434.5h0M617.2 462.9h0M618.2 459.7h0M619.4 462.9h0M621.4 462.9h0M622.3 456.6h0M623.2 462.9h0M625.3 462.9h0M627.4 459.7h0M627.6 462.9h0M629.0 462.9h0M631.8 462.9h0M634.2 462.9h0M637.0 462.9h0M638.5 462.9h0M640.5 462.9h0M642.8 462.9h0M643.0 462.9h0M645.7 462.9h0M647.4 462.9h0M647.9 462.9h0" stroke="#1766a3" stroke-width="3.1" stroke-linecap="round" fill="none"/>
<text x="331.70" y="508.80" font-size="8.3" fill="#222" text-anchor="start" >(F)</text>
<path d="M376.3 512.4H660.8V756.0" stroke="#a8a8a8" stroke-width="0.9" fill="none"/><path d="M376.3 512.4V756.0H660.8" stroke="#555" stroke-width="0.9" fill="none"/>
<text x="371.80" y="749.80" font-size="8.3" fill="#555" text-anchor="end" >0</text>
<text x="371.80" y="696.50" font-size="8.3" fill="#555" text-anchor="end" >50</text>
<text x="371.80" y="643.20" font-size="8.3" fill="#555" text-anchor="end" >100</text>
<text x="371.80" y="589.90" font-size="8.3" fill="#555" text-anchor="end" >150</text>
<text x="371.80" y="536.60" font-size="8.3" fill="#555" text-anchor="end" >200</text>
<text x="389.20" y="769.00" font-size="8.3" fill="#555" text-anchor="middle" >0</text>
<text x="439.30" y="769.00" font-size="8.3" fill="#555" text-anchor="middle" >1</text>
<text x="489.40" y="769.00" font-size="8.3" fill="#555" text-anchor="middle" >2</text>
<text x="539.50" y="769.00" font-size="8.3" fill="#555" text-anchor="middle" >3</text>
<text x="589.60" y="769.00" font-size="8.3" fill="#555" text-anchor="middle" >4</text>
<text x="639.70" y="769.00" font-size="8.3" fill="#555" text-anchor="middle" >5</text>
<text x="516.00" y="782.70" font-size="8.3" fill="#333" text-anchor="middle" >Genome Position (Mb)</text>
<text x="355.59" y="643.80" font-size="8.3" fill="#333" text-anchor="middle" transform="rotate(-90 355.59 643.80)">Number of SNPs per 1000 bp</text>
<path d="M389.2 741.5L389.3 743.6L389.3 742.5L389.4 742.5L389.4 744.7L389.5 744.7L389.5 736.1L389.6 744.7L389.6 740.4L389.7 740.4L389.7 744.7L389.8 728.7L389.8 743.6L389.9 744.7L389.9 744.7L390.0 743.6L390.0 743.6L390.1 743.6L390.1 744.7L390.2 742.5L390.2 743.6L390.3 743.6L390.3 742.5L390.4 744.7L390.4 740.4L390.5 741.5L390.5 742.5L390.6 724.4L390.6 741.5L390.7 743.6L390.7 745.7L390.8 744.7L390.8 738.3L390.9 741.5L390.9 742.5L391.0 728.7L391.0 740.4L391.1 742.5L391.1 742.5L391.2 738.3L391.2 744.7L391.3 732.9L391.3 737.2L391.4 736.1L391.4 734.0L391.5 739.3L391.5 741.5L391.6 738.3L391.6 742.5L391.7 737.2L391.7 723.3L391.7 740.4L391.8 730.8L391.8 737.2L391.9 743.6L391.9 737.2L392.0 734.0L392.0 745.7L392.1 738.3L392.1 738.3L392.2 744.7L392.2 741.5L392.3 739.3L392.3 745.7L392.4 741.5L392.4 742.5L392.5 744.7L392.5 739.3L392.6 741.5L392.6 742.5L392.7 739.3L392.7 738.3L392.8 739.3L392.8 738.3L392.9 741.5L392.9 739.3L393.0 740.4L393.0 742.5L393.1 738.3L393.1 720.1L393.2 739.3L393.2 745.7L393.3 736.1L393.3 728.7L393.4 742.5L393.4 742.5L393.5 739.3L393.5 737.2L393.6 731.9L393.6 728.7L393.7 737.2L393.7 741.5L393.8 745.7L393.8 738.3L393.9 744.7L393.9 724.4L394.0 743.6L394.0 736.1L394.1 738.3L394.1 744.7L394.2 744.7L394.2 738.3L394.3 737.2L394.3 739.3L394.4 744.7L394.4 742.5L394.5 744.7L394.5 737.2L394.6 739.3L394.6 743.6L394.7 730.8L394.7 744.7L394.8 744.7L394.8 725.5L394.9 741.5L394.9 741.5L395.0 744.7L395.0 743.6L395.1 732.9L395.1 742.5L395.2 745.7L395.2 718.0L395.2 745.7L395.3 740.4L395.3 742.5L395.4 742.5L395.4 737.2L395.5 739.3L395.5 729.7L395.6 742.5L395.6 741.5L395.7 732.9L395.7 726.5L395.8 745.7L395.8 741.5L395.9 742.5L395.9 735.1L396.0 743.6L396.0 738.3L396.1 720.1L396.1 730.8L396.2 743.6L396.2 740.4L396.3 728.7L396.3 741.5L396.4 736.1L396.4 743.6L396.5 744.7L396.5 744.7L396.6 741.5L396.6 734.0L396.7 745.7L396.7 721.2L396.7 725.5L396.8 744.7L396.8 743.6L396.9 740.4L396.9 732.9L397.0 743.6L397.0 736.1L397.1 734.0L397.1 745.7L397.2 745.7L397.2 731.9L397.3 742.5L397.3 742.5L397.4 744.7L397.4 741.5L397.5 745.7L397.5 743.6L397.6 738.3L397.6 743.6L397.7 744.7L397.7 741.5L397.8 743.6L397.8 745.7L397.9 732.9L397.9 730.8L398.0 743.6L398.0 741.5L398.1 742.5L398.1 732.9L398.2 731.9L398.2 744.7L398.3 744.7L398.3 744.7L398.4 742.5L398.4 735.1L398.5 740.4L398.5 737.2L398.6 722.3L398.6 745.7L398.7 740.4L398.7 737.2L398.8 742.5L398.8 740.4L398.9 744.7L398.9 734.0L399.0 735.1L399.0 730.8L399.1 743.6L399.1 743.6L399.2 741.5L399.2 714.8L399.2 723.3L399.3 741.5L399.3 739.3L399.4 742.5L399.4 738.3L399.5 744.7L399.5 726.5L399.6 741.5L399.6 742.5L399.7 739.3L399.7 743.6L399.8 737.2L399.8 740.4L399.9 742.5L399.9 736.1L400.0 744.7L400.0 744.7L400.1 744.7L400.1 731.9L400.2 719.1L400.2 695.6L400.2 743.6L400.3 737.2L400.3 741.5L400.4 744.7L400.4 737.2L400.5 734.0L400.5 744.7L400.6 735.1L400.6 742.5L400.7 732.9L400.7 742.5L400.8 745.7L400.8 737.2L400.9 744.7L400.9 740.4L401.0 744.7L401.0 745.7L401.1 745.7L401.1 741.5L401.2 743.6L401.2 740.4L401.3 740.4L401.3 734.0L401.4 745.7L401.4 727.6L401.5 742.5L401.5 734.0L401.6 741.5L401.6 742.5L401.7 743.6L401.7 712.7L401.7 742.5L401.8 730.8L401.8 744.7L401.9 743.6L401.9 735.1L402.0 744.7L402.0 744.7L402.1 742.5L402.1 739.3L402.2 731.9L402.2 741.5L402.3 740.4L402.3 742.5L402.4 740.4L402.4 710.6L402.5 744.7L402.5 741.5L402.6 741.5L402.6 739.3L402.7 742.5L402.7 743.6L402.8 744.7L402.8 743.6L402.9 743.6L402.9 741.5L403.0 743.6L403.0 729.7L403.1 737.2L403.1 741.5L403.2 741.5L403.2 736.1L403.3 739.3L403.3 742.5L403.4 729.7L403.4 743.6L403.5 741.5L403.5 742.5L403.6 742.5L403.6 742.5L403.7 744.7L403.7 741.5L403.8 743.6L403.8 740.4L403.9 745.7L403.9 740.4L404.0 743.6L404.0 743.6L404.1 743.6L404.1 740.4L404.2 744.7L404.2 702.0L404.2 744.7L404.3 742.5L404.3 734.0L404.4 742.5L404.4 728.7L404.5 742.5L404.5 741.5L404.6 735.1L404.6 741.5L404.7 738.3L404.7 742.5L404.8 743.6L404.8 744.7L404.9 742.5L404.9 727.6L405.0 737.2L405.0 744.7L405.1 738.3L405.1 732.9L405.2 744.7L405.2 741.5L405.3 739.3L405.3 734.0L405.4 743.6L405.4 743.6L405.5 732.9L405.5 736.1L405.6 739.3L405.6 738.3L405.7 742.5L405.7 742.5L405.8 730.8L405.8 728.7L405.9 730.8L405.9 735.1L406.0 738.3L406.0 740.4L406.1 720.1L406.1 745.7L406.2 743.6L406.2 737.2L406.3 741.5L406.3 743.6L406.4 742.5L406.4 744.7L406.5 731.9L406.5 745.7L406.6 743.6L406.6 725.5L406.7 742.5L406.7 719.1L406.7 736.1L406.8 738.3L406.8 738.3L406.9 743.6L406.9 738.3L407.0 742.5L407.0 744.7L407.1 737.2L407.1 728.7L407.2 740.4L407.2 744.7L407.3 731.9L407.3 739.3L407.4 735.1L407.4 722.3L407.5 738.3L407.5 731.9L407.6 739.3L407.6 735.1L407.7 730.8L407.7 742.5L407.8 742.5L407.8 739.3L407.9 741.5L407.9 745.7L408.0 740.4L408.0 744.7L408.1 744.7L408.1 726.5L408.2 737.2L408.2 744.7L408.3 740.4L408.3 744.7L408.4 744.7L408.4 742.5L408.5 744.7L408.5 744.7L408.6 737.2L408.6 737.2L408.7 745.7L408.7 743.6L408.8 742.5L408.8 739.3L408.9 738.3L408.9 744.7L409.0 742.5L409.0 739.3L409.1 744.7L409.1 738.3L409.2 745.7L409.2 742.5L409.3 728.7L409.3 740.4L409.4 744.7L409.4 732.9L409.5 741.5L409.5 744.7L409.6 741.5L409.6 741.5L409.7 743.6L409.7 738.3L409.8 745.7L409.8 743.6L409.9 740.4L409.9 742.5L410.0 731.9L410.0 745.7L410.1 720.1L410.1 725.5L410.2 744.7L410.2 703.1L410.2 742.5L410.3 744.7L410.3 743.6L410.4 743.6L410.4 745.7L410.5 729.7L410.5 741.5L410.6 745.7L410.6 743.6L410.7 740.4L410.7 739.3L410.8 742.5L410.8 729.7L410.9 744.7L410.9 738.3L411.0 744.7L411.0 738.3L411.1 739.3L411.1 742.5L411.2 739.3L411.2 737.2L411.3 707.4L411.3 739.3L411.4 742.5L411.4 739.3L411.5 741.5L411.5 731.9L411.6 743.6L411.6 736.1L411.7 743.6L411.7 744.7L411.8 742.5L411.8 741.5L411.9 725.5L411.9 745.7L412.0 739.3L412.0 743.6L412.1 741.5L412.1 744.7L412.2 728.7L412.2 732.9L412.3 740.4L412.3 731.9L412.4 738.3L412.4 736.1L412.5 744.7L412.5 736.1L412.6 734.0L412.6 731.9L412.7 740.4L412.7 727.6L412.8 740.4L412.8 739.3L412.9 734.0L412.9 739.3L413.0 743.6L413.0 744.7L413.1 743.6L413.1 741.5L413.2 743.6L413.2 739.3L413.3 738.3L413.3 742.5L413.4 743.6L413.4 741.5L413.5 744.7L413.5 741.5L413.6 742.5L413.6 736.1L413.7 743.6L413.7 745.7L413.8 740.4L413.8 744.7L413.9 740.4L413.9 737.2L414.0 728.7L414.0 737.2L414.1 742.5L414.1 729.7L414.2 745.7L414.2 730.8L414.2 739.3L414.3 744.7L414.4 741.5L414.4 740.4L414.5 740.4L414.5 744.7L414.6 745.7L414.6 743.6L414.7 742.5L414.7 729.7L414.8 744.7L414.8 735.1L414.9 736.1L414.9 732.9L415.0 741.5L415.0 740.4L415.1 741.5L415.1 742.5L415.2 738.3L415.2 737.2L415.3 741.5L415.3 738.3L415.4 736.1L415.4 737.2L415.5 737.2L415.5 737.2L415.6 743.6L415.6 739.3L415.7 736.1L415.7 742.5L415.8 742.5L415.8 740.4L415.9 743.6L415.9 739.3L416.0 738.3L416.0 740.4L416.1 742.5L416.1 744.7L416.2 735.1L416.2 739.3L416.3 739.3L416.3 737.2L416.4 743.6L416.4 744.7L416.5 741.5L416.5 739.3L416.6 744.7L416.6 741.5L416.7 742.5L416.7 743.6L416.8 743.6L416.8 743.6L416.9 742.5L416.9 743.6L417.0 729.7L417.0 723.3L417.1 738.3L417.1 743.6L417.2 743.6L417.2 745.7L417.3 744.7L417.3 739.3L417.4 743.6L417.4 731.9L417.5 744.7L417.5 741.5L417.6 744.7L417.6 743.6L417.7 745.7L417.7 743.6L434.3 745.7L435.8 745.7L437.3 745.7L439.3 745.7L440.8 745.7L442.3 745.7L444.3 745.7L445.8 745.7L451.8 745.7L452.3 739.3L452.8 745.7L452.8 741.5L453.3 743.6L454.3 745.7L464.4 745.7L466.9 734.0L466.9 742.5L467.0 745.7L467.0 745.7L467.1 737.2L467.1 745.7L467.2 743.6L467.2 744.7L467.3 744.7L467.3 743.6L467.4 744.7L467.4 744.7L467.5 744.7L467.5 738.3L467.6 744.7L467.6 744.7L467.7 741.5L467.7 744.7L467.8 743.6L467.8 744.7L467.9 737.2L467.9 744.7L468.0 743.6L468.0 744.7L468.1 743.6L468.1 743.6L468.2 745.7L468.2 741.5L468.3 739.3L468.3 742.5L468.4 743.6L468.4 744.7L468.5 744.7L468.5 745.7L468.6 744.7L468.6 745.7L468.7 736.1L468.7 744.7L468.8 743.6L468.8 739.3L468.9 744.7L468.9 744.7L469.0 743.6L469.0 742.5L469.1 743.6L469.1 745.7L469.2 743.6L469.2 744.7L469.3 744.7L469.3 742.5L469.4 742.5L469.4 737.2L469.5 736.1L469.5 741.5L469.6 742.5L469.6 737.2L469.7 729.7L469.7 742.5L469.8 732.9L469.8 737.2L469.9 736.1L469.9 718.0L470.0 730.8L470.0 734.0L470.1 744.7L470.1 743.6L470.2 741.5L470.2 730.8L470.3 744.7L470.3 744.7L470.4 734.0L470.4 741.5L470.5 734.0L470.5 740.4L470.6 739.3L470.6 736.1L470.7 732.9L470.7 743.6L470.8 739.3L470.8 735.1L470.9 743.6L470.9 700.4L470.9 694.6L471.0 743.6L471.0 738.3L471.1 740.4L471.1 742.5L471.2 743.6L471.2 704.2L471.3 741.5L471.3 730.8L471.4 727.6L471.4 721.2L471.5 735.1L471.5 734.0L471.6 740.4L471.6 741.5L471.7 739.3L471.7 745.7L471.8 743.6L471.8 726.5L471.9 744.7L471.9 740.4L472.0 739.3L472.0 729.7L472.1 734.0L472.1 736.1L472.2 699.9L472.2 743.6L472.3 736.1L472.3 738.3L472.4 742.5L472.4 741.5L472.5 741.5L472.5 740.4L472.6 739.3L472.6 732.9L472.7 738.3L472.7 741.5L472.8 743.6L472.8 741.5L472.9 738.3L472.9 742.5L473.0 745.7L473.0 740.4L473.1 736.1L473.1 739.3L473.2 742.5L473.2 744.7L473.3 730.8L473.3 732.9L473.4 739.3L473.4 734.0L473.5 722.3L473.5 738.3L473.6 736.1L473.6 732.9L473.7 741.5L473.7 734.0L473.8 742.5L473.8 737.2L473.9 702.0L473.9 730.8L474.0 735.1L474.0 718.0L474.1 739.3L474.1 732.9L474.2 743.6L474.2 743.6L474.3 732.9L474.3 737.2L474.4 739.3L474.4 674.3L474.4 735.1L474.5 736.1L474.5 739.3L474.6 735.1L474.6 732.9L474.7 727.6L474.7 735.1L474.8 736.1L474.8 744.7L474.9 728.7L474.9 651.9L474.9 627.8L474.9 612.9L474.9 742.5L475.0 738.3L475.0 730.8L475.1 742.5L475.1 735.1L475.2 737.2L475.2 744.7L475.3 732.9L475.3 744.7L475.4 738.3L475.4 727.6L475.5 728.7L475.5 743.6L475.6 743.6L475.6 732.9L475.7 711.6L475.7 743.6L475.8 715.9L475.8 741.5L475.9 740.4L475.9 743.6L476.0 742.5L476.0 725.5L476.1 744.7L476.1 744.7L476.2 743.6L476.2 744.7L476.3 739.3L476.3 744.7L476.4 741.5L476.4 705.2L476.5 743.6L476.5 743.6L476.6 742.5L476.6 737.2L476.7 737.2L476.7 707.4L476.8 743.6L476.8 725.5L476.9 740.4L476.9 682.8L476.9 741.5L477.0 742.5L477.0 729.7L477.1 742.5L477.1 740.4L477.2 736.1L477.2 741.5L477.3 727.6L477.3 740.4L477.4 730.8L477.4 720.1L477.5 740.4L477.5 742.5L477.6 742.5L477.6 732.9L477.7 741.5L477.7 729.7L477.8 743.6L477.8 739.3L477.9 732.9L477.9 735.1L478.0 715.9L478.0 730.8L478.1 734.0L478.1 742.5L478.2 741.5L478.2 740.4L478.3 725.5L478.3 739.3L478.4 721.2L478.4 688.2L478.4 736.1L478.5 732.9L478.5 731.9L478.6 742.5L478.6 731.9L478.7 740.4L478.7 735.1L478.8 740.4L478.8 741.5L478.9 737.2L478.9 734.0L479.0 734.0L479.0 717.0L479.1 732.9L479.1 744.7L479.2 745.7L479.2 743.6L479.3 735.1L479.3 734.0L479.4 735.1L479.4 743.6L479.5 741.5L479.5 725.5L479.6 735.1L479.6 737.2L479.7 738.3L479.7 729.7L479.8 743.6L479.8 743.6L479.9 742.5L479.9 744.7L480.0 743.6L480.0 735.1L480.1 739.3L480.1 714.8L480.2 721.2L480.2 725.5L480.3 741.5L480.3 742.5L480.4 742.5L480.4 691.4L480.4 744.7L480.5 742.5L480.5 732.9L480.6 741.5L480.6 740.4L480.7 744.7L480.7 738.3L480.8 743.6L480.8 735.1L480.9 736.1L480.9 656.2L480.9 642.3L480.9 634.2L480.9 744.7L481.0 717.0L481.0 715.9L481.1 719.1L481.1 743.6L481.2 742.5L481.2 745.7L481.3 728.7L481.3 734.0L481.4 743.6L481.4 740.4L481.5 709.5L481.5 740.4L481.6 721.2L481.6 731.9L481.7 736.1L481.7 742.5L481.8 694.6L481.8 744.7L481.9 721.2L481.9 728.7L482.0 736.1L482.0 730.8L482.1 728.7L482.1 741.5L482.2 734.0L482.2 741.5L482.3 739.3L482.3 736.1L482.4 743.6L482.4 738.3L482.5 734.0L482.5 744.7L482.6 723.3L482.6 742.5L482.7 734.0L482.7 743.6L482.8 731.9L482.8 732.9L482.9 741.5L482.9 732.9L483.0 742.5L483.0 744.7L483.1 726.5L483.1 741.5L483.2 735.1L483.2 736.1L483.3 743.6L483.3 712.7L483.4 720.1L483.4 719.1L483.5 734.0L483.5 740.4L483.6 712.7L483.6 736.1L483.7 727.6L483.7 734.0L483.8 741.5L483.8 740.4L483.9 741.5L483.9 742.5L484.0 737.2L484.0 731.9L484.1 739.3L484.1 726.5L484.2 731.9L484.2 714.8L484.3 725.5L484.3 736.1L484.4 734.0L484.4 745.7L484.5 723.3L484.5 743.6L484.6 744.7L484.6 738.3L484.7 723.3L484.7 715.9L484.8 744.7L484.8 744.7L484.9 742.5L484.9 743.6L485.0 738.3L485.0 743.6L485.1 743.6L485.1 744.7L485.2 738.3L485.2 743.6L485.3 738.3L485.3 742.5L485.4 744.7L485.4 740.4L485.5 741.5L485.5 744.7L485.6 745.7L485.6 732.9L485.7 742.5L485.7 740.4L485.8 745.7L485.8 730.8L485.9 731.9L485.9 741.5L486.0 740.4L486.0 740.4L486.1 743.6L486.1 745.7L486.2 744.7L486.2 734.0L486.3 743.6L486.3 739.3L486.4 742.5L486.4 744.7L486.5 745.7L486.5 745.7L486.6 738.3L486.6 740.4L486.7 745.7L486.7 732.9L486.8 744.7L486.8 744.7L486.9 740.4L486.9 714.8L487.0 741.5L487.0 738.3L487.1 744.7L487.1 744.7L487.2 739.3L487.2 743.6L487.3 737.2L487.3 727.6L487.4 742.5L487.4 718.0L487.5 744.7L487.5 742.5L487.6 742.5L487.6 736.1L487.7 745.7L487.7 741.5L487.8 744.7L487.8 742.5L487.9 737.2L487.9 739.3L488.0 728.7L488.0 742.5L488.1 738.3L488.1 743.6L488.2 743.6L488.2 738.3L488.3 744.7L488.3 738.3L488.4 739.3L488.4 727.6L488.5 740.4L488.5 744.7L488.6 732.9L488.6 737.2L488.7 738.3L488.7 744.7L488.8 741.5L488.8 722.3L488.9 740.4L488.9 739.3L489.0 742.5L489.0 744.7L489.1 743.6L489.1 731.9L489.2 744.7L489.2 744.7L489.3 736.1L489.3 741.5L489.4 741.5L489.5 737.2L489.5 744.7L489.6 737.2L489.6 743.6L489.7 728.7L489.7 740.4L489.8 730.8L489.8 743.6L489.9 743.6L489.9 742.5L490.0 742.5L490.0 740.4L490.1 741.5L490.1 742.5L490.2 744.7L490.2 745.7L490.3 740.4L490.3 745.7L490.4 741.5L490.4 738.3L490.5 738.3L490.5 743.6L490.6 741.5L490.6 743.6L490.7 742.5L490.7 744.7L490.8 744.7L490.8 744.7L490.9 741.5L490.9 740.4L491.0 742.5L491.0 743.6L491.1 742.5L491.1 735.1L491.2 743.6L491.2 742.5L491.3 744.7L491.3 738.3L491.4 743.6L491.4 744.7L491.5 715.9L491.5 731.9L491.6 744.7L491.6 744.7L491.7 743.6L491.7 731.9L491.8 740.4L491.8 740.4L491.9 740.4L491.9 740.4L492.0 742.5L492.0 740.4L492.1 732.9L492.1 740.4L492.2 740.4L492.2 741.5L492.3 740.4L492.3 743.6L492.4 739.3L492.4 734.0L492.5 713.8L492.5 742.5L492.6 742.5L492.6 742.5L492.7 739.3L492.7 743.6L492.8 745.7L492.8 738.3L492.9 741.5L492.9 745.7L493.0 742.5L493.0 741.5L493.1 739.3L493.1 744.7L493.2 735.1L493.2 742.5L493.3 738.3L493.3 734.0L493.4 715.9L493.4 738.3L493.5 744.7L493.5 728.7L493.6 739.3L493.6 739.3L493.7 735.1L493.7 738.3L493.8 743.6L493.8 744.7L493.9 744.7L493.9 745.7L493.9 688.2L494.0 725.5L494.0 736.1L494.1 741.5L494.1 744.7L494.2 739.3L494.2 739.3L494.3 744.7L494.3 742.5L494.4 743.6L494.4 744.7L494.5 745.7L494.5 743.6L494.6 739.3L494.6 721.2L494.7 739.3L494.7 727.6L494.8 740.4L494.8 732.9L494.9 745.7L494.9 742.5L495.0 730.8L495.0 745.7L495.1 741.5L495.1 745.7L495.2 741.5L495.2 742.5L495.3 739.3L495.3 741.5L495.4 740.4L495.4 739.3L495.5 744.7L495.5 743.6L495.6 738.3L495.6 741.5L495.7 742.5L495.7 736.1L495.8 735.1L495.8 735.1L495.9 743.6L495.9 745.7L496.0 726.5L496.0 744.7L496.1 741.5L496.1 731.9L496.2 744.7L496.2 740.4L496.3 727.6L496.3 742.5L496.4 741.5L496.4 738.3L496.5 734.0L496.5 737.2L496.6 739.3L496.6 724.4L496.7 742.5L496.7 726.5L496.8 743.6L496.8 744.7L496.9 741.5L496.9 742.5L497.0 742.5L497.0 739.3L497.1 745.7L497.1 739.3L497.2 740.4L497.2 741.5L497.3 741.5L497.3 739.3L497.4 725.5L497.4 730.8L497.5 739.3L497.5 740.4L497.6 734.0L497.6 740.4L497.7 739.3L497.7 738.3L497.8 731.9L497.8 739.3L497.9 742.5L497.9 744.7L498.0 738.3L498.0 738.3L498.1 740.4L498.1 743.6L498.2 743.6L498.2 743.6L498.3 742.5L498.3 738.3L498.4 741.5L498.4 741.5L498.5 741.5L498.5 736.1L498.6 743.6L498.6 743.6L498.7 739.3L498.7 739.3L498.8 739.3L498.8 740.4L498.9 738.3L498.9 720.1L499.0 741.5L499.0 740.4L499.1 741.5L499.1 741.5L499.2 742.5L499.2 744.7L499.3 739.3L499.3 742.5L499.4 743.6L499.4 745.7L499.5 729.7L499.5 743.6L499.6 735.1L499.6 743.6L499.7 735.1L499.7 730.8L499.8 742.5L499.8 741.5L499.9 731.9L499.9 737.2L500.0 739.3L500.0 744.7L500.1 742.5L500.1 740.4L500.2 735.1L500.2 735.1L500.3 740.4L500.3 723.3L500.4 744.7L500.4 735.1L500.4 691.4L500.5 734.0L500.5 736.1L500.6 741.5L500.6 742.5L500.7 740.4L500.7 741.5L500.8 740.4L500.8 739.3L500.9 739.3L500.9 740.4L501.0 731.9L501.0 739.3L501.1 737.2L501.1 742.5L501.2 742.5L501.2 742.5L501.3 737.2L501.3 737.2L501.4 736.1L501.4 742.5L501.5 739.3L501.5 738.3L501.6 734.0L501.6 721.2L501.7 743.6L501.7 717.0L501.8 744.7L501.8 738.3L501.9 742.5L501.9 737.2L502.0 723.3L502.0 741.5L502.1 736.1L502.1 744.7L502.2 734.0L502.2 731.9L502.3 738.3L502.3 738.3L502.4 743.6L502.4 718.0L502.5 745.7L502.5 736.1L502.6 742.5L502.6 745.7L502.7 737.2L502.7 738.3L502.8 743.6L502.8 743.6L502.9 743.6L502.9 738.3L502.9 685.0L503.0 745.7L503.0 736.1L503.1 740.4L503.1 735.1L503.2 742.5L503.2 741.5L503.3 718.0L503.3 741.5L503.4 741.5L503.4 744.7L503.5 740.4L503.5 744.7L503.6 742.5L503.6 711.6L503.7 744.7L503.7 741.5L503.8 744.7L503.8 740.4L503.9 744.7L503.9 743.6L504.0 741.5L504.0 745.7L504.1 741.5L504.1 719.1L504.2 745.7L504.2 736.1L504.3 742.5L504.3 742.5L504.4 743.6L504.4 741.5L504.5 743.6L504.5 742.5L504.6 744.7L504.6 726.5L504.7 744.7L504.7 743.6L504.8 744.7L504.8 745.7L504.9 745.7L504.9 743.6L505.0 734.0L505.0 741.5L505.1 739.3L505.1 744.7L505.2 735.1L505.2 743.6L505.3 738.3L505.3 730.8L505.4 739.3L505.4 743.6L505.5 738.3L505.5 742.5L505.6 742.5L505.6 742.5L505.7 736.1L505.7 741.5L505.8 741.5L505.8 734.0L505.9 743.6L505.9 742.5L506.0 744.7L506.0 741.5L506.1 743.6L506.1 732.9L506.2 740.4L506.2 741.5L506.3 742.5L506.3 744.7L506.4 741.5L506.4 740.4L506.5 737.2L506.5 729.7L506.6 734.0L506.6 739.3L506.7 745.7L506.7 745.7L506.8 742.5L506.8 741.5L506.9 743.6L506.9 739.3L507.0 737.2L507.0 742.5L507.1 740.4L507.1 745.7L507.2 741.5L507.2 734.0L507.3 740.4L507.3 739.3L507.4 740.4L507.4 732.9L507.5 739.3L507.5 744.7L507.6 744.7L507.6 741.5L507.7 736.1L507.7 743.6L507.8 738.3L507.8 738.3L507.9 738.3L507.9 743.6L507.9 704.2L508.0 743.6L508.0 736.1L508.1 743.6L508.1 745.7L508.2 745.7L508.2 742.5L508.3 736.1L508.3 740.4L508.4 731.9L508.4 741.5L508.5 741.5L508.5 743.6L508.6 732.9L508.6 728.7L508.7 744.7L508.7 745.7L508.8 729.7L508.8 737.2L508.9 742.5L508.9 742.5L509.0 725.5L509.0 744.7L509.1 745.7L509.1 743.6L509.2 726.5L509.2 741.5L509.3 738.3L509.3 739.3L509.4 729.7L509.4 731.9L509.5 743.6L509.5 740.4L509.6 745.7L509.6 738.3L509.7 744.7L509.7 734.0L509.8 742.5L509.8 743.6L509.9 734.0L509.9 742.5L510.0 737.2L510.0 728.7L510.1 723.3L510.1 745.7L510.2 737.2L510.2 743.6L510.3 739.3L510.3 743.6L510.4 742.5L510.4 744.7L510.5 743.6L510.5 723.3L510.6 741.5L510.6 739.3L510.7 732.9L510.7 732.9L510.8 737.2L510.8 744.7L510.9 742.5L510.9 743.6L511.0 745.7L511.0 736.1L511.1 740.4L511.1 728.7L511.2 745.7L511.2 740.4L511.3 735.1L511.3 744.7L511.4 738.3L511.4 743.6L511.5 737.2L511.5 744.7L511.6 740.4L511.6 745.7L511.7 741.5L511.7 740.4L511.8 737.2L511.8 744.7L511.9 730.8L511.9 729.7L512.0 744.7L512.0 739.3L512.1 741.5L512.1 736.1L512.2 739.3L512.2 742.5L512.3 741.5L512.3 736.1L512.4 737.2L512.4 721.2L512.4 667.9L512.5 742.5L512.5 727.6L512.6 739.3L512.6 721.2L512.7 737.2L512.7 744.7L512.8 740.4L512.8 744.7L512.9 738.3L512.9 740.4L513.0 743.6L513.0 744.7L513.1 713.8L513.1 744.7L513.2 743.6L513.2 738.3L513.3 739.3L513.3 736.1L513.4 742.5L513.4 736.1L513.5 734.0L513.5 741.5L513.6 742.5L513.6 729.7L513.7 736.1L513.7 728.7L513.8 741.5L513.8 741.5L513.9 745.7L513.9 736.1L514.0 721.2L514.0 731.9L514.1 743.6L514.1 739.3L514.2 745.7L514.2 727.6L514.3 737.2L514.3 739.3L514.4 734.0L514.4 740.4L514.5 743.6L514.6 743.6L514.6 742.5L514.7 741.5L514.7 739.3L514.8 713.8L514.8 743.6L514.9 735.1L514.9 738.3L515.0 743.6L515.0 689.2L515.0 741.5L515.1 741.5L515.1 736.1L515.2 740.4L515.2 744.7L515.3 744.7L515.3 742.5L515.4 734.0L515.4 744.7L515.5 732.9L515.5 729.7L515.6 744.7L515.6 713.8L515.7 745.7L515.7 744.7L515.8 730.8L515.8 735.1L515.9 734.0L515.9 740.4L516.0 739.3L516.0 730.8L516.1 740.4L516.1 734.0L516.2 741.5L516.2 741.5L516.3 738.3L516.3 744.7L516.4 736.1L516.4 738.3L516.5 740.4L516.5 741.5L516.6 742.5L516.6 739.3L516.7 740.4L516.7 739.3L516.8 742.5L516.8 732.9L516.9 737.2L516.9 740.4L517.0 743.6L517.0 681.8L517.0 744.7L517.1 740.4L517.1 742.5L517.2 737.2L517.2 742.5L517.3 744.7L517.3 738.3L517.4 727.6L517.4 740.4L517.5 736.1L517.5 743.6L517.6 742.5L517.6 736.1L517.7 744.7L517.7 741.5L517.8 734.0L517.8 728.7L517.9 732.9L517.9 741.5L518.0 741.5L518.0 745.7L518.1 734.0L518.1 741.5L518.2 717.0L518.2 742.5L518.3 741.5L518.3 743.6L518.4 741.5L518.4 731.9L518.5 735.1L518.5 744.7L518.6 741.5L518.6 725.5L518.7 734.0L518.7 742.5L518.8 741.5L518.8 743.6L518.9 743.6L518.9 743.6L519.0 744.7L519.0 741.5L519.1 738.3L519.1 744.7L519.2 726.5L519.2 739.3L519.3 714.8L519.3 744.7L519.4 735.1L519.4 713.8L519.5 740.4L519.5 741.5L519.6 740.4L519.6 742.5L519.7 740.4L519.7 744.7L519.8 738.3L519.8 744.7L519.9 744.7L519.9 723.3L520.0 741.5L520.0 745.7L520.1 732.9L520.1 738.3L520.2 738.3L520.2 740.4L520.3 743.6L520.3 744.7L520.4 745.7L520.4 739.3L520.5 740.4L520.5 743.6L520.6 743.6L520.6 744.7L520.7 737.2L520.7 745.7L520.8 736.1L520.8 729.7L520.9 743.6L520.9 743.6L521.0 735.1L521.0 743.6L521.1 744.7L521.1 738.3L521.2 737.2L521.2 743.6L521.3 735.1L521.3 743.6L521.4 741.5L521.4 740.4L521.5 737.2L521.5 740.4L521.6 743.6L521.6 742.5L521.7 742.5L521.7 737.2L521.8 742.5L521.8 739.3L521.9 740.4L521.9 737.2L522.0 741.5L522.0 742.5L522.1 742.5L522.1 742.5L522.2 744.7L522.2 742.5L522.3 740.4L522.3 729.7L522.4 742.5L522.4 743.6L522.5 744.7L522.5 744.7L522.6 744.7L522.6 744.7L522.7 738.3L522.7 739.3L522.8 738.3L522.8 745.7L522.9 741.5L522.9 740.4L523.0 738.3L523.0 744.7L523.1 743.6L523.1 742.5L523.2 739.3L523.2 739.3L523.3 745.7L523.3 744.7L523.4 736.1L523.4 740.4L523.5 741.5L523.5 740.4L523.6 739.3L523.6 723.3L523.7 744.7L523.7 738.3L523.8 743.6L523.8 738.3L523.9 741.5L523.9 737.2L524.0 740.4L524.0 740.4L524.1 743.6L524.1 743.6L524.2 740.4L524.2 741.5L524.3 743.6L524.3 740.4L524.4 739.3L524.4 742.5L524.5 740.4L524.5 709.5L524.5 744.7L524.6 738.3L524.6 740.4L524.7 741.5L524.7 735.1L524.8 745.7L524.8 738.3L524.9 723.3L524.9 738.3L525.0 732.9L525.0 729.7L525.1 736.1L525.1 741.5L525.2 737.2L525.2 741.5L525.3 745.7L525.3 740.4L525.4 743.6L525.4 739.3L525.5 739.3L525.5 717.0L525.6 744.7L525.6 737.2L525.7 743.6L525.7 742.5L525.8 732.9L525.8 726.5L525.9 740.4L525.9 735.1L526.0 736.1L526.0 743.6L526.1 741.5L526.1 739.3L526.2 717.0L526.2 741.5L526.3 745.7L526.3 740.4L526.4 730.8L526.4 742.5L526.5 740.4L526.5 742.5L526.6 745.7L526.6 730.8L526.7 728.7L526.7 740.4L526.8 744.7L526.8 740.4L526.9 743.6L526.9 743.6L527.0 744.7L527.0 742.5L527.1 737.2L527.1 739.3L527.2 743.6L527.2 742.5L527.3 745.7L527.3 740.4L527.4 737.2L527.4 741.5L527.5 736.1L527.5 726.5L527.6 743.6L527.6 743.6L527.7 742.5L527.7 743.6L527.8 741.5L527.8 736.1L527.9 741.5L527.9 741.5L528.0 740.4L528.0 745.7L528.1 742.5L528.1 745.7L528.2 743.6L528.2 743.6L528.3 735.1L528.3 745.7L528.4 741.5L528.4 735.1L528.5 745.7L528.5 745.7L528.6 739.3L528.6 741.5L528.7 741.5L528.7 743.6L528.8 743.6L528.8 738.3L528.9 735.1L528.9 744.7L529.0 745.7L529.0 743.6L529.1 735.1L529.1 731.9L529.2 732.9L529.2 743.6L529.3 744.7L529.3 741.5L529.4 737.2L529.4 736.1L529.5 741.5L529.5 743.6L529.6 743.6L529.6 743.6L529.7 739.3L529.7 741.5L529.8 742.5L529.8 742.5L529.9 735.1L529.9 741.5L530.0 738.3L530.0 744.7L530.1 735.1L530.1 731.9L530.2 739.3L530.2 734.0L530.3 742.5L530.3 743.6L530.4 740.4L530.4 717.0L530.5 740.4L530.5 740.4L530.6 742.5L530.6 740.4L530.7 745.7L530.7 740.4L530.8 742.5L530.8 742.5L530.9 742.5L530.9 744.7L531.0 743.6L531.0 737.2L531.1 743.6L531.1 744.7L531.2 745.7L531.2 741.5L531.3 740.4L531.3 743.6L531.4 742.5L531.4 741.5L531.5 742.5L531.5 740.4L531.6 745.7L531.6 742.5L531.7 743.6L531.7 738.3L531.8 738.3L531.8 740.4L531.9 742.5L531.9 743.6L532.0 743.6L532.0 711.6L532.1 745.7L532.1 743.6L532.2 744.7L532.2 742.5L532.3 723.3L532.3 736.1L532.4 739.3L532.4 740.4L532.5 737.2L532.5 732.9L532.6 738.3L532.6 742.5L532.7 735.1L532.7 740.4L532.8 745.7L532.8 740.4L532.9 743.6L532.9 742.5L533.0 723.3L533.0 740.4L533.1 731.9L533.1 729.7L533.2 734.0L533.2 731.9L533.3 742.5L533.3 732.9L533.4 726.5L533.4 735.1L533.5 735.1L533.5 740.4L533.6 731.9L533.6 736.1L533.7 738.3L533.7 727.6L533.8 735.1L533.8 732.9L533.9 727.6L533.9 732.9L534.0 745.7L534.0 741.5L534.1 743.6L534.1 704.2L534.2 727.6L534.2 736.1L534.3 730.8L534.3 743.6L534.4 725.5L534.4 735.1L534.5 739.3L534.5 647.7L534.5 737.2L534.6 745.7L534.6 739.3L534.7 740.4L534.7 741.5L534.8 725.5L534.8 728.7L534.9 727.6L534.9 739.3L535.0 736.1L535.0 732.9L535.1 743.6L535.1 736.1L535.2 730.8L535.2 744.7L535.3 729.7L535.3 714.8L535.4 726.5L535.4 744.7L535.5 742.5L535.5 738.3L535.6 738.3L535.6 739.3L535.7 739.3L535.7 743.6L535.8 737.2L535.8 736.1L535.9 739.3L535.9 742.5L536.0 731.9L536.0 682.8L536.0 742.5L536.1 734.0L536.1 742.5L536.2 744.7L536.2 734.0L536.3 741.5L536.3 741.5L536.4 740.4L536.4 738.3L536.5 740.4L536.5 729.7L536.6 743.6L536.6 735.1L536.7 740.4L536.7 744.7L536.8 740.4L536.8 744.7L536.9 734.0L536.9 732.9L537.0 713.8L537.0 693.5L537.0 706.3L537.1 741.5L537.1 740.4L537.2 729.7L537.2 744.7L537.3 719.1L537.3 737.2L537.4 713.8L537.4 744.7L537.5 732.9L537.5 703.1L537.6 739.3L537.6 737.2L537.7 714.8L537.7 742.5L537.8 735.1L537.8 707.4L537.9 739.3L537.9 736.1L538.0 743.6L538.0 672.2L538.0 737.2L538.1 724.4L538.1 732.9L538.2 732.9L538.2 739.3L538.3 725.5L538.3 744.7L538.4 710.6L538.4 732.9L538.5 741.5L538.5 626.3L538.5 599.7L538.5 523.4L538.5 723.3L538.6 743.6L538.6 732.9L538.7 725.5L538.7 742.5L538.8 730.8L538.8 732.9L538.9 737.2L538.9 742.5L539.0 738.3L539.0 656.2L539.0 645.5L539.0 713.8L539.1 741.5L539.1 741.5L539.2 742.5L539.2 735.1L539.3 742.5L539.3 694.6L539.4 728.7L539.4 744.7L539.5 744.7L539.6 743.6L539.6 742.5L539.7 741.5L539.7 719.1L539.8 735.1L539.8 704.2L539.9 744.7L539.9 697.8L540.0 731.9L540.0 739.3L540.1 739.3L540.1 741.5L540.2 742.5L540.2 741.5L540.3 735.1L540.3 739.3L540.4 737.2L540.4 719.1L540.5 736.1L540.5 737.2L540.6 728.7L540.6 745.7L540.7 735.1L540.7 743.6L540.8 732.9L540.8 724.4L540.9 743.6L540.9 737.2L541.0 734.0L541.0 742.5L541.1 741.5L541.1 736.1L541.2 744.7L541.2 731.9L541.3 742.5L541.3 735.1L541.4 721.2L541.4 726.5L541.5 730.8L541.5 744.7L541.6 717.0L541.6 723.3L541.7 732.9L541.7 719.1L541.8 711.6L541.8 726.5L541.9 739.3L541.9 743.6L542.0 741.5L542.0 736.1L542.1 736.1L542.1 745.7L542.2 744.7L542.2 745.7L542.3 739.3L542.3 741.5L542.4 740.4L542.4 745.7L542.5 740.4L542.5 728.7L542.6 740.4L542.6 742.5L542.7 741.5L542.7 735.1L542.8 741.5L542.8 719.1L542.9 744.7L542.9 718.0L543.0 740.4L543.0 742.5L543.1 743.6L543.1 739.3L543.2 736.1L543.2 742.5L543.3 737.2L543.3 736.1L543.4 742.5L543.4 734.0L543.5 743.6L543.5 742.5L543.6 745.7L543.6 741.5L543.7 742.5L543.7 730.8L543.8 745.7L543.8 739.3L543.9 741.5L543.9 744.7L544.0 744.7L544.0 740.4L544.1 736.1L544.1 743.6L544.2 743.6L544.2 737.2L544.3 745.7L544.3 741.5L544.4 726.5L544.4 736.1L544.5 741.5L544.5 744.7L544.6 744.7L544.6 742.5L544.7 732.9L544.7 739.3L544.8 739.3L544.8 740.4L544.9 727.6L544.9 740.4L545.0 731.9L545.0 740.4L545.1 743.6L545.1 743.6L545.2 743.6L545.2 743.6L545.3 742.5L545.3 742.5L545.4 742.5L545.4 729.7L545.5 742.5L545.5 742.5L545.6 744.7L545.6 729.7L545.7 743.6L545.7 741.5L545.8 734.0L545.8 741.5L545.9 745.7L545.9 732.9L546.0 741.5L546.0 741.5L546.1 744.7L546.1 743.6L546.2 739.3L546.2 732.9L546.3 741.5L546.3 745.7L546.4 735.1L546.4 740.4L546.5 745.7L546.5 742.5L546.6 743.6L546.6 740.4L546.7 742.5L546.7 744.7L546.8 744.7L546.8 740.4L546.9 743.6L546.9 732.9L547.0 727.6L547.0 738.3L547.1 743.6L547.1 742.5L547.2 735.1L547.2 740.4L547.3 742.5L547.3 737.2L547.4 737.2L547.4 737.2L547.5 744.7L547.5 740.4L547.6 722.3L547.6 737.2L547.7 738.3L547.7 742.5L547.8 741.5L547.8 736.1L547.9 743.6L547.9 740.4L548.0 726.5L548.0 742.5L548.1 739.3L548.1 744.7L548.2 740.4L548.2 731.9L548.3 744.7L548.3 742.5L548.4 741.5L548.4 741.5L548.5 737.2L548.5 742.5L548.6 741.5L548.6 744.7L548.7 743.6L548.7 739.3L548.8 744.7L548.8 732.9L548.9 741.5L548.9 741.5L549.0 735.1L549.0 740.4L549.1 735.1L549.1 744.7L549.2 739.3L549.2 732.9L549.3 740.4L549.3 743.6L549.4 726.5L549.4 742.5L549.5 729.7L549.5 732.9L549.5 706.3L549.6 741.5L549.6 740.4L549.7 743.6L549.7 745.7L549.8 742.5L549.8 741.5L549.9 744.7L549.9 744.7L550.0 736.1L550.0 742.5L550.1 742.5L550.1 743.6L550.2 744.7L550.2 742.5L550.3 744.7L550.3 739.3L550.4 743.6L550.4 743.6L550.5 742.5L550.5 722.3L550.6 743.6L550.6 742.5L550.7 739.3L550.7 743.6L550.8 738.3L550.8 743.6L550.9 745.7L550.9 741.5L551.0 741.5L551.0 743.6L551.1 742.5L551.1 744.7L551.2 744.7L551.2 740.4L551.3 739.3L551.3 744.7L551.4 739.3L551.4 744.7L551.5 743.6L551.5 741.5L551.6 742.5L551.6 745.7L551.7 745.7L551.7 732.9L551.8 742.5L551.8 743.6L551.9 741.5L551.9 741.5L552.0 744.7L552.0 739.3L552.1 740.4L552.1 744.7L552.2 735.1L552.2 740.4L552.3 743.6L552.3 743.6L552.4 742.5L552.4 744.7L552.5 745.7L552.5 745.7L552.6 740.4L552.6 743.6L552.7 741.5L552.7 732.9L552.8 739.3L552.8 740.4L552.9 743.6L552.9 743.6L553.0 745.7L553.0 745.7L553.1 729.7L553.1 744.7L553.2 741.5L553.2 740.4L553.3 745.7L553.3 745.7L553.4 738.3L553.4 742.5L553.5 742.5L553.5 741.5L553.6 743.6L553.6 738.3L553.7 743.6L553.7 743.6L553.8 738.3L553.8 742.5L553.9 732.9L553.9 740.4L554.0 740.4L554.0 739.3L554.1 744.7L554.1 745.7L554.2 729.7L554.2 743.6L554.3 743.6L554.3 731.9L554.4 742.5L554.4 742.5L554.5 743.6L554.5 742.5L554.5 689.2L554.6 738.3L554.6 742.5L554.7 745.7L554.7 745.7L554.8 741.5L554.8 745.7L554.9 742.5L554.9 743.6L555.0 739.3L555.0 742.5L555.1 712.7L555.1 740.4L555.2 742.5L555.2 739.3L555.3 742.5L555.3 741.5L555.4 743.6L555.4 745.7L555.5 741.5L555.5 740.4L555.6 745.7L555.6 740.4L555.7 740.4L555.7 741.5L555.8 744.7L555.8 745.7L555.9 744.7L555.9 740.4L556.0 737.2L556.0 730.8L556.1 738.3L556.1 736.1L556.2 743.6L556.2 728.7L556.3 742.5L556.3 745.7L556.4 745.7L556.4 742.5L556.5 738.3L556.5 743.6L556.6 740.4L556.6 738.3L556.7 740.4L556.7 741.5L556.8 741.5L556.8 739.3L556.9 744.7L556.9 743.6L557.0 726.5L557.0 736.1L557.1 743.6L557.1 740.4L557.2 743.6L557.2 745.7L557.3 742.5L557.3 737.2L557.4 738.3L557.4 744.7L557.5 742.5L557.5 742.5L557.6 742.5L557.6 741.5L557.7 743.6L557.7 741.5L557.8 743.6L557.8 740.4L557.9 734.0L557.9 745.7L558.0 742.5L558.0 743.6L558.1 731.9L558.1 741.5L558.2 739.3L558.2 729.7L558.3 742.5L558.3 738.3L558.4 745.7L558.4 742.5L558.5 745.7L558.5 743.6L558.6 742.5L558.6 739.3L558.7 744.7L558.7 741.5L558.8 742.5L558.8 743.6L558.9 745.7L558.9 743.6L559.0 742.5L559.0 743.6L559.1 737.2L559.1 731.9L559.2 744.7L559.2 737.2L559.3 740.4L559.3 745.7L559.4 741.5L559.4 737.2L559.5 735.1L559.5 744.7L559.6 743.6L559.6 740.4L559.7 734.0L559.7 741.5L559.8 743.6L559.8 739.3L559.9 740.4L559.9 731.9L560.0 743.6L560.0 742.5L560.1 744.7L560.1 743.6L560.2 740.4L560.2 744.7L560.3 739.3L560.3 735.1L560.4 741.5L560.4 740.4L560.5 743.6L560.5 727.6L560.6 744.7L560.6 743.6L560.7 744.7L560.7 740.4L560.8 743.6L560.8 741.5L560.9 742.5L560.9 738.3L561.0 730.8L561.0 741.5L561.0 610.6L561.1 744.7L561.1 742.5L561.2 737.2L561.2 741.5L561.3 738.3L561.3 738.3L561.4 740.4L561.4 743.6L561.5 744.7L561.5 740.4L561.6 735.1L561.6 744.7L561.7 726.5L561.7 717.0L561.8 740.4L561.8 742.5L561.9 745.7L561.9 742.5L562.0 743.6L562.0 742.5L562.1 740.4L562.1 737.2L562.2 743.6L562.2 743.6L562.3 732.9L562.3 741.5L562.4 735.1L562.4 744.7L562.5 739.3L562.5 743.6L562.5 695.6L562.6 739.3L562.6 739.3L562.7 741.5L562.7 741.5L562.8 742.5L562.8 742.5L562.9 742.5L562.9 741.5L563.0 744.7L563.0 741.5L563.1 715.9L563.1 743.6L563.2 725.5L563.2 738.3L563.3 742.5L563.3 744.7L563.4 743.6L563.4 738.3L563.5 742.5L563.5 741.5L563.6 743.6L563.6 743.6L563.7 743.6L563.7 745.7L563.8 741.5L563.8 745.7L563.9 728.7L563.9 745.7L564.0 732.9L564.0 740.4L564.1 740.4L564.1 742.5L564.2 741.5L564.2 745.7L564.3 744.7L564.3 745.7L564.4 743.6L564.4 740.4L564.5 745.7L564.5 741.5L564.6 740.4L564.7 735.1L564.7 729.7L564.8 744.7L564.8 744.7L564.9 741.5L564.9 742.5L565.0 742.5L565.0 742.5L565.1 743.6L565.1 742.5L565.2 744.7L565.2 739.3L565.3 742.5L565.3 720.1L565.4 740.4L565.4 738.3L565.5 736.1L565.5 740.4L565.6 743.6L565.6 734.0L565.7 743.6L565.7 744.7L565.8 744.7L565.8 741.5L565.9 745.7L565.9 743.6L566.0 743.6L566.0 740.4L566.1 744.7L566.1 742.5L566.2 741.5L566.2 742.5L566.3 731.9L566.3 740.4L566.4 740.4L566.4 735.1L566.5 740.4L566.5 736.1L566.6 731.9L566.6 701.0L566.7 739.3L566.7 744.7L566.8 744.7L566.8 745.7L566.9 742.5L566.9 735.1L567.0 736.1L567.0 731.9L567.1 738.3L567.1 720.1L567.2 743.6L567.2 736.1L567.3 740.4L567.3 737.2L567.4 709.5L567.4 742.5L567.5 742.5L567.5 742.5L567.6 744.7L567.6 742.5L567.7 743.6L567.7 740.4L567.8 743.6L567.8 741.5L567.9 740.4L567.9 743.6L568.0 739.3L568.0 740.4L568.1 745.7L568.1 743.6L568.2 744.7L568.2 745.7L568.3 743.6L568.3 742.5L568.4 741.5L568.4 744.7L568.5 730.8L568.5 737.2L568.6 742.5L568.6 740.4L568.7 740.4L568.7 744.7L568.8 741.5L568.8 740.4L568.9 742.5L568.9 711.6L569.0 737.2L569.0 738.3L569.1 743.6L569.1 742.5L569.2 731.9L569.2 741.5L569.3 744.7L569.3 740.4L569.4 745.7L569.4 735.1L569.5 745.7L569.5 739.3L569.6 724.4L569.6 735.1L569.7 743.6L569.7 736.1L569.8 740.4L569.8 742.5L569.9 738.3L569.9 739.3L570.0 735.1L570.0 741.5L570.1 743.6L570.1 685.0L570.1 744.7L570.2 740.4L570.2 744.7L570.3 744.7L570.3 742.5L570.4 742.5L570.4 743.6L570.5 745.7L570.5 739.3L570.6 744.7L570.6 743.6L570.7 744.7L570.7 744.7L570.8 743.6L570.8 741.5L570.9 743.6L570.9 742.5L571.0 744.7L571.0 730.8L571.1 744.7L571.1 740.4L571.2 744.7L571.2 743.6L571.3 729.7L571.3 743.6L571.4 742.5L571.4 743.6L571.5 744.7L571.5 745.7L571.6 741.5L571.6 737.2L571.7 742.5L571.7 736.1L571.8 739.3L571.8 743.6L571.9 743.6L571.9 744.7L572.0 737.2L572.0 743.6L572.1 744.7L572.1 739.3L572.2 740.4L572.2 737.2L572.3 743.6L572.3 738.3L572.4 738.3L572.4 742.5L572.5 745.7L572.5 743.6L572.6 738.3L572.6 743.6L572.7 741.5L572.7 743.6L572.8 743.6L572.8 741.5L572.9 739.3L572.9 743.6L573.0 740.4L573.0 742.5L573.1 742.5L573.1 742.5L573.2 741.5L573.2 744.7L573.3 743.6L573.3 743.6L573.4 737.2L573.4 743.6L573.5 726.5L573.5 740.4L573.6 742.5L573.6 742.5L573.7 735.1L573.7 742.5L573.8 742.5L573.8 743.6L573.9 736.1L573.9 741.5L574.0 742.5L574.0 744.7L574.1 738.3L574.1 739.3L574.2 745.7L574.2 734.0L574.3 742.5L574.3 745.7L574.4 744.7L574.4 739.3L574.5 743.6L574.5 731.9L574.6 740.4L574.6 709.5L574.6 740.4L574.7 743.6L574.7 740.4L574.8 738.3L574.8 738.3L574.9 738.3L574.9 738.3L575.0 743.6L575.0 739.3L575.1 735.1L575.1 736.1L575.2 743.6L575.2 744.7L575.3 744.7L575.3 734.0L575.4 742.5L575.4 742.5L575.5 742.5L575.5 743.6L575.6 741.5L575.6 734.0L575.7 744.7L575.7 742.5L575.8 741.5L575.8 743.6L575.9 737.2L575.9 745.7L576.0 735.1L576.0 740.4L576.1 739.3L576.1 738.3L576.2 738.3L576.2 740.4L576.3 740.4L576.3 742.5L576.4 730.8L576.4 741.5L576.5 737.2L576.5 742.5L576.6 739.3L576.6 742.5L576.7 740.4L576.7 744.7L576.8 745.7L576.8 742.5L576.9 743.6L576.9 743.6L577.0 742.5L577.0 739.3L577.1 744.7L577.1 742.5L577.2 744.7L577.2 740.4L577.3 738.3L577.3 712.7L577.4 740.4L577.4 742.5L577.5 738.3L577.5 745.7L577.6 739.3L577.6 738.3L577.7 743.6L577.7 745.7L577.8 742.5L577.8 741.5L577.9 744.7L577.9 742.5L578.0 739.3L578.0 744.7L578.1 738.3L578.1 662.9L578.1 743.6L578.2 744.7L578.2 740.4L578.3 742.5L578.3 744.7L578.4 742.5L578.4 745.7L578.5 740.4L578.5 742.5L578.6 740.4L578.6 736.1L578.7 743.6L578.7 744.7L578.8 740.4L578.8 743.6L578.9 738.3L578.9 739.3L579.0 737.2L579.0 744.7L579.1 730.8L579.1 744.7L579.2 741.5L579.2 742.5L579.3 744.7L579.3 738.3L579.4 744.7L579.4 740.4L579.5 742.5L579.5 744.7L579.6 738.3L579.6 742.5L579.7 740.4L579.7 744.7L579.8 740.4L579.8 743.6L579.9 741.5L579.9 725.5L580.0 745.7L580.0 745.7L580.1 742.5L580.1 740.4L580.2 741.5L580.2 744.7L580.3 739.3L580.3 734.0L580.4 743.6L580.4 744.7L580.5 742.5L580.5 742.5L580.6 736.1L580.6 744.7L580.7 740.4L580.7 743.6L580.8 742.5L580.8 745.7L580.9 744.7L580.9 742.5L581.0 741.5L581.0 744.7L581.1 735.1L581.1 742.5L581.2 739.3L581.2 744.7L581.3 742.5L581.3 742.5L581.4 744.7L581.4 742.5L581.5 739.3L581.5 744.7L581.6 740.4L581.6 741.5L581.7 737.2L581.7 740.4L581.8 740.4L581.8 744.7L581.9 740.4L581.9 744.7L582.0 743.6L582.0 744.7L582.1 741.5L582.1 714.8L582.1 743.6L582.2 738.3L582.2 741.5L582.3 744.7L582.3 732.9L582.4 745.7L582.4 740.4L582.5 742.5L582.5 742.5L582.6 741.5L582.6 742.5L582.7 738.3L582.7 742.5L582.8 745.7L582.8 734.0L582.9 742.5L582.9 736.1L583.0 728.7L583.0 744.7L583.1 718.0L583.1 740.4L583.2 743.6L583.2 745.7L583.3 743.6L583.3 742.5L583.4 740.4L583.4 741.5L583.5 739.3L583.5 741.5L583.6 728.7L583.6 738.3L583.7 738.3L583.7 743.6L583.8 743.6L583.8 742.5L583.9 737.2L583.9 743.6L584.0 740.4L584.0 737.2L584.1 738.3L584.1 737.2L584.2 742.5L584.2 745.7L584.3 741.5L584.3 743.6L584.4 742.5L584.4 740.4L584.5 725.5L584.5 735.1L584.6 740.4L584.6 744.7L584.7 738.3L584.7 743.6L584.8 745.7L584.8 742.5L584.9 728.7L584.9 744.7L585.0 742.5L585.0 739.3L585.1 741.5L585.1 740.4L585.2 745.7L585.2 742.5L585.3 744.7L585.3 742.5L585.4 744.7L585.4 736.1L585.5 745.7L585.5 743.6L585.6 743.6L585.6 744.7L585.7 744.7L585.7 737.2L585.8 734.0L585.8 742.5L585.9 725.5L585.9 744.7L586.0 738.3L586.0 727.6L586.1 741.5L586.1 739.3L586.2 741.5L586.2 741.5L586.3 743.6L586.3 741.5L586.4 744.7L586.4 729.7L586.5 738.3L586.5 741.5L586.6 731.9L586.6 736.1L586.7 737.2L586.7 740.4L586.8 741.5L586.8 737.2L586.9 741.5L586.9 726.5L587.0 744.7L587.0 745.7L587.1 735.1L587.1 732.9L587.2 745.7L587.2 742.5L587.3 734.0L587.3 744.7L587.4 743.6L587.4 739.3L587.5 742.5L587.5 740.4L587.6 740.4L587.6 704.2L587.6 741.5L587.7 742.5L587.7 742.5L587.8 745.7L587.8 739.3L587.9 743.6L587.9 739.3L588.0 740.4L588.0 737.2L588.1 744.7L588.1 742.5L588.2 739.3L588.2 745.7L588.3 744.7L588.3 745.7L588.4 740.4L588.4 745.7L588.5 745.7L588.5 735.1L588.6 734.0L588.6 743.6L588.7 744.7L588.7 743.6L588.8 745.7L588.8 740.4L588.9 735.1L588.9 738.3L589.0 742.5L589.0 739.3L589.1 739.3L589.1 742.5L589.2 714.8L589.2 734.0L589.3 739.3L589.3 713.8L589.4 727.6L589.4 741.5L589.5 741.5L589.5 740.4L589.6 743.6L589.7 742.5L589.7 745.7L589.8 745.7L589.8 738.3L589.9 745.7L589.9 743.6L590.0 734.0L590.0 739.3L590.1 741.5L590.1 742.5L590.2 739.3L590.2 742.5L590.3 744.7L590.3 745.7L590.4 742.5L590.4 738.3L590.5 741.5L590.5 743.6L590.6 744.7L590.6 742.5L590.7 744.7L590.7 714.8L590.8 743.6L590.8 741.5L590.9 740.4L590.9 739.3L591.0 744.7L591.0 740.4L591.1 738.3L591.1 731.9L591.2 742.5L591.2 740.4L591.3 741.5L591.3 740.4L591.4 743.6L591.4 742.5L591.5 744.7L591.5 743.6L591.6 729.7L591.6 744.7L591.6 689.2L591.7 740.4L591.7 743.6L591.8 742.5L591.8 743.6L591.9 743.6L591.9 741.5L592.0 711.6L592.0 744.7L592.1 742.5L592.1 739.3L592.2 740.4L592.2 742.5L592.3 745.7L592.3 734.0L592.4 742.5L592.4 740.4L592.5 737.2L592.5 745.7L592.6 743.6L592.6 742.5L592.7 744.7L592.7 715.9L592.8 745.7L592.8 730.8L592.9 743.6L592.9 740.4L593.0 743.6L593.0 743.6L593.1 745.7L593.1 739.3L593.2 738.3L593.2 734.0L593.3 736.1L593.3 740.4L593.4 740.4L593.4 722.3L593.5 744.7L593.5 743.6L593.6 742.5L593.6 742.5L593.7 739.3L593.7 743.6L593.8 715.9L593.8 737.2L593.9 743.6L593.9 739.3L594.0 739.3L594.0 741.5L594.1 745.7L594.1 743.6L594.2 743.6L594.2 741.5L594.3 740.4L594.3 740.4L594.4 740.4L594.4 738.3L594.5 740.4L594.5 738.3L594.6 735.1L594.6 744.7L594.7 741.5L594.7 744.7L594.8 742.5L594.8 745.7L594.9 738.3L594.9 744.7L595.0 740.4L595.0 742.5L595.1 739.3L595.1 739.3L595.2 741.5L595.2 742.5L595.3 737.2L595.3 745.7L595.4 727.6L595.4 741.5L595.5 741.5L595.5 740.4L595.6 740.4L595.6 745.7L595.7 745.7L595.7 744.7L595.8 736.1L595.8 745.7L595.9 728.7L595.9 741.5L596.0 744.7L596.0 744.7L596.1 739.3L596.1 713.8L596.2 743.6L596.2 741.5L596.3 714.8L596.3 742.5L596.4 741.5L596.4 745.7L596.5 745.7L596.5 738.3L596.6 740.4L596.6 742.5L596.6 697.8L596.7 745.7L596.7 731.9L596.8 744.7L596.8 737.2L596.9 737.2L596.9 742.5L597.0 740.4L597.0 745.7L597.1 745.7L597.1 743.6L597.2 744.7L597.2 739.3L597.3 736.1L597.3 738.3L597.4 739.3L597.4 737.2L597.5 743.6L597.5 738.3L597.6 743.6L597.6 744.7L597.7 738.3L597.7 742.5L597.8 730.8L597.8 743.6L597.9 745.7L597.9 714.8L598.0 740.4L598.0 743.6L598.1 742.5L598.1 743.6L598.2 743.6L598.2 744.7L598.3 743.6L598.3 742.5L598.4 730.8L598.4 721.2L598.5 744.7L598.5 740.4L598.6 734.0L598.6 743.6L598.7 737.2L598.7 743.6L598.8 745.7L598.8 739.3L598.9 744.7L598.9 713.8L599.0 743.6L599.0 740.4L599.1 745.7L599.1 722.3L599.2 743.6L599.2 741.5L599.3 736.1L599.3 744.7L599.4 743.6L599.4 740.4L599.5 744.7L599.5 741.5L599.6 741.5L599.6 741.5L599.7 743.6L599.7 726.5L599.8 744.7L599.8 734.0L599.9 739.3L599.9 742.5L600.0 712.7L600.0 720.1L600.1 744.7L600.1 745.7L600.2 734.0L600.2 736.1L600.3 726.5L600.3 739.3L600.4 720.1L600.4 743.6L600.5 737.2L600.5 738.3L600.6 742.5L600.6 742.5L600.7 744.7L600.7 738.3L600.8 741.5L600.8 739.3L600.9 744.7L600.9 740.4L601.0 743.6L601.0 744.7L601.1 744.7L601.1 745.7L601.2 742.5L601.2 741.5L601.3 744.7L601.3 744.7L601.4 743.6L601.4 743.6L601.5 744.7L601.5 740.4L601.6 735.1L601.6 745.7L601.7 741.5L601.7 732.9L601.8 743.6L601.8 739.3L601.9 744.7L601.9 744.7L602.0 737.2L602.0 742.5L602.1 742.5L602.1 720.1L602.2 744.7L602.2 741.5L602.3 744.7L602.3 743.6L602.4 744.7L602.4 741.5L602.5 742.5L602.5 745.7L602.6 743.6L602.6 742.5L602.7 739.3L602.7 738.3L602.8 740.4L602.8 742.5L602.9 741.5L602.9 744.7L603.0 742.5L603.0 741.5L603.1 743.6L603.1 745.7L603.2 743.6L603.2 738.3L603.3 739.3L603.3 743.6L603.4 742.5L603.4 728.7L603.5 744.7L603.5 743.6L603.6 742.5L603.6 731.9L603.7 740.4L603.7 742.5L603.8 734.0L603.8 737.2L603.9 743.6L603.9 732.9L604.0 740.4L604.0 743.6L604.1 744.7L604.1 731.9L604.2 739.3L604.2 729.7L604.3 741.5L604.3 735.1L604.4 744.7L604.4 741.5L604.5 743.6L604.5 734.0L604.6 743.6L604.6 742.5L604.6 709.5L604.7 742.5L604.7 741.5L604.8 741.5L604.8 743.6L604.9 741.5L604.9 744.7L605.0 740.4L605.0 740.4L605.1 745.7L605.1 738.3L605.2 742.5L605.2 735.1L605.3 742.5L605.3 742.5L605.4 742.5L605.4 735.1L605.5 743.6L605.5 739.3L605.6 732.9L605.6 741.5L605.7 743.6L605.7 744.7L605.8 741.5L605.8 736.1L605.9 745.7L605.9 743.6L606.0 741.5L606.0 744.7L606.1 745.7L606.1 743.6L606.2 741.5L606.2 744.7L606.3 736.1L606.3 744.7L606.4 741.5L606.4 743.6L606.5 739.3L606.5 745.7L606.6 740.4L606.6 731.9L606.7 743.6L606.7 745.7L606.8 736.1L606.8 743.6L606.9 737.2L606.9 742.5L607.0 730.8L607.0 741.5L607.1 741.5L607.1 738.3L607.2 740.4L607.2 742.5L607.3 745.7L607.3 741.5L607.4 745.7L607.4 739.3L607.5 732.9L607.5 742.5L607.6 741.5L607.6 738.3L607.7 745.7L607.7 743.6L607.8 742.5L607.8 741.5L607.9 741.5L607.9 736.1L608.0 742.5L608.0 744.7L608.1 744.7L608.1 742.5L608.2 742.5L608.2 742.5L608.3 739.3L608.3 739.3L608.4 741.5L608.4 737.2L608.5 742.5L608.5 741.5L608.6 740.4L608.6 743.6L608.7 719.1L608.7 735.1L608.8 743.6L608.8 742.5L608.9 740.4L608.9 740.4L609.0 740.4L609.0 740.4L609.1 740.4L609.1 738.3L609.2 740.4L609.2 745.7L609.3 744.7L609.3 745.7L609.4 744.7L609.4 741.5L609.5 743.6L609.5 743.6L609.6 741.5L609.6 742.5L609.7 741.5L609.7 743.6L609.8 741.5L609.8 734.0L609.9 744.7L609.9 740.4L610.0 725.5L610.0 740.4L610.1 739.3L610.1 739.3L610.2 724.4L610.2 742.5L610.3 743.6L610.3 744.7L610.4 730.8L610.4 734.0L610.5 719.1L610.5 737.2L610.6 736.1L610.6 741.5L610.7 737.2L610.7 730.8L610.8 739.3L610.8 741.5L610.9 723.3L610.9 719.1L611.0 736.1L611.0 727.6L611.1 741.5L611.1 707.4L611.2 741.5L611.2 730.8L611.3 745.7L611.3 728.7L611.4 738.3L611.4 731.9L611.5 742.5L611.5 729.7L611.6 745.7L611.6 735.1L611.7 740.4L611.7 738.3L611.8 728.7L611.8 725.5L611.9 741.5L611.9 742.5L612.0 743.6L612.0 739.3L612.1 740.4L612.1 737.2L612.2 742.5L612.2 741.5L612.3 741.5L612.3 743.6L612.4 742.5L612.4 734.0L612.5 736.1L612.5 740.4L612.6 727.6L612.6 743.6L612.7 739.3L612.7 732.9L612.8 743.6L612.8 714.8L612.9 742.5L612.9 741.5L613.0 736.1L613.0 741.5L613.1 739.3L613.1 735.1L613.2 741.5L613.2 724.4L613.3 730.8L613.3 737.2L613.4 741.5L613.4 726.5L613.5 736.1L613.5 734.0L613.6 735.1L613.6 728.7L613.6 698.8L613.7 744.7L613.7 726.5L613.8 702.0L613.8 744.7L613.9 739.3L613.9 730.8L614.0 710.6L614.0 742.5L614.1 717.0L614.1 720.1L614.2 734.0L614.2 731.9L614.3 739.3L614.3 739.3L614.4 707.4L614.4 728.7L614.5 741.5L614.5 737.2L614.6 737.2L614.6 739.3L614.6 695.6L614.7 740.4L614.8 734.0L614.8 740.4L614.9 734.0L614.9 729.7L615.0 707.4L615.0 717.0L615.1 707.4L615.1 738.3L615.2 730.8L615.2 743.6L615.3 745.7L615.3 739.3L615.4 731.9L615.4 744.7L615.5 727.6L615.5 740.4L615.6 739.3L615.6 744.7L615.7 742.5L615.7 683.9L615.7 578.5L615.7 740.4L615.8 725.5L615.8 743.6L615.9 734.0L615.9 727.6L616.0 741.5L616.0 729.7L616.1 735.1L616.1 739.3L616.2 734.0L616.2 742.5L616.3 717.0L616.3 742.5L616.4 730.8L616.4 744.7L616.5 739.3L616.5 728.7L616.6 742.5L616.6 744.7L616.7 737.2L616.7 725.5L616.8 743.6L616.8 734.0L616.9 723.3L616.9 739.3L617.0 715.9L617.0 738.3L617.1 734.0L617.1 734.0L617.2 738.3L617.2 702.0L617.2 741.5L617.3 727.6L617.3 740.4L617.4 740.4L617.4 740.4L617.5 743.6L617.5 728.7L617.6 739.3L617.6 738.3L617.7 730.8L617.7 732.9L617.8 735.1L617.8 734.0L617.9 740.4L617.9 712.7L618.0 745.7L618.0 742.5L618.1 741.5L618.1 738.3L618.2 741.5L618.2 741.5L618.3 741.5L618.3 738.3L618.4 738.3L618.4 729.7L618.5 742.5L618.5 732.9L618.6 737.2L618.6 730.8L618.7 738.3L618.7 721.2L618.8 742.5L618.8 741.5L618.9 741.5L618.9 726.5L619.0 743.6L619.0 737.2L619.1 743.6L619.1 745.7L619.2 734.0L619.2 663.7L619.2 742.5L619.3 745.7L619.3 737.2L619.4 731.9L619.4 739.3L619.5 740.4L619.5 742.5L619.6 740.4L619.6 738.3L619.7 722.3L619.7 736.1L619.8 731.9L619.8 739.3L619.9 738.3L619.9 736.1L620.0 740.4L620.0 735.1L620.1 739.3L620.1 732.9L620.2 734.0L620.2 739.3L620.3 730.8L620.3 742.5L620.4 734.0L620.4 744.7L620.5 729.7L620.5 734.0L620.6 739.3L620.6 741.5L620.7 742.5L620.7 744.7L620.8 742.5L620.8 744.7L620.9 742.5L620.9 737.2L621.0 744.7L621.0 744.7L621.1 742.5L621.1 744.7L621.2 743.6L621.2 745.7L621.3 740.4L621.3 745.7L621.4 745.7L621.4 736.1L621.5 743.6L621.5 739.3L621.6 742.5L621.6 742.5L621.7 739.3L621.7 743.6L621.8 744.7L621.8 715.9L621.9 738.3L621.9 742.5L622.0 740.4L622.0 742.5L622.1 744.7L622.1 739.3L622.2 742.5L622.2 742.5L622.3 719.1L622.3 737.2L622.4 727.6L622.4 736.1L622.5 745.7L622.5 744.7L622.6 738.3L622.6 734.0L622.7 734.0L622.7 739.3L622.8 737.2L622.8 742.5L622.9 744.7L622.9 740.4L623.0 743.6L623.0 742.5L623.1 741.5L623.1 740.4L623.2 736.1L623.2 741.5L623.3 742.5L623.3 739.3L623.4 744.7L623.4 741.5L623.5 738.3L623.5 740.4L623.6 741.5L623.6 742.5L623.7 736.1L623.7 739.3L623.8 740.4L623.8 744.7L623.9 742.5L623.9 728.7L624.0 729.7L624.0 743.6L624.1 741.5L624.1 741.5L624.2 714.8L624.2 745.7L624.3 741.5L624.3 745.7L624.4 732.9L624.4 743.6L624.5 739.3L624.5 745.7L624.6 726.5L624.6 742.5L624.7 740.4L624.7 714.8L624.7 739.3L624.8 742.5L624.8 740.4L624.9 740.4L624.9 741.5L625.0 737.2L625.0 735.1L625.1 739.3L625.1 743.6L625.2 735.1L625.2 737.2L625.3 741.5L625.3 740.4L625.4 735.1L625.4 740.4L625.5 740.4L625.5 744.7L625.6 732.9L625.6 738.3L625.7 740.4L625.7 741.5L625.8 744.7L625.8 735.1L625.9 726.5L625.9 739.3L626.0 729.7L626.0 712.7L626.1 731.9L626.1 744.7L626.2 717.0L626.2 742.5L626.3 741.5L626.3 742.5L626.4 740.4L626.4 743.6L626.5 741.5L626.5 732.9L626.6 744.7L626.6 745.7L626.7 740.4L626.7 743.6L626.8 726.5L626.8 742.5L626.9 743.6L626.9 743.6L627.0 739.3L627.0 741.5L627.1 739.3L627.1 741.5L627.2 744.7L627.2 744.7L627.3 740.4L627.3 745.7L627.4 744.7L627.4 743.6L627.5 728.7L627.5 739.3L627.6 738.3L627.6 739.3L627.7 742.5L627.7 743.6L627.8 739.3L627.8 741.5L627.9 738.3L627.9 744.7L628.0 740.4L628.0 744.7L628.1 741.5L628.1 743.6L628.2 730.8L628.2 744.7L628.3 740.4L628.3 739.3L628.4 734.0L628.4 742.5L628.5 738.3L628.5 744.7L628.6 743.6L628.6 740.4L628.7 743.6L628.7 743.6L628.8 735.1L628.8 739.3L628.9 742.5L628.9 735.1L629.0 742.5L629.0 740.4L629.1 740.4L629.1 743.6L629.2 737.2L629.2 742.5L629.3 735.1L629.3 742.5L629.4 742.5L629.4 736.1L629.5 739.3L629.5 740.4L629.6 735.1L629.6 743.6L629.7 744.7L629.7 744.7L629.8 743.6L629.8 739.3L629.9 744.7L629.9 745.7L630.0 743.6L630.0 736.1L630.1 734.0L630.1 741.5L630.2 737.2L630.2 732.9L630.3 742.5L630.3 740.4L630.4 742.5L630.4 744.7L630.5 739.3L630.5 743.6L630.6 741.5L630.6 740.4L630.7 741.5L630.7 742.5L630.8 739.3L630.8 743.6L630.9 741.5L630.9 742.5L631.0 735.1L631.0 740.4L631.1 744.7L631.1 744.7L631.2 648.0L631.2 717.0L631.2 736.1L631.3 719.1L631.3 745.7L631.4 743.6L631.4 744.7L631.5 743.6L631.5 742.5L631.6 744.7L631.6 737.2L631.7 675.4L631.7 741.5L631.7 741.5L631.8 726.5L631.8 741.5L631.9 744.7L631.9 738.3L632.0 744.7L632.0 739.3L632.1 741.5L632.1 745.7L632.2 742.5L632.2 734.0L632.3 742.5L632.3 741.5L632.4 743.6L632.4 741.5L632.5 745.7L632.5 739.3L632.6 734.0L632.6 740.4L632.7 743.6L632.7 743.6L632.8 741.5L632.8 743.6L632.9 745.7L632.9 720.1L633.0 744.7L633.0 742.5L633.1 738.3L633.1 742.5L633.2 740.4L633.2 738.3L633.3 741.5L633.3 744.7L633.4 743.6L633.4 740.4L633.5 738.3L633.5 738.3L633.6 744.7L633.6 742.5L633.7 742.5L633.7 738.3L633.8 744.7L633.8 742.5L633.9 743.6L633.9 737.2L634.0 736.1L634.0 734.0L634.1 737.2L634.1 744.7L634.2 741.5L634.2 742.5L634.3 744.7L634.3 734.0L634.4 744.7L634.4 738.3L634.5 742.5L634.5 744.7L634.6 742.5L634.6 742.5L634.7 742.5L634.7 745.7L634.8 741.5L634.8 738.3L634.9 742.5L634.9 740.4L635.0 725.5L635.0 739.3L635.1 743.6L635.1 743.6L635.2 743.6L635.2 740.4L635.3 743.6L635.3 745.7L635.4 742.5L635.4 741.5L635.5 740.4L635.5 745.7L635.6 736.1L635.6 738.3L635.7 744.7L635.7 743.6L635.8 715.9L635.8 731.9L635.9 744.7L635.9 740.4L636.0 743.6L636.0 742.5L636.1 738.3L636.1 744.7L636.2 741.5L636.2 739.3L636.3 744.7L636.3 744.7L636.4 736.1L636.4 744.7L636.5 744.7L636.5 745.7L636.6 738.3L636.6 745.7L636.7 742.5L636.7 742.5L636.8 739.3L636.8 744.7L636.9 744.7L636.9 739.3L637.0 739.3L637.0 732.9L637.1 744.7L637.1 742.5L637.2 744.7L637.2 742.5L637.3 744.7L637.3 741.5L637.4 742.5L637.4 734.0L637.5 743.6L637.5 743.6L637.6 745.7L637.6 745.7L637.7 736.1L637.7 720.1L637.8 740.4L637.8 719.1L637.9 743.6L637.9 742.5L638.0 742.5L638.0 738.3L638.1 741.5L638.1 742.5L638.2 743.6L638.2 740.4L638.3 739.3L638.3 742.5L638.4 740.4L638.4 740.4L638.5 744.7L638.5 718.0L638.6 739.3L638.6 741.5L638.7 745.7L638.7 743.6L638.8 735.1L638.8 740.4L638.9 739.3L638.9 740.4L639.0 745.7L639.0 743.6L639.1 744.7L639.1 745.7L639.2 738.3L639.2 741.5L639.3 738.3L639.3 740.4L639.4 742.5L639.4 741.5L639.5 742.5L639.5 740.4L639.6 742.5L639.6 718.0L639.7 741.5L639.8 743.6L639.8 741.5L639.9 743.6L639.9 714.8L640.0 732.9L640.0 744.7L640.1 745.7L640.1 745.7L640.2 725.5L640.2 745.7L640.3 743.6L640.3 738.3L640.4 744.7L640.4 745.7L640.5 744.7L640.5 742.5L640.6 737.2L640.6 741.5L640.7 741.5L640.7 745.7L640.8 744.7L640.8 739.3L640.9 736.1L640.9 742.5L641.0 742.5L641.0 744.7L641.1 741.5L641.1 743.6L641.2 736.1L641.2 722.3L641.3 727.6L641.3 743.6L641.4 736.1L641.4 742.5L641.5 740.4L641.5 744.7L641.6 737.2L641.6 734.0L641.7 740.4L641.7 742.5L641.8 742.5L641.8 742.5L641.9 740.4L641.9 742.5L642.0 742.5L642.0 708.4L642.1 737.2L642.1 745.7L642.2 735.1L642.2 739.3L642.3 727.6L642.3 743.6L642.4 730.8L642.4 742.5L642.5 744.7L642.5 744.7L642.6 740.4L642.6 739.3L642.7 732.9L642.7 744.7L642.8 744.7L642.8 729.7L642.9 736.1L642.9 743.6L643.0 741.5L643.0 738.3L643.1 741.5L643.1 743.6L643.2 731.9L643.2 740.4L643.3 741.5L643.3 745.7L643.4 745.7L643.4 743.6L643.5 740.4L643.5 742.5L643.6 739.3L643.6 737.2L643.7 744.7L643.7 699.9L643.7 712.7L643.8 741.5L643.8 740.4L643.9 740.4L643.9 740.4L644.0 735.1L644.0 742.5L644.1 745.7L644.1 743.6L644.2 742.5L644.2 742.5L644.3 736.1L644.3 742.5L644.4 734.0L644.4 744.7L644.5 740.4L644.5 745.7L644.6 745.7L644.6 738.3L644.7 741.5L644.7 742.5L644.8 744.7L644.8 743.6L644.9 741.5L644.9 738.3L645.0 742.5L645.0 739.3L645.1 738.3L645.1 743.6L645.2 737.2L645.2 744.7L645.3 735.1L645.3 737.2L645.4 739.3L645.4 738.3L645.5 743.6L645.5 735.1L645.6 743.6L645.6 740.4L645.7 740.4L645.7 744.7L645.8 741.5L645.8 742.5L645.9 739.3L645.9 734.0L646.0 745.7L646.0 735.1L646.1 745.7L646.1 740.4L646.2 743.6L646.2 737.2L646.3 745.7L646.3 740.4L646.4 737.2L646.4 734.0L646.5 745.7L646.5 737.2L646.6 742.5L646.6 742.5L646.7 744.7L646.7 738.3L646.8 745.7L646.8 738.3L646.9 743.6L646.9 730.8L647.0 745.7L647.0 732.9L647.1 740.4L647.1 743.6L647.2 743.6L647.2 720.1L647.2 740.4L647.3 745.7L647.3 738.3L647.4 742.5L647.4 735.1L647.5 737.2L647.5 743.6L647.6 744.7L647.6 737.2L647.7 743.6L647.7 737.2L647.8 737.2L647.8 739.3L647.9 734.0L647.9 743.6L648.0 743.6L648.0 743.6L648.1 738.3L648.1 738.3L648.2 743.6L648.2 742.5L648.3 743.6L648.3 740.4L648.4 730.8L648.4 741.5L648.5 740.4L648.5 744.7L648.6 739.3L648.6 734.0L648.7 714.8" stroke="#2f5da8" stroke-opacity="0.75" stroke-width="0.5" fill="none"/>
<path d="M389.2 741.5h0M389.3 743.6h0M389.3 742.5h0M389.4 742.5h0M389.4 744.7h0M389.5 744.7h0M389.5 736.1h0M389.6 744.7h0M389.6 740.4h0M389.7 740.4h0M389.7 744.7h0M389.8 728.7h0M389.8 743.6h0M389.9 744.7h0M389.9 744.7h0M390.0 743.6h0M390.0 743.6h0M390.1 743.6h0M390.1 744.7h0M390.2 742.5h0M390.2 743.6h0M390.3 743.6h0M390.3 742.5h0M390.4 744.7h0M390.4 740.4h0M390.5 741.5h0M390.5 742.5h0M390.6 724.4h0M390.6 741.5h0M390.7 743.6h0M390.7 745.7h0M390.8 744.7h0M390.8 738.3h0M390.9 741.5h0M390.9 742.5h0M391.0 728.7h0M391.0 740.4h0M391.1 742.5h0M391.1 742.5h0M391.2 738.3h0M391.2 744.7h0M391.3 732.9h0M391.3 737.2h0M391.4 736.1h0M391.4 734.0h0M391.5 739.3h0M391.5 741.5h0M391.6 738.3h0M391.6 742.5h0M391.7 737.2h0M391.7 723.3h0M391.7 740.4h0M391.8 730.8h0M391.8 737.2h0M391.9 743.6h0M391.9 737.2h0M392.0 734.0h0M392.0 745.7h0M392.1 738.3h0M392.1 738.3h0M392.2 744.7h0M392.2 741.5h0M392.3 739.3h0M392.3 745.7h0M392.4 741.5h0M392.4 742.5h0M392.5 744.7h0M392.5 739.3h0M392.6 741.5h0M392.6 742.5h0M392.7 739.3h0M392.7 738.3h0M392.8 739.3h0M392.8 738.3h0M392.9 741.5h0M392.9 739.3h0M393.0 740.4h0M393.0 742.5h0M393.1 738.3h0M393.1 720.1h0M393.2 739.3h0M393.2 745.7h0M393.3 736.1h0M393.3 728.7h0M393.4 742.5h0M393.4 742.5h0M393.5 739.3h0M393.5 737.2h0M393.6 731.9h0M393.6 728.7h0M393.7 737.2h0M393.7 741.5h0M393.8 745.7h0M393.8 738.3h0M393.9 744.7h0M393.9 724.4h0M394.0 743.6h0M394.0 736.1h0M394.1 738.3h0M394.1 744.7h0M394.2 744.7h0M394.2 738.3h0M394.3 737.2h0M394.3 739.3h0M394.4 744.7h0M394.4 742.5h0M394.5 744.7h0M394.5 737.2h0M394.6 739.3h0M394.6 743.6h0M394.7 730.8h0M394.7 744.7h0M394.8 744.7h0M394.8 725.5h0M394.9 741.5h0M394.9 741.5h0M395.0 744.7h0M395.0 743.6h0M395.1 732.9h0M395.1 742.5h0M395.2 745.7h0M395.2 718.0h0M395.2 745.7h0M395.3 740.4h0M395.3 742.5h0M395.4 742.5h0M395.4 737.2h0M395.5 739.3h0M395.5 729.7h0M395.6 742.5h0M395.6 741.5h0M395.7 732.9h0M395.7 726.5h0M395.8 745.7h0M395.8 741.5h0M395.9 742.5h0M395.9 735.1h0M396.0 743.6h0M396.0 738.3h0M396.1 720.1h0M396.1 730.8h0M396.2 743.6h0M396.2 740.4h0M396.3 728.7h0M396.3 741.5h0M396.4 736.1h0M396.4 743.6h0M396.5 744.7h0M396.5 744.7h0M396.6 741.5h0M396.6 734.0h0M396.7 745.7h0M396.7 721.2h0M396.7 725.5h0M396.8 744.7h0M396.8 743.6h0M396.9 740.4h0M396.9 732.9h0M397.0 743.6h0M397.0 736.1h0M397.1 734.0h0M397.1 745.7h0M397.2 745.7h0M397.2 731.9h0M397.3 742.5h0M397.3 742.5h0M397.4 744.7h0M397.4 741.5h0M397.5 745.7h0M397.5 743.6h0M397.6 738.3h0M397.6 743.6h0M397.7 744.7h0M397.7 741.5h0M397.8 743.6h0M397.8 745.7h0M397.9 732.9h0M397.9 730.8h0M398.0 743.6h0M398.0 741.5h0M398.1 742.5h0M398.1 732.9h0M398.2 731.9h0M398.2 744.7h0M398.3 744.7h0M398.3 744.7h0M398.4 742.5h0M398.4 735.1h0M398.5 740.4h0M398.5 737.2h0M398.6 722.3h0M398.6 745.7h0M398.7 740.4h0M398.7 737.2h0M398.8 742.5h0M398.8 740.4h0M398.9 744.7h0M398.9 734.0h0M399.0 735.1h0M399.0 730.8h0M399.1 743.6h0M399.1 743.6h0M399.2 741.5h0M399.2 714.8h0M399.2 723.3h0M399.3 741.5h0M399.3 739.3h0M399.4 742.5h0M399.4 738.3h0M399.5 744.7h0M399.5 726.5h0M399.6 741.5h0M399.6 742.5h0M399.7 739.3h0M399.7 743.6h0M399.8 737.2h0M399.8 740.4h0M399.9 742.5h0M399.9 736.1h0M400.0 744.7h0M400.0 744.7h0M400.1 744.7h0M400.1 731.9h0M400.2 719.1h0M400.2 695.6h0M400.2 743.6h0M400.3 737.2h0M400.3 741.5h0M400.4 744.7h0M400.4 737.2h0M400.5 734.0h0M400.5 744.7h0M400.6 735.1h0M400.6 742.5h0M400.7 732.9h0M400.7 742.5h0M400.8 745.7h0M400.8 737.2h0M400.9 744.7h0M400.9 740.4h0M401.0 744.7h0M401.0 745.7h0M401.1 745.7h0M401.1 741.5h0M401.2 743.6h0M401.2 740.4h0M401.3 740.4h0M401.3 734.0h0M401.4 745.7h0M401.4 727.6h0M401.5 742.5h0M401.5 734.0h0M401.6 741.5h0M401.6 742.5h0M401.7 743.6h0M401.7 712.7h0M401.7 742.5h0M401.8 730.8h0M401.8 744.7h0M401.9 743.6h0M401.9 735.1h0M402.0 744.7h0M402.0 744.7h0M402.1 742.5h0M402.1 739.3h0M402.2 731.9h0M402.2 741.5h0M402.3 740.4h0M402.3 742.5h0M402.4 740.4h0M402.4 710.6h0M402.5 744.7h0M402.5 741.5h0M402.6 741.5h0M402.6 739.3h0M402.7 742.5h0M402.7 743.6h0M402.8 744.7h0M402.8 743.6h0M402.9 743.6h0M402.9 741.5h0M403.0 743.6h0M403.0 729.7h0M403.1 737.2h0M403.1 741.5h0M403.2 741.5h0M403.2 736.1h0M403.3 739.3h0M403.3 742.5h0M403.4 729.7h0M403.4 743.6h0M403.5 741.5h0M403.5 742.5h0M403.6 742.5h0M403.6 742.5h0M403.7 744.7h0M403.7 741.5h0M403.8 743.6h0M403.8 740.4h0M403.9 745.7h0M403.9 740.4h0M404.0 743.6h0M404.0 743.6h0M404.1 743.6h0M404.1 740.4h0M404.2 744.7h0M404.2 702.0h0M404.2 744.7h0M404.3 742.5h0M404.3 734.0h0M404.4 742.5h0M404.4 728.7h0M404.5 742.5h0M404.5 741.5h0M404.6 735.1h0M404.6 741.5h0M404.7 738.3h0M404.7 742.5h0M404.8 743.6h0M404.8 744.7h0M404.9 742.5h0M404.9 727.6h0M405.0 737.2h0M405.0 744.7h0M405.1 738.3h0M405.1 732.9h0M405.2 744.7h0M405.2 741.5h0M405.3 739.3h0M405.3 734.0h0M405.4 743.6h0M405.4 743.6h0M405.5 732.9h0M405.5 736.1h0M405.6 739.3h0M405.6 738.3h0M405.7 742.5h0M405.7 742.5h0M405.8 730.8h0M405.8 728.7h0M405.9 730.8h0M405.9 735.1h0M406.0 738.3h0M406.0 740.4h0M406.1 720.1h0M406.1 745.7h0M406.2 743.6h0M406.2 737.2h0M406.3 741.5h0M406.3 743.6h0M406.4 742.5h0M406.4 744.7h0M406.5 731.9h0M406.5 745.7h0M406.6 743.6h0M406.6 725.5h0M406.7 742.5h0M406.7 719.1h0M406.7 736.1h0M406.8 738.3h0M406.8 738.3h0M406.9 743.6h0M406.9 738.3h0M407.0 742.5h0M407.0 744.7h0M407.1 737.2h0M407.1 728.7h0M407.2 740.4h0M407.2 744.7h0M407.3 731.9h0M407.3 739.3h0M407.4 735.1h0M407.4 722.3h0M407.5 738.3h0M407.5 731.9h0M407.6 739.3h0M407.6 735.1h0M407.7 730.8h0M407.7 742.5h0M407.8 742.5h0M407.8 739.3h0M407.9 741.5h0M407.9 745.7h0M408.0 740.4h0M408.0 744.7h0M408.1 744.7h0M408.1 726.5h0M408.2 737.2h0M408.2 744.7h0M408.3 740.4h0M408.3 744.7h0M408.4 744.7h0M408.4 742.5h0M408.5 744.7h0M408.5 744.7h0M408.6 737.2h0M408.6 737.2h0M408.7 745.7h0M408.7 743.6h0M408.8 742.5h0M408.8 739.3h0M408.9 738.3h0M408.9 744.7h0M409.0 742.5h0M409.0 739.3h0M409.1 744.7h0M409.1 738.3h0M409.2 745.7h0M409.2 742.5h0M409.3 728.7h0M409.3 740.4h0M409.4 744.7h0M409.4 732.9h0M409.5 741.5h0M409.5 744.7h0M409.6 741.5h0M409.6 741.5h0M409.7 743.6h0M409.7 738.3h0M409.8 745.7h0M409.8 743.6h0M409.9 740.4h0M409.9 742.5h0M410.0 731.9h0M410.0 745.7h0M410.1 720.1h0M410.1 725.5h0M410.2 744.7h0M410.2 703.1h0M410.2 742.5h0M410.3 744.7h0M410.3 743.6h0M410.4 743.6h0M410.4 745.7h0M410.5 729.7h0M410.5 741.5h0M410.6 745.7h0M410.6 743.6h0M410.7 740.4h0M410.7 739.3h0M410.8 742.5h0M410.8 729.7h0M410.9 744.7h0M410.9 738.3h0M411.0 744.7h0M411.0 738.3h0M411.1 739.3h0M411.1 742.5h0M411.2 739.3h0M411.2 737.2h0M411.3 707.4h0M411.3 739.3h0M411.4 742.5h0M411.4 739.3h0M411.5 741.5h0M411.5 731.9h0M411.6 743.6h0M411.6 736.1h0M411.7 743.6h0M411.7 744.7h0M411.8 742.5h0M411.8 741.5h0M411.9 725.5h0M411.9 745.7h0M412.0 739.3h0M412.0 743.6h0M412.1 741.5h0M412.1 744.7h0M412.2 728.7h0M412.2 732.9h0M412.3 740.4h0M412.3 731.9h0M412.4 738.3h0M412.4 736.1h0M412.5 744.7h0M412.5 736.1h0M412.6 734.0h0M412.6 731.9h0M412.7 740.4h0M412.7 727.6h0M412.8 740.4h0M412.8 739.3h0M412.9 734.0h0M412.9 739.3h0M413.0 743.6h0M413.0 744.7h0M413.1 743.6h0M413.1 741.5h0M413.2 743.6h0M413.2 739.3h0M413.3 738.3h0M413.3 742.5h0M413.4 743.6h0M413.4 741.5h0M413.5 744.7h0M413.5 741.5h0M413.6 742.5h0M413.6 736.1h0M413.7 743.6h0M413.7 745.7h0M413.8 740.4h0M413.8 744.7h0M413.9 740.4h0M413.9 737.2h0M414.0 728.7h0M414.0 737.2h0M414.1 742.5h0M414.1 729.7h0M414.2 745.7h0M414.2 730.8h0M414.2 739.3h0M414.3 744.7h0M414.4 741.5h0M414.4 740.4h0M414.5 740.4h0M414.5 744.7h0M414.6 745.7h0M414.6 743.6h0M414.7 742.5h0M414.7 729.7h0M414.8 744.7h0M414.8 735.1h0M414.9 736.1h0M414.9 732.9h0M415.0 741.5h0M415.0 740.4h0M415.1 741.5h0M415.1 742.5h0M415.2 738.3h0M415.2 737.2h0M415.3 741.5h0M415.3 738.3h0M415.4 736.1h0M415.4 737.2h0M415.5 737.2h0M415.5 737.2h0M415.6 743.6h0M415.6 739.3h0M415.7 736.1h0M415.7 742.5h0M415.8 742.5h0M415.8 740.4h0M415.9 743.6h0M415.9 739.3h0M416.0 738.3h0M416.0 740.4h0M416.1 742.5h0M416.1 744.7h0M416.2 735.1h0M416.2 739.3h0M416.3 739.3h0M416.3 737.2h0M416.4 743.6h0M416.4 744.7h0M416.5 741.5h0M416.5 739.3h0M416.6 744.7h0M416.6 741.5h0M416.7 742.5h0M416.7 743.6h0M416.8 743.6h0M416.8 743.6h0M416.9 742.5h0M416.9 743.6h0M417.0 729.7h0M417.0 723.3h0M417.1 738.3h0M417.1 743.6h0M417.2 743.6h0M417.2 745.7h0M417.3 744.7h0M417.3 739.3h0M417.4 743.6h0M417.4 731.9h0M417.5 744.7h0M417.5 741.5h0M417.6 744.7h0M417.6 743.6h0M417.7 745.7h0M417.7 743.6h0M434.3 745.7h0M435.8 745.7h0M437.3 745.7h0M439.3 745.7h0M440.8 745.7h0M442.3 745.7h0M444.3 745.7h0M445.8 745.7h0M451.8 745.7h0M452.3 739.3h0M452.8 745.7h0M452.8 741.5h0M453.3 743.6h0M454.3 745.7h0M464.4 745.7h0M466.9 734.0h0M466.9 742.5h0M467.0 745.7h0M467.0 745.7h0M467.1 737.2h0M467.1 745.7h0M467.2 743.6h0M467.2 744.7h0M467.3 744.7h0M467.3 743.6h0M467.4 744.7h0M467.4 744.7h0M467.5 744.7h0M467.5 738.3h0M467.6 744.7h0M467.6 744.7h0M467.7 741.5h0M467.7 744.7h0M467.8 743.6h0M467.8 744.7h0M467.9 737.2h0M467.9 744.7h0M468.0 743.6h0M468.0 744.7h0M468.1 743.6h0M468.1 743.6h0M468.2 745.7h0M468.2 741.5h0M468.3 739.3h0M468.3 742.5h0M468.4 743.6h0M468.4 744.7h0M468.5 744.7h0M468.5 745.7h0M468.6 744.7h0M468.6 745.7h0M468.7 736.1h0M468.7 744.7h0M468.8 743.6h0M468.8 739.3h0M468.9 744.7h0M468.9 744.7h0M469.0 743.6h0M469.0 742.5h0M469.1 743.6h0M469.1 745.7h0M469.2 743.6h0M469.2 744.7h0M469.3 744.7h0M469.3 742.5h0M469.4 742.5h0M469.4 737.2h0M469.5 736.1h0M469.5 741.5h0M469.6 742.5h0M469.6 737.2h0M469.7 729.7h0M469.7 742.5h0M469.8 732.9h0M469.8 737.2h0M469.9 736.1h0M469.9 718.0h0M470.0 730.8h0M470.0 734.0h0M470.1 744.7h0M470.1 743.6h0M470.2 741.5h0M470.2 730.8h0M470.3 744.7h0M470.3 744.7h0M470.4 734.0h0M470.4 741.5h0M470.5 734.0h0M470.5 740.4h0M470.6 739.3h0M470.6 736.1h0M470.7 732.9h0M470.7 743.6h0M470.8 739.3h0M470.8 735.1h0M470.9 743.6h0M470.9 700.4h0M470.9 694.6h0M471.0 743.6h0M471.0 738.3h0M471.1 740.4h0M471.1 742.5h0M471.2 743.6h0M471.2 704.2h0M471.3 741.5h0M471.3 730.8h0M471.4 727.6h0M471.4 721.2h0M471.5 735.1h0M471.5 734.0h0M471.6 740.4h0M471.6 741.5h0M471.7 739.3h0M471.7 745.7h0M471.8 743.6h0M471.8 726.5h0M471.9 744.7h0M471.9 740.4h0M472.0 739.3h0M472.0 729.7h0M472.1 734.0h0M472.1 736.1h0M472.2 699.9h0M472.2 743.6h0M472.3 736.1h0M472.3 738.3h0M472.4 742.5h0M472.4 741.5h0M472.5 741.5h0M472.5 740.4h0M472.6 739.3h0M472.6 732.9h0M472.7 738.3h0M472.7 741.5h0M472.8 743.6h0M472.8 741.5h0M472.9 738.3h0M472.9 742.5h0M473.0 745.7h0M473.0 740.4h0M473.1 736.1h0M473.1 739.3h0M473.2 742.5h0M473.2 744.7h0M473.3 730.8h0M473.3 732.9h0M473.4 739.3h0M473.4 734.0h0M473.5 722.3h0M473.5 738.3h0M473.6 736.1h0M473.6 732.9h0M473.7 741.5h0M473.7 734.0h0M473.8 742.5h0M473.8 737.2h0M473.9 702.0h0M473.9 730.8h0M474.0 735.1h0M474.0 718.0h0M474.1 739.3h0M474.1 732.9h0M474.2 743.6h0M474.2 743.6h0M474.3 732.9h0M474.3 737.2h0M474.4 739.3h0M474.4 674.3h0M474.4 735.1h0M474.5 736.1h0M474.5 739.3h0M474.6 735.1h0M474.6 732.9h0M474.7 727.6h0M474.7 735.1h0M474.8 736.1h0M474.8 744.7h0M474.9 728.7h0M474.9 651.9h0M474.9 627.8h0M474.9 612.9h0M474.9 742.5h0M475.0 738.3h0M475.0 730.8h0M475.1 742.5h0M475.1 735.1h0M475.2 737.2h0M475.2 744.7h0M475.3 732.9h0M475.3 744.7h0M475.4 738.3h0M475.4 727.6h0M475.5 728.7h0M475.5 743.6h0M475.6 743.6h0M475.6 732.9h0M475.7 711.6h0M475.7 743.6h0M475.8 715.9h0M475.8 741.5h0M475.9 740.4h0M475.9 743.6h0M476.0 742.5h0M476.0 725.5h0M476.1 744.7h0M476.1 744.7h0M476.2 743.6h0M476.2 744.7h0M476.3 739.3h0M476.3 744.7h0M476.4 741.5h0M476.4 705.2h0M476.5 743.6h0M476.5 743.6h0M476.6 742.5h0M476.6 737.2h0M476.7 737.2h0M476.7 707.4h0M476.8 743.6h0M476.8 725.5h0M476.9 740.4h0M476.9 682.8h0M476.9 741.5h0M477.0 742.5h0M477.0 729.7h0M477.1 742.5h0M477.1 740.4h0M477.2 736.1h0M477.2 741.5h0M477.3 727.6h0M477.3 740.4h0M477.4 730.8h0M477.4 720.1h0M477.5 740.4h0M477.5 742.5h0M477.6 742.5h0M477.6 732.9h0M477.7 741.5h0M477.7 729.7h0M477.8 743.6h0M477.8 739.3h0M477.9 732.9h0M477.9 735.1h0M478.0 715.9h0M478.0 730.8h0M478.1 734.0h0M478.1 742.5h0M478.2 741.5h0M478.2 740.4h0M478.3 725.5h0M478.3 739.3h0M478.4 721.2h0M478.4 688.2h0M478.4 736.1h0M478.5 732.9h0M478.5 731.9h0M478.6 742.5h0M478.6 731.9h0M478.7 740.4h0M478.7 735.1h0M478.8 740.4h0M478.8 741.5h0M478.9 737.2h0M478.9 734.0h0M479.0 734.0h0M479.0 717.0h0M479.1 732.9h0M479.1 744.7h0M479.2 745.7h0M479.2 743.6h0M479.3 735.1h0M479.3 734.0h0M479.4 735.1h0M479.4 743.6h0M479.5 741.5h0M479.5 725.5h0M479.6 735.1h0M479.6 737.2h0M479.7 738.3h0M479.7 729.7h0M479.8 743.6h0M479.8 743.6h0M479.9 742.5h0M479.9 744.7h0M480.0 743.6h0M480.0 735.1h0M480.1 739.3h0M480.1 714.8h0M480.2 721.2h0M480.2 725.5h0M480.3 741.5h0M480.3 742.5h0M480.4 742.5h0M480.4 691.4h0M480.4 744.7h0M480.5 742.5h0M480.5 732.9h0M480.6 741.5h0M480.6 740.4h0M480.7 744.7h0M480.7 738.3h0M480.8 743.6h0M480.8 735.1h0M480.9 736.1h0M480.9 656.2h0M480.9 642.3h0M480.9 634.2h0M480.9 744.7h0M481.0 717.0h0M481.0 715.9h0M481.1 719.1h0M481.1 743.6h0M481.2 742.5h0M481.2 745.7h0M481.3 728.7h0M481.3 734.0h0M481.4 743.6h0M481.4 740.4h0M481.5 709.5h0M481.5 740.4h0M481.6 721.2h0M481.6 731.9h0M481.7 736.1h0M481.7 742.5h0M481.8 694.6h0M481.8 744.7h0M481.9 721.2h0M481.9 728.7h0M482.0 736.1h0M482.0 730.8h0M482.1 728.7h0M482.1 741.5h0M482.2 734.0h0M482.2 741.5h0M482.3 739.3h0M482.3 736.1h0M482.4 743.6h0M482.4 738.3h0M482.5 734.0h0M482.5 744.7h0M482.6 723.3h0M482.6 742.5h0M482.7 734.0h0M482.7 743.6h0M482.8 731.9h0M482.8 732.9h0M482.9 741.5h0M482.9 732.9h0M483.0 742.5h0M483.0 744.7h0M483.1 726.5h0M483.1 741.5h0M483.2 735.1h0M483.2 736.1h0M483.3 743.6h0M483.3 712.7h0M483.4 720.1h0M483.4 719.1h0M483.5 734.0h0M483.5 740.4h0M483.6 712.7h0M483.6 736.1h0M483.7 727.6h0M483.7 734.0h0M483.8 741.5h0M483.8 740.4h0M483.9 741.5h0M483.9 742.5h0M484.0 737.2h0M484.0 731.9h0M484.1 739.3h0M484.1 726.5h0M484.2 731.9h0M484.2 714.8h0M484.3 725.5h0M484.3 736.1h0M484.4 734.0h0M484.4 745.7h0M484.5 723.3h0M484.5 743.6h0M484.6 744.7h0M484.6 738.3h0M484.7 723.3h0M484.7 715.9h0M484.8 744.7h0M484.8 744.7h0M484.9 742.5h0M484.9 743.6h0M485.0 738.3h0M485.0 743.6h0M485.1 743.6h0M485.1 744.7h0M485.2 738.3h0M485.2 743.6h0M485.3 738.3h0M485.3 742.5h0M485.4 744.7h0M485.4 740.4h0M485.5 741.5h0M485.5 744.7h0M485.6 745.7h0M485.6 732.9h0M485.7 742.5h0M485.7 740.4h0M485.8 745.7h0M485.8 730.8h0M485.9 731.9h0M485.9 741.5h0M486.0 740.4h0M486.0 740.4h0M486.1 743.6h0M486.1 745.7h0M486.2 744.7h0M486.2 734.0h0M486.3 743.6h0M486.3 739.3h0M486.4 742.5h0M486.4 744.7h0M486.5 745.7h0M486.5 745.7h0M486.6 738.3h0M486.6 740.4h0M486.7 745.7h0M486.7 732.9h0M486.8 744.7h0M486.8 744.7h0M486.9 740.4h0M486.9 714.8h0M487.0 741.5h0M487.0 738.3h0M487.1 744.7h0M487.1 744.7h0M487.2 739.3h0M487.2 743.6h0M487.3 737.2h0M487.3 727.6h0M487.4 742.5h0M487.4 718.0h0M487.5 744.7h0M487.5 742.5h0M487.6 742.5h0M487.6 736.1h0M487.7 745.7h0M487.7 741.5h0M487.8 744.7h0M487.8 742.5h0M487.9 737.2h0M487.9 739.3h0M488.0 728.7h0M488.0 742.5h0M488.1 738.3h0M488.1 743.6h0M488.2 743.6h0M488.2 738.3h0M488.3 744.7h0M488.3 738.3h0M488.4 739.3h0M488.4 727.6h0M488.5 740.4h0M488.5 744.7h0M488.6 732.9h0M488.6 737.2h0M488.7 738.3h0M488.7 744.7h0M488.8 741.5h0M488.8 722.3h0M488.9 740.4h0M488.9 739.3h0M489.0 742.5h0M489.0 744.7h0M489.1 743.6h0M489.1 731.9h0M489.2 744.7h0M489.2 744.7h0M489.3 736.1h0M489.3 741.5h0M489.4 741.5h0M489.5 737.2h0M489.5 744.7h0M489.6 737.2h0M489.6 743.6h0M489.7 728.7h0M489.7 740.4h0M489.8 730.8h0M489.8 743.6h0M489.9 743.6h0M489.9 742.5h0M490.0 742.5h0M490.0 740.4h0M490.1 741.5h0M490.1 742.5h0M490.2 744.7h0M490.2 745.7h0M490.3 740.4h0M490.3 745.7h0M490.4 741.5h0M490.4 738.3h0M490.5 738.3h0M490.5 743.6h0M490.6 741.5h0M490.6 743.6h0M490.7 742.5h0M490.7 744.7h0M490.8 744.7h0M490.8 744.7h0M490.9 741.5h0M490.9 740.4h0M491.0 742.5h0M491.0 743.6h0M491.1 742.5h0M491.1 735.1h0M491.2 743.6h0M491.2 742.5h0M491.3 744.7h0M491.3 738.3h0M491.4 743.6h0M491.4 744.7h0M491.5 715.9h0M491.5 731.9h0M491.6 744.7h0M491.6 744.7h0M491.7 743.6h0M491.7 731.9h0M491.8 740.4h0M491.8 740.4h0M491.9 740.4h0M491.9 740.4h0M492.0 742.5h0M492.0 740.4h0M492.1 732.9h0M492.1 740.4h0M492.2 740.4h0M492.2 741.5h0M492.3 740.4h0M492.3 743.6h0M492.4 739.3h0M492.4 734.0h0M492.5 713.8h0M492.5 742.5h0M492.6 742.5h0M492.6 742.5h0M492.7 739.3h0M492.7 743.6h0M492.8 745.7h0M492.8 738.3h0M492.9 741.5h0M492.9 745.7h0M493.0 742.5h0M493.0 741.5h0M493.1 739.3h0M493.1 744.7h0M493.2 735.1h0M493.2 742.5h0M493.3 738.3h0M493.3 734.0h0M493.4 715.9h0M493.4 738.3h0M493.5 744.7h0M493.5 728.7h0M493.6 739.3h0M493.6 739.3h0M493.7 735.1h0M493.7 738.3h0M493.8 743.6h0M493.8 744.7h0M493.9 744.7h0M493.9 745.7h0M493.9 688.2h0M494.0 725.5h0M494.0 736.1h0M494.1 741.5h0M494.1 744.7h0M494.2 739.3h0M494.2 739.3h0M494.3 744.7h0M494.3 742.5h0M494.4 743.6h0M494.4 744.7h0M494.5 745.7h0M494.5 743.6h0M494.6 739.3h0M494.6 721.2h0M494.7 739.3h0M494.7 727.6h0M494.8 740.4h0M494.8 732.9h0M494.9 745.7h0M494.9 742.5h0M495.0 730.8h0M495.0 745.7h0M495.1 741.5h0M495.1 745.7h0M495.2 741.5h0M495.2 742.5h0M495.3 739.3h0M495.3 741.5h0M495.4 740.4h0M495.4 739.3h0M495.5 744.7h0M495.5 743.6h0M495.6 738.3h0M495.6 741.5h0M495.7 742.5h0M495.7 736.1h0M495.8 735.1h0M495.8 735.1h0M495.9 743.6h0M495.9 745.7h0M496.0 726.5h0M496.0 744.7h0M496.1 741.5h0M496.1 731.9h0M496.2 744.7h0M496.2 740.4h0M496.3 727.6h0M496.3 742.5h0M496.4 741.5h0M496.4 738.3h0M496.5 734.0h0M496.5 737.2h0M496.6 739.3h0M496.6 724.4h0M496.7 742.5h0M496.7 726.5h0M496.8 743.6h0M496.8 744.7h0M496.9 741.5h0M496.9 742.5h0M497.0 742.5h0M497.0 739.3h0M497.1 745.7h0M497.1 739.3h0M497.2 740.4h0M497.2 741.5h0M497.3 741.5h0M497.3 739.3h0M497.4 725.5h0M497.4 730.8h0M497.5 739.3h0M497.5 740.4h0M497.6 734.0h0M497.6 740.4h0M497.7 739.3h0M497.7 738.3h0M497.8 731.9h0M497.8 739.3h0M497.9 742.5h0M497.9 744.7h0M498.0 738.3h0M498.0 738.3h0M498.1 740.4h0M498.1 743.6h0M498.2 743.6h0M498.2 743.6h0M498.3 742.5h0M498.3 738.3h0M498.4 741.5h0M498.4 741.5h0M498.5 741.5h0M498.5 736.1h0M498.6 743.6h0M498.6 743.6h0M498.7 739.3h0M498.7 739.3h0M498.8 739.3h0M498.8 740.4h0M498.9 738.3h0M498.9 720.1h0M499.0 741.5h0M499.0 740.4h0M499.1 741.5h0M499.1 741.5h0M499.2 742.5h0M499.2 744.7h0M499.3 739.3h0M499.3 742.5h0M499.4 743.6h0M499.4 745.7h0M499.5 729.7h0M499.5 743.6h0M499.6 735.1h0M499.6 743.6h0M499.7 735.1h0M499.7 730.8h0M499.8 742.5h0M499.8 741.5h0M499.9 731.9h0M499.9 737.2h0M500.0 739.3h0M500.0 744.7h0M500.1 742.5h0M500.1 740.4h0M500.2 735.1h0M500.2 735.1h0M500.3 740.4h0M500.3 723.3h0M500.4 744.7h0M500.4 735.1h0M500.4 691.4h0M500.5 734.0h0M500.5 736.1h0M500.6 741.5h0M500.6 742.5h0M500.7 740.4h0M500.7 741.5h0M500.8 740.4h0M500.8 739.3h0M500.9 739.3h0M500.9 740.4h0M501.0 731.9h0M501.0 739.3h0M501.1 737.2h0M501.1 742.5h0M501.2 742.5h0M501.2 742.5h0M501.3 737.2h0M501.3 737.2h0M501.4 736.1h0M501.4 742.5h0M501.5 739.3h0M501.5 738.3h0M501.6 734.0h0M501.6 721.2h0M501.7 743.6h0M501.7 717.0h0M501.8 744.7h0M501.8 738.3h0M501.9 742.5h0M501.9 737.2h0M502.0 723.3h0M502.0 741.5h0M502.1 736.1h0M502.1 744.7h0M502.2 734.0h0M502.2 731.9h0M502.3 738.3h0M502.3 738.3h0M502.4 743.6h0M502.4 718.0h0M502.5 745.7h0M502.5 736.1h0M502.6 742.5h0M502.6 745.7h0M502.7 737.2h0M502.7 738.3h0M502.8 743.6h0M502.8 743.6h0M502.9 743.6h0M502.9 738.3h0M502.9 685.0h0M503.0 745.7h0M503.0 736.1h0M503.1 740.4h0M503.1 735.1h0M503.2 742.5h0M503.2 741.5h0M503.3 718.0h0M503.3 741.5h0M503.4 741.5h0M503.4 744.7h0M503.5 740.4h0M503.5 744.7h0M503.6 742.5h0M503.6 711.6h0M503.7 744.7h0M503.7 741.5h0M503.8 744.7h0M503.8 740.4h0M503.9 744.7h0M503.9 743.6h0M504.0 741.5h0M504.0 745.7h0M504.1 741.5h0M504.1 719.1h0M504.2 745.7h0M504.2 736.1h0M504.3 742.5h0M504.3 742.5h0M504.4 743.6h0M504.4 741.5h0M504.5 743.6h0M504.5 742.5h0M504.6 744.7h0M504.6 726.5h0M504.7 744.7h0M504.7 743.6h0M504.8 744.7h0M504.8 745.7h0M504.9 745.7h0M504.9 743.6h0M505.0 734.0h0M505.0 741.5h0M505.1 739.3h0M505.1 744.7h0M505.2 735.1h0M505.2 743.6h0M505.3 738.3h0M505.3 730.8h0M505.4 739.3h0M505.4 743.6h0M505.5 738.3h0M505.5 742.5h0M505.6 742.5h0M505.6 742.5h0M505.7 736.1h0M505.7 741.5h0M505.8 741.5h0M505.8 734.0h0M505.9 743.6h0M505.9 742.5h0M506.0 744.7h0M506.0 741.5h0M506.1 743.6h0M506.1 732.9h0M506.2 740.4h0M506.2 741.5h0M506.3 742.5h0M506.3 744.7h0M506.4 741.5h0M506.4 740.4h0M506.5 737.2h0M506.5 729.7h0M506.6 734.0h0M506.6 739.3h0M506.7 745.7h0M506.7 745.7h0M506.8 742.5h0M506.8 741.5h0M506.9 743.6h0M506.9 739.3h0M507.0 737.2h0M507.0 742.5h0M507.1 740.4h0M507.1 745.7h0M507.2 741.5h0M507.2 734.0h0M507.3 740.4h0M507.3 739.3h0M507.4 740.4h0M507.4 732.9h0M507.5 739.3h0M507.5 744.7h0M507.6 744.7h0M507.6 741.5h0M507.7 736.1h0M507.7 743.6h0M507.8 738.3h0M507.8 738.3h0M507.9 738.3h0M507.9 743.6h0M507.9 704.2h0M508.0 743.6h0M508.0 736.1h0M508.1 743.6h0M508.1 745.7h0M508.2 745.7h0M508.2 742.5h0M508.3 736.1h0M508.3 740.4h0M508.4 731.9h0M508.4 741.5h0M508.5 741.5h0M508.5 743.6h0M508.6 732.9h0M508.6 728.7h0M508.7 744.7h0M508.7 745.7h0M508.8 729.7h0M508.8 737.2h0M508.9 742.5h0M508.9 742.5h0M509.0 725.5h0M509.0 744.7h0M509.1 745.7h0M509.1 743.6h0M509.2 726.5h0M509.2 741.5h0M509.3 738.3h0M509.3 739.3h0M509.4 729.7h0M509.4 731.9h0M509.5 743.6h0M509.5 740.4h0M509.6 745.7h0M509.6 738.3h0M509.7 744.7h0M509.7 734.0h0M509.8 742.5h0M509.8 743.6h0M509.9 734.0h0M509.9 742.5h0M510.0 737.2h0M510.0 728.7h0M510.1 723.3h0M510.1 745.7h0M510.2 737.2h0M510.2 743.6h0M510.3 739.3h0M510.3 743.6h0M510.4 742.5h0M510.4 744.7h0M510.5 743.6h0M510.5 723.3h0M510.6 741.5h0M510.6 739.3h0M510.7 732.9h0M510.7 732.9h0M510.8 737.2h0M510.8 744.7h0M510.9 742.5h0M510.9 743.6h0M511.0 745.7h0M511.0 736.1h0M511.1 740.4h0M511.1 728.7h0M511.2 745.7h0M511.2 740.4h0M511.3 735.1h0M511.3 744.7h0M511.4 738.3h0M511.4 743.6h0M511.5 737.2h0M511.5 744.7h0M511.6 740.4h0M511.6 745.7h0M511.7 741.5h0M511.7 740.4h0M511.8 737.2h0M511.8 744.7h0M511.9 730.8h0M511.9 729.7h0M512.0 744.7h0M512.0 739.3h0M512.1 741.5h0M512.1 736.1h0M512.2 739.3h0M512.2 742.5h0M512.3 741.5h0M512.3 736.1h0M512.4 737.2h0M512.4 721.2h0M512.4 667.9h0M512.5 742.5h0M512.5 727.6h0M512.6 739.3h0M512.6 721.2h0M512.7 737.2h0M512.7 744.7h0M512.8 740.4h0M512.8 744.7h0M512.9 738.3h0M512.9 740.4h0M513.0 743.6h0M513.0 744.7h0M513.1 713.8h0M513.1 744.7h0M513.2 743.6h0M513.2 738.3h0M513.3 739.3h0M513.3 736.1h0M513.4 742.5h0M513.4 736.1h0M513.5 734.0h0M513.5 741.5h0M513.6 742.5h0M513.6 729.7h0M513.7 736.1h0M513.7 728.7h0M513.8 741.5h0M513.8 741.5h0M513.9 745.7h0M513.9 736.1h0M514.0 721.2h0M514.0 731.9h0M514.1 743.6h0M514.1 739.3h0M514.2 745.7h0M514.2 727.6h0M514.3 737.2h0M514.3 739.3h0M514.4 734.0h0M514.4 740.4h0M514.5 743.6h0M514.6 743.6h0M514.6 742.5h0M514.7 741.5h0M514.7 739.3h0M514.8 713.8h0M514.8 743.6h0M514.9 735.1h0M514.9 738.3h0M515.0 743.6h0M515.0 689.2h0M515.0 741.5h0M515.1 741.5h0M515.1 736.1h0M515.2 740.4h0M515.2 744.7h0M515.3 744.7h0M515.3 742.5h0M515.4 734.0h0M515.4 744.7h0M515.5 732.9h0M515.5 729.7h0M515.6 744.7h0M515.6 713.8h0M515.7 745.7h0M515.7 744.7h0M515.8 730.8h0M515.8 735.1h0M515.9 734.0h0M515.9 740.4h0M516.0 739.3h0M516.0 730.8h0M516.1 740.4h0M516.1 734.0h0M516.2 741.5h0M516.2 741.5h0M516.3 738.3h0M516.3 744.7h0M516.4 736.1h0M516.4 738.3h0M516.5 740.4h0M516.5 741.5h0M516.6 742.5h0M516.6 739.3h0M516.7 740.4h0M516.7 739.3h0M516.8 742.5h0M516.8 732.9h0M516.9 737.2h0M516.9 740.4h0M517.0 743.6h0M517.0 681.8h0M517.0 744.7h0M517.1 740.4h0M517.1 742.5h0M517.2 737.2h0M517.2 742.5h0M517.3 744.7h0M517.3 738.3h0M517.4 727.6h0M517.4 740.4h0M517.5 736.1h0M517.5 743.6h0M517.6 742.5h0M517.6 736.1h0M517.7 744.7h0M517.7 741.5h0M517.8 734.0h0M517.8 728.7h0M517.9 732.9h0M517.9 741.5h0M518.0 741.5h0M518.0 745.7h0M518.1 734.0h0M518.1 741.5h0M518.2 717.0h0M518.2 742.5h0M518.3 741.5h0M518.3 743.6h0M518.4 741.5h0M518.4 731.9h0M518.5 735.1h0M518.5 744.7h0M518.6 741.5h0M518.6 725.5h0M518.7 734.0h0M518.7 742.5h0M518.8 741.5h0M518.8 743.6h0M518.9 743.6h0M518.9 743.6h0M519.0 744.7h0M519.0 741.5h0M519.1 738.3h0M519.1 744.7h0M519.2 726.5h0M519.2 739.3h0M519.3 714.8h0M519.3 744.7h0M519.4 735.1h0M519.4 713.8h0M519.5 740.4h0M519.5 741.5h0M519.6 740.4h0M519.6 742.5h0M519.7 740.4h0M519.7 744.7h0M519.8 738.3h0M519.8 744.7h0M519.9 744.7h0M519.9 723.3h0M520.0 741.5h0M520.0 745.7h0M520.1 732.9h0M520.1 738.3h0M520.2 738.3h0M520.2 740.4h0M520.3 743.6h0M520.3 744.7h0M520.4 745.7h0M520.4 739.3h0M520.5 740.4h0M520.5 743.6h0M520.6 743.6h0M520.6 744.7h0M520.7 737.2h0M520.7 745.7h0M520.8 736.1h0M520.8 729.7h0M520.9 743.6h0M520.9 743.6h0M521.0 735.1h0M521.0 743.6h0M521.1 744.7h0M521.1 738.3h0M521.2 737.2h0M521.2 743.6h0M521.3 735.1h0M521.3 743.6h0M521.4 741.5h0M521.4 740.4h0M521.5 737.2h0M521.5 740.4h0M521.6 743.6h0M521.6 742.5h0M521.7 742.5h0M521.7 737.2h0M521.8 742.5h0M521.8 739.3h0M521.9 740.4h0M521.9 737.2h0M522.0 741.5h0M522.0 742.5h0M522.1 742.5h0M522.1 742.5h0M522.2 744.7h0M522.2 742.5h0M522.3 740.4h0M522.3 729.7h0M522.4 742.5h0M522.4 743.6h0M522.5 744.7h0M522.5 744.7h0M522.6 744.7h0M522.6 744.7h0M522.7 738.3h0M522.7 739.3h0M522.8 738.3h0M522.8 745.7h0M522.9 741.5h0M522.9 740.4h0M523.0 738.3h0M523.0 744.7h0M523.1 743.6h0M523.1 742.5h0M523.2 739.3h0M523.2 739.3h0M523.3 745.7h0M523.3 744.7h0M523.4 736.1h0M523.4 740.4h0M523.5 741.5h0M523.5 740.4h0M523.6 739.3h0M523.6 723.3h0M523.7 744.7h0M523.7 738.3h0M523.8 743.6h0M523.8 738.3h0M523.9 741.5h0M523.9 737.2h0M524.0 740.4h0M524.0 740.4h0M524.1 743.6h0M524.1 743.6h0M524.2 740.4h0M524.2 741.5h0M524.3 743.6h0M524.3 740.4h0M524.4 739.3h0M524.4 742.5h0M524.5 740.4h0M524.5 709.5h0M524.5 744.7h0M524.6 738.3h0M524.6 740.4h0M524.7 741.5h0M524.7 735.1h0M524.8 745.7h0M524.8 738.3h0M524.9 723.3h0M524.9 738.3h0M525.0 732.9h0M525.0 729.7h0M525.1 736.1h0M525.1 741.5h0M525.2 737.2h0M525.2 741.5h0M525.3 745.7h0M525.3 740.4h0M525.4 743.6h0M525.4 739.3h0M525.5 739.3h0M525.5 717.0h0M525.6 744.7h0M525.6 737.2h0M525.7 743.6h0M525.7 742.5h0M525.8 732.9h0M525.8 726.5h0M525.9 740.4h0M525.9 735.1h0M526.0 736.1h0M526.0 743.6h0M526.1 741.5h0M526.1 739.3h0M526.2 717.0h0M526.2 741.5h0M526.3 745.7h0M526.3 740.4h0M526.4 730.8h0M526.4 742.5h0M526.5 740.4h0M526.5 742.5h0M526.6 745.7h0M526.6 730.8h0M526.7 728.7h0M526.7 740.4h0M526.8 744.7h0M526.8 740.4h0M526.9 743.6h0M526.9 743.6h0M527.0 744.7h0M527.0 742.5h0M527.1 737.2h0M527.1 739.3h0M527.2 743.6h0M527.2 742.5h0M527.3 745.7h0M527.3 740.4h0M527.4 737.2h0M527.4 741.5h0M527.5 736.1h0M527.5 726.5h0M527.6 743.6h0M527.6 743.6h0M527.7 742.5h0M527.7 743.6h0M527.8 741.5h0M527.8 736.1h0M527.9 741.5h0M527.9 741.5h0M528.0 740.4h0M528.0 745.7h0M528.1 742.5h0M528.1 745.7h0M528.2 743.6h0M528.2 743.6h0M528.3 735.1h0M528.3 745.7h0M528.4 741.5h0M528.4 735.1h0M528.5 745.7h0M528.5 745.7h0M528.6 739.3h0M528.6 741.5h0M528.7 741.5h0M528.7 743.6h0M528.8 743.6h0M528.8 738.3h0M528.9 735.1h0M528.9 744.7h0M529.0 745.7h0M529.0 743.6h0M529.1 735.1h0M529.1 731.9h0M529.2 732.9h0M529.2 743.6h0M529.3 744.7h0M529.3 741.5h0M529.4 737.2h0M529.4 736.1h0M529.5 741.5h0M529.5 743.6h0M529.6 743.6h0M529.6 743.6h0M529.7 739.3h0M529.7 741.5h0M529.8 742.5h0M529.8 742.5h0M529.9 735.1h0M529.9 741.5h0M530.0 738.3h0M530.0 744.7h0M530.1 735.1h0M530.1 731.9h0M530.2 739.3h0M530.2 734.0h0M530.3 742.5h0M530.3 743.6h0M530.4 740.4h0M530.4 717.0h0M530.5 740.4h0M530.5 740.4h0M530.6 742.5h0M530.6 740.4h0M530.7 745.7h0M530.7 740.4h0M530.8 742.5h0M530.8 742.5h0M530.9 742.5h0M530.9 744.7h0M531.0 743.6h0M531.0 737.2h0M531.1 743.6h0M531.1 744.7h0M531.2 745.7h0M531.2 741.5h0M531.3 740.4h0M531.3 743.6h0M531.4 742.5h0M531.4 741.5h0M531.5 742.5h0M531.5 740.4h0M531.6 745.7h0M531.6 742.5h0M531.7 743.6h0M531.7 738.3h0M531.8 738.3h0M531.8 740.4h0M531.9 742.5h0M531.9 743.6h0M532.0 743.6h0M532.0 711.6h0M532.1 745.7h0M532.1 743.6h0M532.2 744.7h0M532.2 742.5h0M532.3 723.3h0M532.3 736.1h0M532.4 739.3h0M532.4 740.4h0M532.5 737.2h0M532.5 732.9h0M532.6 738.3h0M532.6 742.5h0M532.7 735.1h0M532.7 740.4h0M532.8 745.7h0M532.8 740.4h0M532.9 743.6h0M532.9 742.5h0M533.0 723.3h0M533.0 740.4h0M533.1 731.9h0M533.1 729.7h0M533.2 734.0h0M533.2 731.9h0M533.3 742.5h0M533.3 732.9h0M533.4 726.5h0M533.4 735.1h0M533.5 735.1h0M533.5 740.4h0M533.6 731.9h0M533.6 736.1h0M533.7 738.3h0M533.7 727.6h0M533.8 735.1h0M533.8 732.9h0M533.9 727.6h0M533.9 732.9h0M534.0 745.7h0M534.0 741.5h0M534.1 743.6h0M534.1 704.2h0M534.2 727.6h0M534.2 736.1h0M534.3 730.8h0M534.3 743.6h0M534.4 725.5h0M534.4 735.1h0M534.5 739.3h0M534.5 647.7h0M534.5 737.2h0M534.6 745.7h0M534.6 739.3h0M534.7 740.4h0M534.7 741.5h0M534.8 725.5h0M534.8 728.7h0M534.9 727.6h0M534.9 739.3h0M535.0 736.1h0M535.0 732.9h0M535.1 743.6h0M535.1 736.1h0M535.2 730.8h0M535.2 744.7h0M535.3 729.7h0M535.3 714.8h0M535.4 726.5h0M535.4 744.7h0M535.5 742.5h0M535.5 738.3h0M535.6 738.3h0M535.6 739.3h0M535.7 739.3h0M535.7 743.6h0M535.8 737.2h0M535.8 736.1h0M535.9 739.3h0M535.9 742.5h0M536.0 731.9h0M536.0 682.8h0M536.0 742.5h0M536.1 734.0h0M536.1 742.5h0M536.2 744.7h0M536.2 734.0h0M536.3 741.5h0M536.3 741.5h0M536.4 740.4h0M536.4 738.3h0M536.5 740.4h0M536.5 729.7h0M536.6 743.6h0M536.6 735.1h0M536.7 740.4h0M536.7 744.7h0M536.8 740.4h0M536.8 744.7h0M536.9 734.0h0M536.9 732.9h0M537.0 713.8h0M537.0 693.5h0M537.0 706.3h0M537.1 741.5h0M537.1 740.4h0M537.2 729.7h0M537.2 744.7h0M537.3 719.1h0M537.3 737.2h0M537.4 713.8h0M537.4 744.7h0M537.5 732.9h0M537.5 703.1h0M537.6 739.3h0M537.6 737.2h0M537.7 714.8h0M537.7 742.5h0M537.8 735.1h0M537.8 707.4h0M537.9 739.3h0M537.9 736.1h0M538.0 743.6h0M538.0 672.2h0M538.0 737.2h0M538.1 724.4h0M538.1 732.9h0M538.2 732.9h0M538.2 739.3h0M538.3 725.5h0M538.3 744.7h0M538.4 710.6h0M538.4 732.9h0M538.5 741.5h0M538.5 626.3h0M538.5 599.7h0M538.5 523.4h0M538.5 723.3h0M538.6 743.6h0M538.6 732.9h0M538.7 725.5h0M538.7 742.5h0M538.8 730.8h0M538.8 732.9h0M538.9 737.2h0M538.9 742.5h0M539.0 738.3h0M539.0 656.2h0M539.0 645.5h0M539.0 713.8h0M539.1 741.5h0M539.1 741.5h0M539.2 742.5h0M539.2 735.1h0M539.3 742.5h0M539.3 694.6h0M539.4 728.7h0M539.4 744.7h0M539.5 744.7h0M539.6 743.6h0M539.6 742.5h0M539.7 741.5h0M539.7 719.1h0M539.8 735.1h0M539.8 704.2h0M539.9 744.7h0M539.9 697.8h0M540.0 731.9h0M540.0 739.3h0M540.1 739.3h0M540.1 741.5h0M540.2 742.5h0M540.2 741.5h0M540.3 735.1h0M540.3 739.3h0M540.4 737.2h0M540.4 719.1h0M540.5 736.1h0M540.5 737.2h0M540.6 728.7h0M540.6 745.7h0M540.7 735.1h0M540.7 743.6h0M540.8 732.9h0M540.8 724.4h0M540.9 743.6h0M540.9 737.2h0M541.0 734.0h0M541.0 742.5h0M541.1 741.5h0M541.1 736.1h0M541.2 744.7h0M541.2 731.9h0M541.3 742.5h0M541.3 735.1h0M541.4 721.2h0M541.4 726.5h0M541.5 730.8h0M541.5 744.7h0M541.6 717.0h0M541.6 723.3h0M541.7 732.9h0M541.7 719.1h0M541.8 711.6h0M541.8 726.5h0M541.9 739.3h0M541.9 743.6h0M542.0 741.5h0M542.0 736.1h0M542.1 736.1h0M542.1 745.7h0M542.2 744.7h0M542.2 745.7h0M542.3 739.3h0M542.3 741.5h0M542.4 740.4h0M542.4 745.7h0M542.5 740.4h0M542.5 728.7h0M542.6 740.4h0M542.6 742.5h0M542.7 741.5h0M542.7 735.1h0M542.8 741.5h0M542.8 719.1h0M542.9 744.7h0M542.9 718.0h0M543.0 740.4h0M543.0 742.5h0M543.1 743.6h0M543.1 739.3h0M543.2 736.1h0M543.2 742.5h0M543.3 737.2h0M543.3 736.1h0M543.4 742.5h0M543.4 734.0h0M543.5 743.6h0M543.5 742.5h0M543.6 745.7h0M543.6 741.5h0M543.7 742.5h0M543.7 730.8h0M543.8 745.7h0M543.8 739.3h0M543.9 741.5h0M543.9 744.7h0M544.0 744.7h0M544.0 740.4h0M544.1 736.1h0M544.1 743.6h0M544.2 743.6h0M544.2 737.2h0M544.3 745.7h0M544.3 741.5h0M544.4 726.5h0M544.4 736.1h0M544.5 741.5h0M544.5 744.7h0M544.6 744.7h0M544.6 742.5h0M544.7 732.9h0M544.7 739.3h0M544.8 739.3h0M544.8 740.4h0M544.9 727.6h0M544.9 740.4h0M545.0 731.9h0M545.0 740.4h0M545.1 743.6h0M545.1 743.6h0M545.2 743.6h0M545.2 743.6h0M545.3 742.5h0M545.3 742.5h0M545.4 742.5h0M545.4 729.7h0M545.5 742.5h0M545.5 742.5h0M545.6 744.7h0M545.6 729.7h0M545.7 743.6h0M545.7 741.5h0M545.8 734.0h0M545.8 741.5h0M545.9 745.7h0M545.9 732.9h0M546.0 741.5h0M546.0 741.5h0M546.1 744.7h0M546.1 743.6h0M546.2 739.3h0M546.2 732.9h0M546.3 741.5h0M546.3 745.7h0M546.4 735.1h0M546.4 740.4h0M546.5 745.7h0M546.5 742.5h0M546.6 743.6h0M546.6 740.4h0M546.7 742.5h0M546.7 744.7h0M546.8 744.7h0M546.8 740.4h0M546.9 743.6h0M546.9 732.9h0M547.0 727.6h0M547.0 738.3h0M547.1 743.6h0M547.1 742.5h0M547.2 735.1h0M547.2 740.4h0M547.3 742.5h0M547.3 737.2h0M547.4 737.2h0M547.4 737.2h0M547.5 744.7h0M547.5 740.4h0M547.6 722.3h0M547.6 737.2h0M547.7 738.3h0M547.7 742.5h0M547.8 741.5h0M547.8 736.1h0M547.9 743.6h0M547.9 740.4h0M548.0 726.5h0M548.0 742.5h0M548.1 739.3h0M548.1 744.7h0M548.2 740.4h0M548.2 731.9h0M548.3 744.7h0M548.3 742.5h0M548.4 741.5h0M548.4 741.5h0M548.5 737.2h0M548.5 742.5h0M548.6 741.5h0M548.6 744.7h0M548.7 743.6h0M548.7 739.3h0M548.8 744.7h0M548.8 732.9h0M548.9 741.5h0M548.9 741.5h0M549.0 735.1h0M549.0 740.4h0M549.1 735.1h0M549.1 744.7h0M549.2 739.3h0M549.2 732.9h0M549.3 740.4h0M549.3 743.6h0M549.4 726.5h0M549.4 742.5h0M549.5 729.7h0M549.5 732.9h0M549.5 706.3h0M549.6 741.5h0M549.6 740.4h0M549.7 743.6h0M549.7 745.7h0M549.8 742.5h0M549.8 741.5h0M549.9 744.7h0M549.9 744.7h0M550.0 736.1h0M550.0 742.5h0M550.1 742.5h0M550.1 743.6h0M550.2 744.7h0M550.2 742.5h0M550.3 744.7h0M550.3 739.3h0M550.4 743.6h0M550.4 743.6h0M550.5 742.5h0M550.5 722.3h0M550.6 743.6h0M550.6 742.5h0M550.7 739.3h0M550.7 743.6h0M550.8 738.3h0M550.8 743.6h0M550.9 745.7h0M550.9 741.5h0M551.0 741.5h0M551.0 743.6h0M551.1 742.5h0M551.1 744.7h0M551.2 744.7h0M551.2 740.4h0M551.3 739.3h0M551.3 744.7h0M551.4 739.3h0M551.4 744.7h0M551.5 743.6h0M551.5 741.5h0M551.6 742.5h0M551.6 745.7h0M551.7 745.7h0M551.7 732.9h0M551.8 742.5h0M551.8 743.6h0M551.9 741.5h0M551.9 741.5h0M552.0 744.7h0M552.0 739.3h0M552.1 740.4h0M552.1 744.7h0M552.2 735.1h0M552.2 740.4h0M552.3 743.6h0M552.3 743.6h0M552.4 742.5h0M552.4 744.7h0M552.5 745.7h0M552.5 745.7h0M552.6 740.4h0M552.6 743.6h0M552.7 741.5h0M552.7 732.9h0M552.8 739.3h0M552.8 740.4h0M552.9 743.6h0M552.9 743.6h0M553.0 745.7h0M553.0 745.7h0M553.1 729.7h0M553.1 744.7h0M553.2 741.5h0M553.2 740.4h0M553.3 745.7h0M553.3 745.7h0M553.4 738.3h0M553.4 742.5h0M553.5 742.5h0M553.5 741.5h0M553.6 743.6h0M553.6 738.3h0M553.7 743.6h0M553.7 743.6h0M553.8 738.3h0M553.8 742.5h0M553.9 732.9h0M553.9 740.4h0M554.0 740.4h0M554.0 739.3h0M554.1 744.7h0M554.1 745.7h0M554.2 729.7h0M554.2 743.6h0M554.3 743.6h0M554.3 731.9h0M554.4 742.5h0M554.4 742.5h0M554.5 743.6h0M554.5 742.5h0M554.5 689.2h0M554.6 738.3h0M554.6 742.5h0M554.7 745.7h0M554.7 745.7h0M554.8 741.5h0M554.8 745.7h0M554.9 742.5h0M554.9 743.6h0M555.0 739.3h0M555.0 742.5h0M555.1 712.7h0M555.1 740.4h0M555.2 742.5h0M555.2 739.3h0M555.3 742.5h0M555.3 741.5h0M555.4 743.6h0M555.4 745.7h0M555.5 741.5h0M555.5 740.4h0M555.6 745.7h0M555.6 740.4h0M555.7 740.4h0M555.7 741.5h0M555.8 744.7h0M555.8 745.7h0M555.9 744.7h0M555.9 740.4h0M556.0 737.2h0M556.0 730.8h0M556.1 738.3h0M556.1 736.1h0M556.2 743.6h0M556.2 728.7h0M556.3 742.5h0M556.3 745.7h0M556.4 745.7h0M556.4 742.5h0M556.5 738.3h0M556.5 743.6h0M556.6 740.4h0M556.6 738.3h0M556.7 740.4h0M556.7 741.5h0M556.8 741.5h0M556.8 739.3h0M556.9 744.7h0M556.9 743.6h0M557.0 726.5h0M557.0 736.1h0M557.1 743.6h0M557.1 740.4h0M557.2 743.6h0M557.2 745.7h0M557.3 742.5h0M557.3 737.2h0M557.4 738.3h0M557.4 744.7h0M557.5 742.5h0M557.5 742.5h0M557.6 742.5h0M557.6 741.5h0M557.7 743.6h0M557.7 741.5h0M557.8 743.6h0M557.8 740.4h0M557.9 734.0h0M557.9 745.7h0M558.0 742.5h0M558.0 743.6h0M558.1 731.9h0M558.1 741.5h0M558.2 739.3h0M558.2 729.7h0M558.3 742.5h0M558.3 738.3h0M558.4 745.7h0M558.4 742.5h0M558.5 745.7h0M558.5 743.6h0M558.6 742.5h0M558.6 739.3h0M558.7 744.7h0M558.7 741.5h0M558.8 742.5h0M558.8 743.6h0M558.9 745.7h0M558.9 743.6h0M559.0 742.5h0M559.0 743.6h0M559.1 737.2h0M559.1 731.9h0M559.2 744.7h0M559.2 737.2h0M559.3 740.4h0M559.3 745.7h0M559.4 741.5h0M559.4 737.2h0M559.5 735.1h0M559.5 744.7h0M559.6 743.6h0M559.6 740.4h0M559.7 734.0h0M559.7 741.5h0M559.8 743.6h0M559.8 739.3h0M559.9 740.4h0M559.9 731.9h0M560.0 743.6h0M560.0 742.5h0M560.1 744.7h0M560.1 743.6h0M560.2 740.4h0M560.2 744.7h0M560.3 739.3h0M560.3 735.1h0M560.4 741.5h0M560.4 740.4h0M560.5 743.6h0M560.5 727.6h0M560.6 744.7h0M560.6 743.6h0M560.7 744.7h0M560.7 740.4h0M560.8 743.6h0M560.8 741.5h0M560.9 742.5h0M560.9 738.3h0M561.0 730.8h0M561.0 741.5h0M561.0 610.6h0M561.1 744.7h0M561.1 742.5h0M561.2 737.2h0M561.2 741.5h0M561.3 738.3h0M561.3 738.3h0M561.4 740.4h0M561.4 743.6h0M561.5 744.7h0M561.5 740.4h0M561.6 735.1h0M561.6 744.7h0M561.7 726.5h0M561.7 717.0h0M561.8 740.4h0M561.8 742.5h0M561.9 745.7h0M561.9 742.5h0M562.0 743.6h0M562.0 742.5h0M562.1 740.4h0M562.1 737.2h0M562.2 743.6h0M562.2 743.6h0M562.3 732.9h0M562.3 741.5h0M562.4 735.1h0M562.4 744.7h0M562.5 739.3h0M562.5 743.6h0M562.5 695.6h0M562.6 739.3h0M562.6 739.3h0M562.7 741.5h0M562.7 741.5h0M562.8 742.5h0M562.8 742.5h0M562.9 742.5h0M562.9 741.5h0M563.0 744.7h0M563.0 741.5h0M563.1 715.9h0M563.1 743.6h0M563.2 725.5h0M563.2 738.3h0M563.3 742.5h0M563.3 744.7h0M563.4 743.6h0M563.4 738.3h0M563.5 742.5h0M563.5 741.5h0M563.6 743.6h0M563.6 743.6h0M563.7 743.6h0M563.7 745.7h0M563.8 741.5h0M563.8 745.7h0M563.9 728.7h0M563.9 745.7h0M564.0 732.9h0M564.0 740.4h0M564.1 740.4h0M564.1 742.5h0M564.2 741.5h0M564.2 745.7h0M564.3 744.7h0M564.3 745.7h0M564.4 743.6h0M564.4 740.4h0M564.5 745.7h0M564.5 741.5h0M564.6 740.4h0M564.7 735.1h0M564.7 729.7h0M564.8 744.7h0M564.8 744.7h0M564.9 741.5h0M564.9 742.5h0M565.0 742.5h0M565.0 742.5h0M565.1 743.6h0M565.1 742.5h0M565.2 744.7h0M565.2 739.3h0M565.3 742.5h0M565.3 720.1h0M565.4 740.4h0M565.4 738.3h0M565.5 736.1h0M565.5 740.4h0M565.6 743.6h0M565.6 734.0h0M565.7 743.6h0M565.7 744.7h0M565.8 744.7h0M565.8 741.5h0M565.9 745.7h0M565.9 743.6h0M566.0 743.6h0M566.0 740.4h0M566.1 744.7h0M566.1 742.5h0M566.2 741.5h0M566.2 742.5h0M566.3 731.9h0M566.3 740.4h0M566.4 740.4h0M566.4 735.1h0M566.5 740.4h0M566.5 736.1h0M566.6 731.9h0M566.6 701.0h0M566.7 739.3h0M566.7 744.7h0M566.8 744.7h0M566.8 745.7h0M566.9 742.5h0M566.9 735.1h0M567.0 736.1h0M567.0 731.9h0M567.1 738.3h0M567.1 720.1h0M567.2 743.6h0M567.2 736.1h0M567.3 740.4h0M567.3 737.2h0M567.4 709.5h0M567.4 742.5h0M567.5 742.5h0M567.5 742.5h0M567.6 744.7h0M567.6 742.5h0M567.7 743.6h0M567.7 740.4h0M567.8 743.6h0M567.8 741.5h0M567.9 740.4h0M567.9 743.6h0M568.0 739.3h0M568.0 740.4h0M568.1 745.7h0M568.1 743.6h0M568.2 744.7h0M568.2 745.7h0M568.3 743.6h0M568.3 742.5h0M568.4 741.5h0M568.4 744.7h0M568.5 730.8h0M568.5 737.2h0M568.6 742.5h0M568.6 740.4h0M568.7 740.4h0M568.7 744.7h0M568.8 741.5h0M568.8 740.4h0M568.9 742.5h0M568.9 711.6h0M569.0 737.2h0M569.0 738.3h0M569.1 743.6h0M569.1 742.5h0M569.2 731.9h0M569.2 741.5h0M569.3 744.7h0M569.3 740.4h0M569.4 745.7h0M569.4 735.1h0M569.5 745.7h0M569.5 739.3h0M569.6 724.4h0M569.6 735.1h0M569.7 743.6h0M569.7 736.1h0M569.8 740.4h0M569.8 742.5h0M569.9 738.3h0M569.9 739.3h0M570.0 735.1h0M570.0 741.5h0M570.1 743.6h0M570.1 685.0h0M570.1 744.7h0M570.2 740.4h0M570.2 744.7h0M570.3 744.7h0M570.3 742.5h0M570.4 742.5h0M570.4 743.6h0M570.5 745.7h0M570.5 739.3h0M570.6 744.7h0M570.6 743.6h0M570.7 744.7h0M570.7 744.7h0M570.8 743.6h0M570.8 741.5h0M570.9 743.6h0M570.9 742.5h0M571.0 744.7h0M571.0 730.8h0M571.1 744.7h0M571.1 740.4h0M571.2 744.7h0M571.2 743.6h0M571.3 729.7h0M571.3 743.6h0M571.4 742.5h0M571.4 743.6h0M571.5 744.7h0M571.5 745.7h0M571.6 741.5h0M571.6 737.2h0M571.7 742.5h0M571.7 736.1h0M571.8 739.3h0M571.8 743.6h0M571.9 743.6h0M571.9 744.7h0M572.0 737.2h0M572.0 743.6h0M572.1 744.7h0M572.1 739.3h0M572.2 740.4h0M572.2 737.2h0M572.3 743.6h0M572.3 738.3h0M572.4 738.3h0M572.4 742.5h0M572.5 745.7h0M572.5 743.6h0M572.6 738.3h0M572.6 743.6h0M572.7 741.5h0M572.7 743.6h0M572.8 743.6h0M572.8 741.5h0M572.9 739.3h0M572.9 743.6h0M573.0 740.4h0M573.0 742.5h0M573.1 742.5h0M573.1 742.5h0M573.2 741.5h0M573.2 744.7h0M573.3 743.6h0M573.3 743.6h0M573.4 737.2h0M573.4 743.6h0M573.5 726.5h0M573.5 740.4h0M573.6 742.5h0M573.6 742.5h0M573.7 735.1h0M573.7 742.5h0M573.8 742.5h0M573.8 743.6h0M573.9 736.1h0M573.9 741.5h0M574.0 742.5h0M574.0 744.7h0M574.1 738.3h0M574.1 739.3h0M574.2 745.7h0M574.2 734.0h0M574.3 742.5h0M574.3 745.7h0M574.4 744.7h0M574.4 739.3h0M574.5 743.6h0M574.5 731.9h0M574.6 740.4h0M574.6 709.5h0M574.6 740.4h0M574.7 743.6h0M574.7 740.4h0M574.8 738.3h0M574.8 738.3h0M574.9 738.3h0M574.9 738.3h0M575.0 743.6h0M575.0 739.3h0M575.1 735.1h0M575.1 736.1h0M575.2 743.6h0M575.2 744.7h0M575.3 744.7h0M575.3 734.0h0M575.4 742.5h0M575.4 742.5h0M575.5 742.5h0M575.5 743.6h0M575.6 741.5h0M575.6 734.0h0M575.7 744.7h0M575.7 742.5h0M575.8 741.5h0M575.8 743.6h0M575.9 737.2h0M575.9 745.7h0M576.0 735.1h0M576.0 740.4h0M576.1 739.3h0M576.1 738.3h0M576.2 738.3h0M576.2 740.4h0M576.3 740.4h0M576.3 742.5h0M576.4 730.8h0M576.4 741.5h0M576.5 737.2h0M576.5 742.5h0M576.6 739.3h0M576.6 742.5h0M576.7 740.4h0M576.7 744.7h0M576.8 745.7h0M576.8 742.5h0M576.9 743.6h0M576.9 743.6h0M577.0 742.5h0M577.0 739.3h0M577.1 744.7h0M577.1 742.5h0M577.2 744.7h0M577.2 740.4h0M577.3 738.3h0M577.3 712.7h0M577.4 740.4h0M577.4 742.5h0M577.5 738.3h0M577.5 745.7h0M577.6 739.3h0M577.6 738.3h0M577.7 743.6h0M577.7 745.7h0M577.8 742.5h0M577.8 741.5h0M577.9 744.7h0M577.9 742.5h0M578.0 739.3h0M578.0 744.7h0M578.1 738.3h0M578.1 662.9h0M578.1 743.6h0M578.2 744.7h0M578.2 740.4h0M578.3 742.5h0M578.3 744.7h0M578.4 742.5h0M578.4 745.7h0M578.5 740.4h0M578.5 742.5h0M578.6 740.4h0M578.6 736.1h0M578.7 743.6h0M578.7 744.7h0M578.8 740.4h0M578.8 743.6h0M578.9 738.3h0M578.9 739.3h0M579.0 737.2h0M579.0 744.7h0M579.1 730.8h0M579.1 744.7h0M579.2 741.5h0M579.2 742.5h0M579.3 744.7h0M579.3 738.3h0M579.4 744.7h0M579.4 740.4h0M579.5 742.5h0M579.5 744.7h0M579.6 738.3h0M579.6 742.5h0M579.7 740.4h0M579.7 744.7h0M579.8 740.4h0M579.8 743.6h0M579.9 741.5h0M579.9 725.5h0M580.0 745.7h0M580.0 745.7h0M580.1 742.5h0M580.1 740.4h0M580.2 741.5h0M580.2 744.7h0M580.3 739.3h0M580.3 734.0h0M580.4 743.6h0M580.4 744.7h0M580.5 742.5h0M580.5 742.5h0M580.6 736.1h0M580.6 744.7h0M580.7 740.4h0M580.7 743.6h0M580.8 742.5h0M580.8 745.7h0M580.9 744.7h0M580.9 742.5h0M581.0 741.5h0M581.0 744.7h0M581.1 735.1h0M581.1 742.5h0M581.2 739.3h0M581.2 744.7h0M581.3 742.5h0M581.3 742.5h0M581.4 744.7h0M581.4 742.5h0M581.5 739.3h0M581.5 744.7h0M581.6 740.4h0M581.6 741.5h0M581.7 737.2h0M581.7 740.4h0M581.8 740.4h0M581.8 744.7h0M581.9 740.4h0M581.9 744.7h0M582.0 743.6h0M582.0 744.7h0M582.1 741.5h0M582.1 714.8h0M582.1 743.6h0M582.2 738.3h0M582.2 741.5h0M582.3 744.7h0M582.3 732.9h0M582.4 745.7h0M582.4 740.4h0M582.5 742.5h0M582.5 742.5h0M582.6 741.5h0M582.6 742.5h0M582.7 738.3h0M582.7 742.5h0M582.8 745.7h0M582.8 734.0h0M582.9 742.5h0M582.9 736.1h0M583.0 728.7h0M583.0 744.7h0M583.1 718.0h0M583.1 740.4h0M583.2 743.6h0M583.2 745.7h0M583.3 743.6h0M583.3 742.5h0M583.4 740.4h0M583.4 741.5h0M583.5 739.3h0M583.5 741.5h0M583.6 728.7h0M583.6 738.3h0M583.7 738.3h0M583.7 743.6h0M583.8 743.6h0M583.8 742.5h0M583.9 737.2h0M583.9 743.6h0M584.0 740.4h0M584.0 737.2h0M584.1 738.3h0M584.1 737.2h0M584.2 742.5h0M584.2 745.7h0M584.3 741.5h0M584.3 743.6h0M584.4 742.5h0M584.4 740.4h0M584.5 725.5h0M584.5 735.1h0M584.6 740.4h0M584.6 744.7h0M584.7 738.3h0M584.7 743.6h0M584.8 745.7h0M584.8 742.5h0M584.9 728.7h0M584.9 744.7h0M585.0 742.5h0M585.0 739.3h0M585.1 741.5h0M585.1 740.4h0M585.2 745.7h0M585.2 742.5h0M585.3 744.7h0M585.3 742.5h0M585.4 744.7h0M585.4 736.1h0M585.5 745.7h0M585.5 743.6h0M585.6 743.6h0M585.6 744.7h0M585.7 744.7h0M585.7 737.2h0M585.8 734.0h0M585.8 742.5h0M585.9 725.5h0M585.9 744.7h0M586.0 738.3h0M586.0 727.6h0M586.1 741.5h0M586.1 739.3h0M586.2 741.5h0M586.2 741.5h0M586.3 743.6h0M586.3 741.5h0M586.4 744.7h0M586.4 729.7h0M586.5 738.3h0M586.5 741.5h0M586.6 731.9h0M586.6 736.1h0M586.7 737.2h0M586.7 740.4h0M586.8 741.5h0M586.8 737.2h0M586.9 741.5h0M586.9 726.5h0M587.0 744.7h0M587.0 745.7h0M587.1 735.1h0M587.1 732.9h0M587.2 745.7h0M587.2 742.5h0M587.3 734.0h0M587.3 744.7h0M587.4 743.6h0M587.4 739.3h0M587.5 742.5h0M587.5 740.4h0M587.6 740.4h0M587.6 704.2h0M587.6 741.5h0M587.7 742.5h0M587.7 742.5h0M587.8 745.7h0M587.8 739.3h0M587.9 743.6h0M587.9 739.3h0M588.0 740.4h0M588.0 737.2h0M588.1 744.7h0M588.1 742.5h0M588.2 739.3h0M588.2 745.7h0M588.3 744.7h0M588.3 745.7h0M588.4 740.4h0M588.4 745.7h0M588.5 745.7h0M588.5 735.1h0M588.6 734.0h0M588.6 743.6h0M588.7 744.7h0M588.7 743.6h0M588.8 745.7h0M588.8 740.4h0M588.9 735.1h0M588.9 738.3h0M589.0 742.5h0M589.0 739.3h0M589.1 739.3h0M589.1 742.5h0M589.2 714.8h0M589.2 734.0h0M589.3 739.3h0M589.3 713.8h0M589.4 727.6h0M589.4 741.5h0M589.5 741.5h0M589.5 740.4h0M589.6 743.6h0M589.7 742.5h0M589.7 745.7h0M589.8 745.7h0M589.8 738.3h0M589.9 745.7h0M589.9 743.6h0M590.0 734.0h0M590.0 739.3h0M590.1 741.5h0M590.1 742.5h0M590.2 739.3h0M590.2 742.5h0M590.3 744.7h0M590.3 745.7h0M590.4 742.5h0M590.4 738.3h0M590.5 741.5h0M590.5 743.6h0M590.6 744.7h0M590.6 742.5h0M590.7 744.7h0M590.7 714.8h0M590.8 743.6h0M590.8 741.5h0M590.9 740.4h0M590.9 739.3h0M591.0 744.7h0M591.0 740.4h0M591.1 738.3h0M591.1 731.9h0M591.2 742.5h0M591.2 740.4h0M591.3 741.5h0M591.3 740.4h0M591.4 743.6h0M591.4 742.5h0M591.5 744.7h0M591.5 743.6h0M591.6 729.7h0M591.6 744.7h0M591.6 689.2h0M591.7 740.4h0M591.7 743.6h0M591.8 742.5h0M591.8 743.6h0M591.9 743.6h0M591.9 741.5h0M592.0 711.6h0M592.0 744.7h0M592.1 742.5h0M592.1 739.3h0M592.2 740.4h0M592.2 742.5h0M592.3 745.7h0M592.3 734.0h0M592.4 742.5h0M592.4 740.4h0M592.5 737.2h0M592.5 745.7h0M592.6 743.6h0M592.6 742.5h0M592.7 744.7h0M592.7 715.9h0M592.8 745.7h0M592.8 730.8h0M592.9 743.6h0M592.9 740.4h0M593.0 743.6h0M593.0 743.6h0M593.1 745.7h0M593.1 739.3h0M593.2 738.3h0M593.2 734.0h0M593.3 736.1h0M593.3 740.4h0M593.4 740.4h0M593.4 722.3h0M593.5 744.7h0M593.5 743.6h0M593.6 742.5h0M593.6 742.5h0M593.7 739.3h0M593.7 743.6h0M593.8 715.9h0M593.8 737.2h0M593.9 743.6h0M593.9 739.3h0M594.0 739.3h0M594.0 741.5h0M594.1 745.7h0M594.1 743.6h0M594.2 743.6h0M594.2 741.5h0M594.3 740.4h0M594.3 740.4h0M594.4 740.4h0M594.4 738.3h0M594.5 740.4h0M594.5 738.3h0M594.6 735.1h0M594.6 744.7h0M594.7 741.5h0M594.7 744.7h0M594.8 742.5h0M594.8 745.7h0M594.9 738.3h0M594.9 744.7h0M595.0 740.4h0M595.0 742.5h0M595.1 739.3h0M595.1 739.3h0M595.2 741.5h0M595.2 742.5h0M595.3 737.2h0M595.3 745.7h0M595.4 727.6h0M595.4 741.5h0M595.5 741.5h0M595.5 740.4h0M595.6 740.4h0M595.6 745.7h0M595.7 745.7h0M595.7 744.7h0M595.8 736.1h0M595.8 745.7h0M595.9 728.7h0M595.9 741.5h0M596.0 744.7h0M596.0 744.7h0M596.1 739.3h0M596.1 713.8h0M596.2 743.6h0M596.2 741.5h0M596.3 714.8h0M596.3 742.5h0M596.4 741.5h0M596.4 745.7h0M596.5 745.7h0M596.5 738.3h0M596.6 740.4h0M596.6 742.5h0M596.6 697.8h0M596.7 745.7h0M596.7 731.9h0M596.8 744.7h0M596.8 737.2h0M596.9 737.2h0M596.9 742.5h0M597.0 740.4h0M597.0 745.7h0M597.1 745.7h0M597.1 743.6h0M597.2 744.7h0M597.2 739.3h0M597.3 736.1h0M597.3 738.3h0M597.4 739.3h0M597.4 737.2h0M597.5 743.6h0M597.5 738.3h0M597.6 743.6h0M597.6 744.7h0M597.7 738.3h0M597.7 742.5h0M597.8 730.8h0M597.8 743.6h0M597.9 745.7h0M597.9 714.8h0M598.0 740.4h0M598.0 743.6h0M598.1 742.5h0M598.1 743.6h0M598.2 743.6h0M598.2 744.7h0M598.3 743.6h0M598.3 742.5h0M598.4 730.8h0M598.4 721.2h0M598.5 744.7h0M598.5 740.4h0M598.6 734.0h0M598.6 743.6h0M598.7 737.2h0M598.7 743.6h0M598.8 745.7h0M598.8 739.3h0M598.9 744.7h0M598.9 713.8h0M599.0 743.6h0M599.0 740.4h0M599.1 745.7h0M599.1 722.3h0M599.2 743.6h0M599.2 741.5h0M599.3 736.1h0M599.3 744.7h0M599.4 743.6h0M599.4 740.4h0M599.5 744.7h0M599.5 741.5h0M599.6 741.5h0M599.6 741.5h0M599.7 743.6h0M599.7 726.5h0M599.8 744.7h0M599.8 734.0h0M599.9 739.3h0M599.9 742.5h0M600.0 712.7h0M600.0 720.1h0M600.1 744.7h0M600.1 745.7h0M600.2 734.0h0M600.2 736.1h0M600.3 726.5h0M600.3 739.3h0M600.4 720.1h0M600.4 743.6h0M600.5 737.2h0M600.5 738.3h0M600.6 742.5h0M600.6 742.5h0M600.7 744.7h0M600.7 738.3h0M600.8 741.5h0M600.8 739.3h0M600.9 744.7h0M600.9 740.4h0M601.0 743.6h0M601.0 744.7h0M601.1 744.7h0M601.1 745.7h0M601.2 742.5h0M601.2 741.5h0M601.3 744.7h0M601.3 744.7h0M601.4 743.6h0M601.4 743.6h0M601.5 744.7h0M601.5 740.4h0M601.6 735.1h0M601.6 745.7h0M601.7 741.5h0M601.7 732.9h0M601.8 743.6h0M601.8 739.3h0M601.9 744.7h0M601.9 744.7h0M602.0 737.2h0M602.0 742.5h0M602.1 742.5h0M602.1 720.1h0M602.2 744.7h0M602.2 741.5h0M602.3 744.7h0M602.3 743.6h0M602.4 744.7h0M602.4 741.5h0M602.5 742.5h0M602.5 745.7h0M602.6 743.6h0M602.6 742.5h0M602.7 739.3h0M602.7 738.3h0M602.8 740.4h0M602.8 742.5h0M602.9 741.5h0M602.9 744.7h0M603.0 742.5h0M603.0 741.5h0M603.1 743.6h0M603.1 745.7h0M603.2 743.6h0M603.2 738.3h0M603.3 739.3h0M603.3 743.6h0M603.4 742.5h0M603.4 728.7h0M603.5 744.7h0M603.5 743.6h0M603.6 742.5h0M603.6 731.9h0M603.7 740.4h0M603.7 742.5h0M603.8 734.0h0M603.8 737.2h0M603.9 743.6h0M603.9 732.9h0M604.0 740.4h0M604.0 743.6h0M604.1 744.7h0M604.1 731.9h0M604.2 739.3h0M604.2 729.7h0M604.3 741.5h0M604.3 735.1h0M604.4 744.7h0M604.4 741.5h0M604.5 743.6h0M604.5 734.0h0M604.6 743.6h0M604.6 742.5h0M604.6 709.5h0M604.7 742.5h0M604.7 741.5h0M604.8 741.5h0M604.8 743.6h0M604.9 741.5h0M604.9 744.7h0M605.0 740.4h0M605.0 740.4h0M605.1 745.7h0M605.1 738.3h0M605.2 742.5h0M605.2 735.1h0M605.3 742.5h0M605.3 742.5h0M605.4 742.5h0M605.4 735.1h0M605.5 743.6h0M605.5 739.3h0M605.6 732.9h0M605.6 741.5h0M605.7 743.6h0M605.7 744.7h0M605.8 741.5h0M605.8 736.1h0M605.9 745.7h0M605.9 743.6h0M606.0 741.5h0M606.0 744.7h0M606.1 745.7h0M606.1 743.6h0M606.2 741.5h0M606.2 744.7h0M606.3 736.1h0M606.3 744.7h0M606.4 741.5h0M606.4 743.6h0M606.5 739.3h0M606.5 745.7h0M606.6 740.4h0M606.6 731.9h0M606.7 743.6h0M606.7 745.7h0M606.8 736.1h0M606.8 743.6h0M606.9 737.2h0M606.9 742.5h0M607.0 730.8h0M607.0 741.5h0M607.1 741.5h0M607.1 738.3h0M607.2 740.4h0M607.2 742.5h0M607.3 745.7h0M607.3 741.5h0M607.4 745.7h0M607.4 739.3h0M607.5 732.9h0M607.5 742.5h0M607.6 741.5h0M607.6 738.3h0M607.7 745.7h0M607.7 743.6h0M607.8 742.5h0M607.8 741.5h0M607.9 741.5h0M607.9 736.1h0M608.0 742.5h0M608.0 744.7h0M608.1 744.7h0M608.1 742.5h0M608.2 742.5h0M608.2 742.5h0M608.3 739.3h0M608.3 739.3h0M608.4 741.5h0M608.4 737.2h0M608.5 742.5h0M608.5 741.5h0M608.6 740.4h0M608.6 743.6h0M608.7 719.1h0M608.7 735.1h0M608.8 743.6h0M608.8 742.5h0M608.9 740.4h0M608.9 740.4h0M609.0 740.4h0M609.0 740.4h0M609.1 740.4h0M609.1 738.3h0M609.2 740.4h0M609.2 745.7h0M609.3 744.7h0M609.3 745.7h0M609.4 744.7h0M609.4 741.5h0M609.5 743.6h0M609.5 743.6h0M609.6 741.5h0M609.6 742.5h0M609.7 741.5h0M609.7 743.6h0M609.8 741.5h0M609.8 734.0h0M609.9 744.7h0M609.9 740.4h0M610.0 725.5h0M610.0 740.4h0M610.1 739.3h0M610.1 739.3h0M610.2 724.4h0M610.2 742.5h0M610.3 743.6h0M610.3 744.7h0M610.4 730.8h0M610.4 734.0h0M610.5 719.1h0M610.5 737.2h0M610.6 736.1h0M610.6 741.5h0M610.7 737.2h0M610.7 730.8h0M610.8 739.3h0M610.8 741.5h0M610.9 723.3h0M610.9 719.1h0M611.0 736.1h0M611.0 727.6h0M611.1 741.5h0M611.1 707.4h0M611.2 741.5h0M611.2 730.8h0M611.3 745.7h0M611.3 728.7h0M611.4 738.3h0M611.4 731.9h0M611.5 742.5h0M611.5 729.7h0M611.6 745.7h0M611.6 735.1h0M611.7 740.4h0M611.7 738.3h0M611.8 728.7h0M611.8 725.5h0M611.9 741.5h0M611.9 742.5h0M612.0 743.6h0M612.0 739.3h0M612.1 740.4h0M612.1 737.2h0M612.2 742.5h0M612.2 741.5h0M612.3 741.5h0M612.3 743.6h0M612.4 742.5h0M612.4 734.0h0M612.5 736.1h0M612.5 740.4h0M612.6 727.6h0M612.6 743.6h0M612.7 739.3h0M612.7 732.9h0M612.8 743.6h0M612.8 714.8h0M612.9 742.5h0M612.9 741.5h0M613.0 736.1h0M613.0 741.5h0M613.1 739.3h0M613.1 735.1h0M613.2 741.5h0M613.2 724.4h0M613.3 730.8h0M613.3 737.2h0M613.4 741.5h0M613.4 726.5h0M613.5 736.1h0M613.5 734.0h0M613.6 735.1h0M613.6 728.7h0M613.6 698.8h0M613.7 744.7h0M613.7 726.5h0M613.8 702.0h0M613.8 744.7h0M613.9 739.3h0M613.9 730.8h0M614.0 710.6h0M614.0 742.5h0M614.1 717.0h0M614.1 720.1h0M614.2 734.0h0M614.2 731.9h0M614.3 739.3h0M614.3 739.3h0M614.4 707.4h0M614.4 728.7h0M614.5 741.5h0M614.5 737.2h0M614.6 737.2h0M614.6 739.3h0M614.6 695.6h0M614.7 740.4h0M614.8 734.0h0M614.8 740.4h0M614.9 734.0h0M614.9 729.7h0M615.0 707.4h0M615.0 717.0h0M615.1 707.4h0M615.1 738.3h0M615.2 730.8h0M615.2 743.6h0M615.3 745.7h0M615.3 739.3h0M615.4 731.9h0M615.4 744.7h0M615.5 727.6h0M615.5 740.4h0M615.6 739.3h0M615.6 744.7h0M615.7 742.5h0M615.7 683.9h0M615.7 578.5h0M615.7 740.4h0M615.8 725.5h0M615.8 743.6h0M615.9 734.0h0M615.9 727.6h0M616.0 741.5h0M616.0 729.7h0M616.1 735.1h0M616.1 739.3h0M616.2 734.0h0M616.2 742.5h0M616.3 717.0h0M616.3 742.5h0M616.4 730.8h0M616.4 744.7h0M616.5 739.3h0M616.5 728.7h0M616.6 742.5h0M616.6 744.7h0M616.7 737.2h0M616.7 725.5h0M616.8 743.6h0M616.8 734.0h0M616.9 723.3h0M616.9 739.3h0M617.0 715.9h0M617.0 738.3h0M617.1 734.0h0M617.1 734.0h0M617.2 738.3h0M617.2 702.0h0M617.2 741.5h0M617.3 727.6h0M617.3 740.4h0M617.4 740.4h0M617.4 740.4h0M617.5 743.6h0M617.5 728.7h0M617.6 739.3h0M617.6 738.3h0M617.7 730.8h0M617.7 732.9h0M617.8 735.1h0M617.8 734.0h0M617.9 740.4h0M617.9 712.7h0M618.0 745.7h0M618.0 742.5h0M618.1 741.5h0M618.1 738.3h0M618.2 741.5h0M618.2 741.5h0M618.3 741.5h0M618.3 738.3h0M618.4 738.3h0M618.4 729.7h0M618.5 742.5h0M618.5 732.9h0M618.6 737.2h0M618.6 730.8h0M618.7 738.3h0M618.7 721.2h0M618.8 742.5h0M618.8 741.5h0M618.9 741.5h0M618.9 726.5h0M619.0 743.6h0M619.0 737.2h0M619.1 743.6h0M619.1 745.7h0M619.2 734.0h0M619.2 663.7h0M619.2 742.5h0M619.3 745.7h0M619.3 737.2h0M619.4 731.9h0M619.4 739.3h0M619.5 740.4h0M619.5 742.5h0M619.6 740.4h0M619.6 738.3h0M619.7 722.3h0M619.7 736.1h0M619.8 731.9h0M619.8 739.3h0M619.9 738.3h0M619.9 736.1h0M620.0 740.4h0M620.0 735.1h0M620.1 739.3h0M620.1 732.9h0M620.2 734.0h0M620.2 739.3h0M620.3 730.8h0M620.3 742.5h0M620.4 734.0h0M620.4 744.7h0M620.5 729.7h0M620.5 734.0h0M620.6 739.3h0M620.6 741.5h0M620.7 742.5h0M620.7 744.7h0M620.8 742.5h0M620.8 744.7h0M620.9 742.5h0M620.9 737.2h0M621.0 744.7h0M621.0 744.7h0M621.1 742.5h0M621.1 744.7h0M621.2 743.6h0M621.2 745.7h0M621.3 740.4h0M621.3 745.7h0M621.4 745.7h0M621.4 736.1h0M621.5 743.6h0M621.5 739.3h0M621.6 742.5h0M621.6 742.5h0M621.7 739.3h0M621.7 743.6h0M621.8 744.7h0M621.8 715.9h0M621.9 738.3h0M621.9 742.5h0M622.0 740.4h0M622.0 742.5h0M622.1 744.7h0M622.1 739.3h0M622.2 742.5h0M622.2 742.5h0M622.3 719.1h0M622.3 737.2h0M622.4 727.6h0M622.4 736.1h0M622.5 745.7h0M622.5 744.7h0M622.6 738.3h0M622.6 734.0h0M622.7 734.0h0M622.7 739.3h0M622.8 737.2h0M622.8 742.5h0M622.9 744.7h0M622.9 740.4h0M623.0 743.6h0M623.0 742.5h0M623.1 741.5h0M623.1 740.4h0M623.2 736.1h0M623.2 741.5h0M623.3 742.5h0M623.3 739.3h0M623.4 744.7h0M623.4 741.5h0M623.5 738.3h0M623.5 740.4h0M623.6 741.5h0M623.6 742.5h0M623.7 736.1h0M623.7 739.3h0M623.8 740.4h0M623.8 744.7h0M623.9 742.5h0M623.9 728.7h0M624.0 729.7h0M624.0 743.6h0M624.1 741.5h0M624.1 741.5h0M624.2 714.8h0M624.2 745.7h0M624.3 741.5h0M624.3 745.7h0M624.4 732.9h0M624.4 743.6h0M624.5 739.3h0M624.5 745.7h0M624.6 726.5h0M624.6 742.5h0M624.7 740.4h0M624.7 714.8h0M624.7 739.3h0M624.8 742.5h0M624.8 740.4h0M624.9 740.4h0M624.9 741.5h0M625.0 737.2h0M625.0 735.1h0M625.1 739.3h0M625.1 743.6h0M625.2 735.1h0M625.2 737.2h0M625.3 741.5h0M625.3 740.4h0M625.4 735.1h0M625.4 740.4h0M625.5 740.4h0M625.5 744.7h0M625.6 732.9h0M625.6 738.3h0M625.7 740.4h0M625.7 741.5h0M625.8 744.7h0M625.8 735.1h0M625.9 726.5h0M625.9 739.3h0M626.0 729.7h0M626.0 712.7h0M626.1 731.9h0M626.1 744.7h0M626.2 717.0h0M626.2 742.5h0M626.3 741.5h0M626.3 742.5h0M626.4 740.4h0M626.4 743.6h0M626.5 741.5h0M626.5 732.9h0M626.6 744.7h0M626.6 745.7h0M626.7 740.4h0M626.7 743.6h0M626.8 726.5h0M626.8 742.5h0M626.9 743.6h0M626.9 743.6h0M627.0 739.3h0M627.0 741.5h0M627.1 739.3h0M627.1 741.5h0M627.2 744.7h0M627.2 744.7h0M627.3 740.4h0M627.3 745.7h0M627.4 744.7h0M627.4 743.6h0M627.5 728.7h0M627.5 739.3h0M627.6 738.3h0M627.6 739.3h0M627.7 742.5h0M627.7 743.6h0M627.8 739.3h0M627.8 741.5h0M627.9 738.3h0M627.9 744.7h0M628.0 740.4h0M628.0 744.7h0M628.1 741.5h0M628.1 743.6h0M628.2 730.8h0M628.2 744.7h0M628.3 740.4h0M628.3 739.3h0M628.4 734.0h0M628.4 742.5h0M628.5 738.3h0M628.5 744.7h0M628.6 743.6h0M628.6 740.4h0M628.7 743.6h0M628.7 743.6h0M628.8 735.1h0M628.8 739.3h0M628.9 742.5h0M628.9 735.1h0M629.0 742.5h0M629.0 740.4h0M629.1 740.4h0M629.1 743.6h0M629.2 737.2h0M629.2 742.5h0M629.3 735.1h0M629.3 742.5h0M629.4 742.5h0M629.4 736.1h0M629.5 739.3h0M629.5 740.4h0M629.6 735.1h0M629.6 743.6h0M629.7 744.7h0M629.7 744.7h0M629.8 743.6h0M629.8 739.3h0M629.9 744.7h0M629.9 745.7h0M630.0 743.6h0M630.0 736.1h0M630.1 734.0h0M630.1 741.5h0M630.2 737.2h0M630.2 732.9h0M630.3 742.5h0M630.3 740.4h0M630.4 742.5h0M630.4 744.7h0M630.5 739.3h0M630.5 743.6h0M630.6 741.5h0M630.6 740.4h0M630.7 741.5h0M630.7 742.5h0M630.8 739.3h0M630.8 743.6h0M630.9 741.5h0M630.9 742.5h0M631.0 735.1h0M631.0 740.4h0M631.1 744.7h0M631.1 744.7h0M631.2 648.0h0M631.2 717.0h0M631.2 736.1h0M631.3 719.1h0M631.3 745.7h0M631.4 743.6h0M631.4 744.7h0M631.5 743.6h0M631.5 742.5h0M631.6 744.7h0M631.6 737.2h0M631.7 675.4h0M631.7 741.5h0M631.7 741.5h0M631.8 726.5h0M631.8 741.5h0M631.9 744.7h0M631.9 738.3h0M632.0 744.7h0M632.0 739.3h0M632.1 741.5h0M632.1 745.7h0M632.2 742.5h0M632.2 734.0h0M632.3 742.5h0M632.3 741.5h0M632.4 743.6h0M632.4 741.5h0M632.5 745.7h0M632.5 739.3h0M632.6 734.0h0M632.6 740.4h0M632.7 743.6h0M632.7 743.6h0M632.8 741.5h0M632.8 743.6h0M632.9 745.7h0M632.9 720.1h0M633.0 744.7h0M633.0 742.5h0M633.1 738.3h0M633.1 742.5h0M633.2 740.4h0M633.2 738.3h0M633.3 741.5h0M633.3 744.7h0M633.4 743.6h0M633.4 740.4h0M633.5 738.3h0M633.5 738.3h0M633.6 744.7h0M633.6 742.5h0M633.7 742.5h0M633.7 738.3h0M633.8 744.7h0M633.8 742.5h0M633.9 743.6h0M633.9 737.2h0M634.0 736.1h0M634.0 734.0h0M634.1 737.2h0M634.1 744.7h0M634.2 741.5h0M634.2 742.5h0M634.3 744.7h0M634.3 734.0h0M634.4 744.7h0M634.4 738.3h0M634.5 742.5h0M634.5 744.7h0M634.6 742.5h0M634.6 742.5h0M634.7 742.5h0M634.7 745.7h0M634.8 741.5h0M634.8 738.3h0M634.9 742.5h0M634.9 740.4h0M635.0 725.5h0M635.0 739.3h0M635.1 743.6h0M635.1 743.6h0M635.2 743.6h0M635.2 740.4h0M635.3 743.6h0M635.3 745.7h0M635.4 742.5h0M635.4 741.5h0M635.5 740.4h0M635.5 745.7h0M635.6 736.1h0M635.6 738.3h0M635.7 744.7h0M635.7 743.6h0M635.8 715.9h0M635.8 731.9h0M635.9 744.7h0M635.9 740.4h0M636.0 743.6h0M636.0 742.5h0M636.1 738.3h0M636.1 744.7h0M636.2 741.5h0M636.2 739.3h0M636.3 744.7h0M636.3 744.7h0M636.4 736.1h0M636.4 744.7h0M636.5 744.7h0M636.5 745.7h0M636.6 738.3h0M636.6 745.7h0M636.7 742.5h0M636.7 742.5h0M636.8 739.3h0M636.8 744.7h0M636.9 744.7h0M636.9 739.3h0M637.0 739.3h0M637.0 732.9h0M637.1 744.7h0M637.1 742.5h0M637.2 744.7h0M637.2 742.5h0M637.3 744.7h0M637.3 741.5h0M637.4 742.5h0M637.4 734.0h0M637.5 743.6h0M637.5 743.6h0M637.6 745.7h0M637.6 745.7h0M637.7 736.1h0M637.7 720.1h0M637.8 740.4h0M637.8 719.1h0M637.9 743.6h0M637.9 742.5h0M638.0 742.5h0M638.0 738.3h0M638.1 741.5h0M638.1 742.5h0M638.2 743.6h0M638.2 740.4h0M638.3 739.3h0M638.3 742.5h0M638.4 740.4h0M638.4 740.4h0M638.5 744.7h0M638.5 718.0h0M638.6 739.3h0M638.6 741.5h0M638.7 745.7h0M638.7 743.6h0M638.8 735.1h0M638.8 740.4h0M638.9 739.3h0M638.9 740.4h0M639.0 745.7h0M639.0 743.6h0M639.1 744.7h0M639.1 745.7h0M639.2 738.3h0M639.2 741.5h0M639.3 738.3h0M639.3 740.4h0M639.4 742.5h0M639.4 741.5h0M639.5 742.5h0M639.5 740.4h0M639.6 742.5h0M639.6 718.0h0M639.7 741.5h0M639.8 743.6h0M639.8 741.5h0M639.9 743.6h0M639.9 714.8h0M640.0 732.9h0M640.0 744.7h0M640.1 745.7h0M640.1 745.7h0M640.2 725.5h0M640.2 745.7h0M640.3 743.6h0M640.3 738.3h0M640.4 744.7h0M640.4 745.7h0M640.5 744.7h0M640.5 742.5h0M640.6 737.2h0M640.6 741.5h0M640.7 741.5h0M640.7 745.7h0M640.8 744.7h0M640.8 739.3h0M640.9 736.1h0M640.9 742.5h0M641.0 742.5h0M641.0 744.7h0M641.1 741.5h0M641.1 743.6h0M641.2 736.1h0M641.2 722.3h0M641.3 727.6h0M641.3 743.6h0M641.4 736.1h0M641.4 742.5h0M641.5 740.4h0M641.5 744.7h0M641.6 737.2h0M641.6 734.0h0M641.7 740.4h0M641.7 742.5h0M641.8 742.5h0M641.8 742.5h0M641.9 740.4h0M641.9 742.5h0M642.0 742.5h0M642.0 708.4h0M642.1 737.2h0M642.1 745.7h0M642.2 735.1h0M642.2 739.3h0M642.3 727.6h0M642.3 743.6h0M642.4 730.8h0M642.4 742.5h0M642.5 744.7h0M642.5 744.7h0M642.6 740.4h0M642.6 739.3h0M642.7 732.9h0M642.7 744.7h0M642.8 744.7h0M642.8 729.7h0M642.9 736.1h0M642.9 743.6h0M643.0 741.5h0M643.0 738.3h0M643.1 741.5h0M643.1 743.6h0M643.2 731.9h0M643.2 740.4h0M643.3 741.5h0M643.3 745.7h0M643.4 745.7h0M643.4 743.6h0M643.5 740.4h0M643.5 742.5h0M643.6 739.3h0M643.6 737.2h0M643.7 744.7h0M643.7 699.9h0M643.7 712.7h0M643.8 741.5h0M643.8 740.4h0M643.9 740.4h0M643.9 740.4h0M644.0 735.1h0M644.0 742.5h0M644.1 745.7h0M644.1 743.6h0M644.2 742.5h0M644.2 742.5h0M644.3 736.1h0M644.3 742.5h0M644.4 734.0h0M644.4 744.7h0M644.5 740.4h0M644.5 745.7h0M644.6 745.7h0M644.6 738.3h0M644.7 741.5h0M644.7 742.5h0M644.8 744.7h0M644.8 743.6h0M644.9 741.5h0M644.9 738.3h0M645.0 742.5h0M645.0 739.3h0M645.1 738.3h0M645.1 743.6h0M645.2 737.2h0M645.2 744.7h0M645.3 735.1h0M645.3 737.2h0M645.4 739.3h0M645.4 738.3h0M645.5 743.6h0M645.5 735.1h0M645.6 743.6h0M645.6 740.4h0M645.7 740.4h0M645.7 744.7h0M645.8 741.5h0M645.8 742.5h0M645.9 739.3h0M645.9 734.0h0M646.0 745.7h0M646.0 735.1h0M646.1 745.7h0M646.1 740.4h0M646.2 743.6h0M646.2 737.2h0M646.3 745.7h0M646.3 740.4h0M646.4 737.2h0M646.4 734.0h0M646.5 745.7h0M646.5 737.2h0M646.6 742.5h0M646.6 742.5h0M646.7 744.7h0M646.7 738.3h0M646.8 745.7h0M646.8 738.3h0M646.9 743.6h0M646.9 730.8h0M647.0 745.7h0M647.0 732.9h0M647.1 740.4h0M647.1 743.6h0M647.2 743.6h0M647.2 720.1h0M647.2 740.4h0M647.3 745.7h0M647.3 738.3h0M647.4 742.5h0M647.4 735.1h0M647.5 737.2h0M647.5 743.6h0M647.6 744.7h0M647.6 737.2h0M647.7 743.6h0M647.7 737.2h0M647.8 737.2h0M647.8 739.3h0M647.9 734.0h0M647.9 743.6h0M648.0 743.6h0M648.0 743.6h0M648.1 738.3h0M648.1 738.3h0M648.2 743.6h0M648.2 742.5h0M648.3 743.6h0M648.3 740.4h0M648.4 730.8h0M648.4 741.5h0M648.5 740.4h0M648.5 744.7h0M648.6 739.3h0M648.6 734.0h0M648.7 714.8h0" stroke="#1766a3" stroke-width="3.1" stroke-linecap="round" fill="none"/>
</svg>
</body></html>
